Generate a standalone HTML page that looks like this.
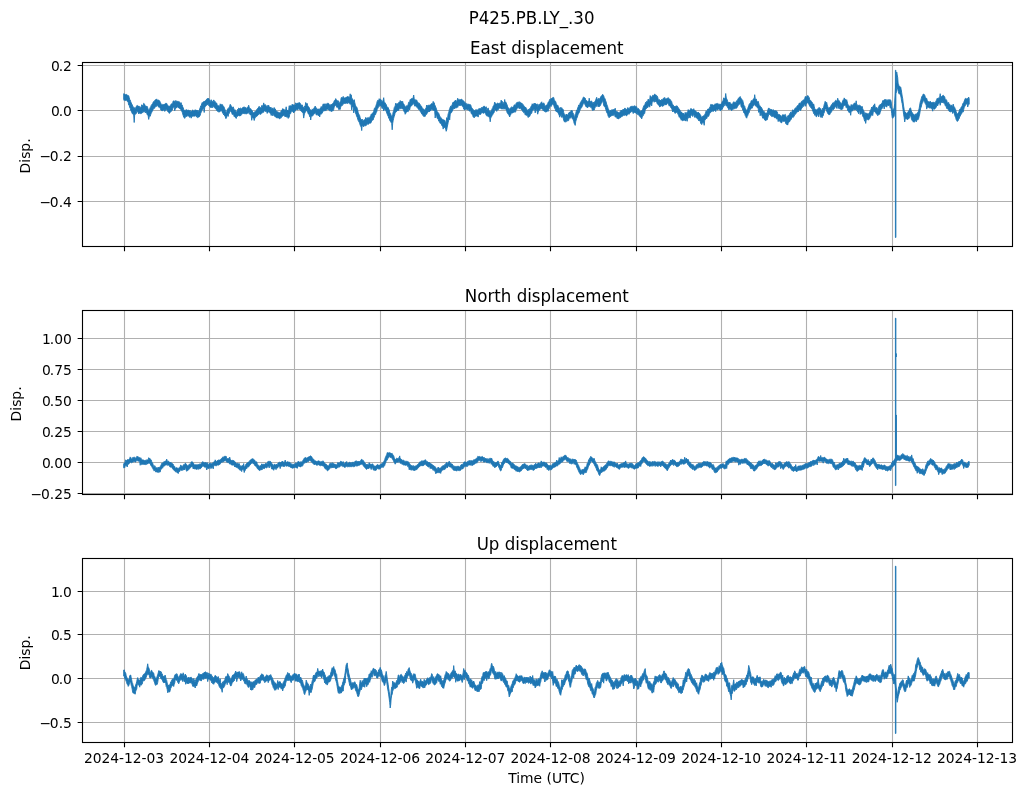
<!DOCTYPE html>
<html><head><meta charset="utf-8"><title>P425.PB.LY_.30</title>
<style>html,body{margin:0;padding:0;background:#fff}svg{display:block}text{font-family:"DejaVu Sans","Liberation Sans",sans-serif;fill:#000}</style></head><body>
<svg width="1026" height="795" viewBox="0 0 1026 795">
<rect width="1026" height="795" fill="#fff"/>
<text transform="translate(531.6 24) scale(1 1.08)" font-size="16.67" text-anchor="middle">P425.PB.LY_.30</text>
<g>
<path d="M124.50 62.50V246.50M209.50 62.50V246.50M294.50 62.50V246.50M380.50 62.50V246.50M465.50 62.50V246.50M550.50 62.50V246.50M636.50 62.50V246.50M721.50 62.50V246.50M806.50 62.50V246.50M892.50 62.50V246.50M977.50 62.50V246.50M82.50 65.50H1012.50M82.50 110.50H1012.50M82.50 156.50H1012.50M82.50 201.50H1012.50" stroke="#b0b0b0" stroke-width="1.11" fill="none"/>
<clipPath id="c0"><rect x="82.50" y="62.50" width="930.00" height="184.00"/></clipPath>
<path clip-path="url(#c0)" d="M123.7 93.7L124.2 93.8L124.7 94.2L125.2 94.8L125.7 94.5L126.2 94.4L126.7 94.5L127.2 95.6L127.7 95.3L128.2 95.6L128.7 95.7L129.2 97.6L129.7 99.4L130.2 100.0L130.7 101.6L131.2 102.7L131.7 104.0L132.2 104.7L132.7 106.2L133.2 106.6L133.7 107.6L134.2 109.5L134.7 107.6L135.2 108.4L135.7 108.0L136.2 106.8L136.7 105.7L137.2 105.4L137.7 105.7L138.2 107.0L138.7 105.9L139.2 107.7L139.7 106.4L140.2 107.8L140.7 107.6L141.2 106.7L141.7 104.8L142.2 105.1L142.7 105.8L143.2 105.4L143.7 103.3L144.2 103.7L144.7 104.6L145.2 105.6L145.7 106.3L146.2 106.0L146.7 107.2L147.2 106.4L147.7 107.8L148.2 109.4L148.7 110.4L149.2 109.5L149.7 108.8L150.2 107.5L150.7 107.0L151.2 105.4L151.7 104.7L152.2 104.0L152.7 103.8L153.2 102.1L153.7 101.5L154.2 101.6L154.7 100.5L155.2 99.8L155.7 99.8L156.2 99.9L156.7 98.9L157.2 100.8L157.7 99.9L158.2 100.0L158.7 100.1L159.2 100.9L159.7 100.8L160.2 102.3L160.7 102.8L161.2 104.5L161.7 104.7L162.2 104.3L162.7 104.8L163.2 104.6L163.7 104.7L164.2 104.0L164.7 104.3L165.2 104.1L165.7 103.3L166.2 103.5L166.7 103.3L167.2 104.5L167.7 105.1L168.2 106.2L168.7 106.0L169.2 106.9L169.7 105.9L170.2 105.9L170.7 105.1L171.2 104.0L171.7 103.8L172.2 103.8L172.7 103.0L173.2 101.0L173.7 100.9L174.2 100.8L174.7 101.6L175.2 102.6L175.7 100.5L176.2 101.4L176.7 101.1L177.2 101.3L177.7 101.3L178.2 101.9L178.7 101.4L179.2 101.6L179.7 102.2L180.2 103.0L180.7 103.3L181.2 102.7L181.7 104.7L182.2 105.0L182.7 106.8L183.2 107.8L183.7 109.3L184.2 110.7L184.7 110.1L185.2 110.7L185.7 110.7L186.2 109.5L186.7 110.2L187.2 110.5L187.7 110.0L188.2 110.2L188.7 110.0L189.2 110.5L189.7 111.1L190.2 110.4L190.7 111.4L191.2 112.1L191.7 111.1L192.2 111.1L192.7 109.8L193.2 110.6L193.7 111.1L194.2 110.8L194.7 110.7L195.2 109.7L195.7 110.2L196.2 110.1L196.7 110.6L197.2 110.1L197.7 110.9L198.2 111.5L198.7 110.6L199.2 110.9L199.7 108.7L200.2 107.6L200.7 105.9L201.2 105.8L201.7 103.7L202.2 102.6L202.7 103.2L203.2 101.8L203.7 102.1L204.2 101.1L204.7 101.7L205.2 100.7L205.7 100.5L206.2 99.9L206.7 99.1L207.2 99.2L207.7 98.3L208.2 99.1L208.7 98.3L209.2 99.8L209.7 100.0L210.2 101.4L210.7 101.4L211.2 99.7L211.7 101.8L212.2 100.9L212.7 101.4L213.2 101.7L213.7 99.9L214.2 101.2L214.7 101.2L215.2 101.5L215.7 102.5L216.2 102.9L216.7 103.1L217.2 104.8L217.7 105.6L218.2 106.1L218.7 105.5L219.2 106.5L219.7 106.2L220.2 103.8L220.7 104.9L221.2 104.7L221.7 104.4L222.2 104.6L222.7 104.8L223.2 107.0L223.7 106.5L224.2 107.3L224.7 108.9L225.2 109.9L225.7 111.8L226.2 112.9L226.7 111.4L227.2 110.0L227.7 108.8L228.2 108.4L228.7 107.8L229.2 107.6L229.7 106.2L230.2 104.3L230.7 104.8L231.2 106.2L231.7 106.5L232.2 107.6L232.7 107.7L233.2 106.8L233.7 108.2L234.2 109.5L234.7 110.2L235.2 109.8L235.7 112.1L236.2 112.2L236.7 111.4L237.2 110.8L237.7 109.2L238.2 109.8L238.7 108.0L239.2 108.4L239.7 108.6L240.2 108.2L240.7 108.2L241.2 108.5L241.7 109.0L242.2 108.1L242.7 107.7L243.2 107.0L243.7 107.3L244.2 106.8L244.7 107.6L245.2 107.6L245.7 107.5L246.2 108.0L246.7 108.4L247.2 107.4L247.7 107.6L248.2 106.4L248.7 105.2L249.2 107.2L249.7 108.3L250.2 108.9L250.7 108.6L251.2 109.6L251.7 110.0L252.2 110.9L252.7 112.0L253.2 112.4L253.7 112.7L254.2 113.1L254.7 111.7L255.2 111.9L255.7 111.1L256.2 111.0L256.7 109.5L257.2 109.3L257.7 108.3L258.2 108.1L258.7 107.1L259.2 106.3L259.7 107.6L260.2 107.7L260.7 107.6L261.2 107.7L261.7 105.5L262.2 106.5L262.7 105.5L263.2 105.3L263.7 102.9L264.2 105.0L264.7 105.1L265.2 104.5L265.7 105.2L266.2 105.9L266.7 106.2L267.2 106.4L267.7 105.4L268.2 106.2L268.7 105.2L269.2 107.1L269.7 107.1L270.2 107.8L270.7 107.1L271.2 107.6L271.7 108.4L272.2 108.8L272.7 107.9L273.2 108.9L273.7 109.8L274.2 107.5L274.7 110.4L275.2 108.8L275.7 109.9L276.2 111.4L276.7 111.0L277.2 111.6L277.7 112.1L278.2 111.9L278.7 112.5L279.2 112.7L279.7 112.8L280.2 112.5L280.7 112.0L281.2 110.9L281.7 110.3L282.2 110.0L282.7 108.6L283.2 110.1L283.7 108.9L284.2 109.4L284.7 110.6L285.2 109.9L285.7 109.7L286.2 106.8L286.7 111.3L287.2 109.9L287.7 110.9L288.2 111.1L288.7 109.5L289.2 105.8L289.7 107.8L290.2 105.4L290.7 107.0L291.2 106.1L291.7 105.9L292.2 104.2L292.7 105.0L293.2 105.1L293.7 104.9L294.2 104.6L294.7 105.8L295.2 104.9L295.7 102.8L296.2 103.3L296.7 103.7L297.2 104.1L297.7 102.9L298.2 103.8L298.7 102.7L299.2 102.9L299.7 102.6L300.2 103.3L300.7 104.2L301.2 104.8L301.7 105.3L302.2 104.9L302.7 106.3L303.2 106.9L303.7 107.8L304.2 107.7L304.7 106.0L305.2 105.9L305.7 102.5L306.2 103.4L306.7 104.0L307.2 103.4L307.7 105.6L308.2 106.7L308.7 106.8L309.2 107.6L309.7 109.1L310.2 109.6L310.7 109.9L311.2 110.4L311.7 111.0L312.2 108.9L312.7 109.4L313.2 109.3L313.7 108.5L314.2 107.5L314.7 107.2L315.2 106.1L315.7 107.2L316.2 107.8L316.7 109.2L317.2 109.3L317.7 109.1L318.2 109.3L318.7 108.8L319.2 109.5L319.7 109.6L320.2 108.1L320.7 108.3L321.2 106.5L321.7 107.3L322.2 107.2L322.7 105.3L323.2 103.9L323.7 104.8L324.2 103.7L324.7 105.1L325.2 105.4L325.7 103.8L326.2 104.2L326.7 103.9L327.2 103.7L327.7 102.9L328.2 103.4L328.7 103.5L329.2 104.4L329.7 105.3L330.2 104.7L330.7 105.4L331.2 104.3L331.7 105.0L332.2 103.9L332.7 103.8L333.2 102.8L333.7 102.7L334.2 100.7L334.7 100.4L335.2 100.1L335.7 98.6L336.2 99.7L336.7 99.9L337.2 100.4L337.7 101.2L338.2 100.7L338.7 102.2L339.2 103.2L339.7 103.0L340.2 101.5L340.7 100.7L341.2 97.7L341.7 97.4L342.2 98.1L342.7 97.4L343.2 96.4L343.7 97.8L344.2 97.8L344.7 98.1L345.2 97.7L345.7 98.1L346.2 97.0L346.7 97.3L347.2 96.6L347.7 96.6L348.2 97.2L348.7 96.6L349.2 97.6L349.7 97.6L350.2 93.8L350.7 98.1L351.2 94.8L351.7 98.4L352.2 98.4L352.7 100.1L353.2 100.2L353.7 101.8L354.2 99.6L354.7 102.2L355.2 104.3L355.7 105.8L356.2 106.9L356.7 107.0L357.2 108.2L357.7 109.9L358.2 112.6L358.7 113.9L359.2 114.8L359.7 115.7L360.2 117.8L360.7 119.1L361.2 120.1L361.7 119.6L362.2 119.0L362.7 120.9L363.2 120.6L363.7 120.2L364.2 120.0L364.7 119.6L365.2 119.9L365.7 117.4L366.2 120.0L366.7 118.2L367.2 118.6L367.7 117.6L368.2 118.6L368.7 117.5L369.2 117.9L369.7 117.4L370.2 116.2L370.7 116.3L371.2 114.0L371.7 114.4L372.2 113.3L372.7 113.7L373.2 112.0L373.7 111.6L374.2 108.9L374.7 107.9L375.2 107.8L375.7 106.5L376.2 105.0L376.7 103.4L377.2 101.4L377.7 100.3L378.2 100.2L378.7 100.7L379.2 98.7L379.7 99.2L380.2 99.0L380.7 99.5L381.2 99.9L381.7 101.6L382.2 101.6L382.7 101.0L383.2 100.1L383.7 97.7L384.2 101.9L384.7 102.7L385.2 102.8L385.7 104.3L386.2 104.4L386.7 106.1L387.2 107.0L387.7 107.6L388.2 107.5L388.7 109.2L389.2 109.6L389.7 112.2L390.2 113.4L390.7 113.6L391.2 116.0L391.7 115.9L392.2 116.8L392.7 114.4L393.2 111.9L393.7 110.8L394.2 107.7L394.7 106.9L395.2 105.9L395.7 103.2L396.2 104.8L396.7 103.7L397.2 103.8L397.7 103.7L398.2 103.2L398.7 102.8L399.2 101.9L399.7 103.1L400.2 100.5L400.7 102.8L401.2 101.4L401.7 101.6L402.2 101.0L402.7 101.5L403.2 103.7L403.7 103.8L404.2 104.7L404.7 105.5L405.2 107.1L405.7 106.9L406.2 106.3L406.7 105.6L407.2 105.9L407.7 105.5L408.2 104.2L408.7 102.2L409.2 102.5L409.7 101.4L410.2 99.3L410.7 99.4L411.2 98.8L411.7 98.5L412.2 98.4L412.7 98.6L413.2 97.4L413.7 95.0L414.2 98.5L414.7 99.7L415.2 99.5L415.7 100.3L416.2 100.3L416.7 99.9L417.2 101.5L417.7 101.9L418.2 102.6L418.7 103.5L419.2 103.1L419.7 103.9L420.2 104.6L420.7 105.5L421.2 106.1L421.7 106.5L422.2 107.9L422.7 108.6L423.2 109.0L423.7 108.9L424.2 110.0L424.7 110.1L425.2 110.3L425.7 108.3L426.2 107.6L426.7 105.0L427.2 106.9L427.7 105.4L428.2 105.2L428.7 105.2L429.2 105.9L429.7 104.9L430.2 105.0L430.7 104.8L431.2 103.8L431.7 103.6L432.2 103.8L432.7 103.5L433.2 101.4L433.7 104.1L434.2 102.7L434.7 105.1L435.2 105.6L435.7 107.1L436.2 108.1L436.7 109.9L437.2 111.8L437.7 112.0L438.2 112.7L438.7 113.3L439.2 114.4L439.7 116.0L440.2 116.7L440.7 117.4L441.2 118.0L441.7 118.4L442.2 119.0L442.7 119.7L443.2 119.9L443.7 119.7L444.2 120.5L444.7 120.1L445.2 121.4L445.7 122.5L446.2 122.2L446.7 117.6L447.2 119.3L447.7 117.5L448.2 113.4L448.7 113.0L449.2 110.0L449.7 108.6L450.2 107.1L450.7 106.1L451.2 106.4L451.7 105.6L452.2 104.5L452.7 103.0L453.2 102.0L453.7 102.9L454.2 101.3L454.7 101.1L455.2 101.0L455.7 100.0L456.2 101.7L456.7 100.9L457.2 100.3L457.7 98.2L458.2 99.7L458.7 99.7L459.2 99.3L459.7 99.9L460.2 99.8L460.7 99.6L461.2 99.1L461.7 99.2L462.2 99.7L462.7 100.6L463.2 100.5L463.7 101.1L464.2 101.6L464.7 102.8L465.2 102.5L465.7 103.5L466.2 103.3L466.7 104.3L467.2 104.4L467.7 104.0L468.2 104.2L468.7 104.0L469.2 105.0L469.7 104.4L470.2 104.6L470.7 104.9L471.2 106.5L471.7 107.8L472.2 108.2L472.7 108.9L473.2 109.5L473.7 110.2L474.2 110.3L474.7 110.8L475.2 110.9L475.7 109.7L476.2 109.5L476.7 110.3L477.2 110.3L477.7 109.7L478.2 109.7L478.7 108.7L479.2 108.8L479.7 108.5L480.2 108.6L480.7 108.4L481.2 108.6L481.7 107.3L482.2 107.9L482.7 107.2L483.2 106.5L483.7 106.9L484.2 105.9L484.7 106.6L485.2 107.3L485.7 108.0L486.2 106.7L486.7 109.4L487.2 110.4L487.7 108.4L488.2 107.9L488.7 110.2L489.2 110.6L489.7 111.1L490.2 112.1L490.7 111.4L491.2 110.4L491.7 109.7L492.2 108.5L492.7 107.9L493.2 106.0L493.7 105.9L494.2 104.4L494.7 102.1L495.2 103.1L495.7 104.1L496.2 103.9L496.7 104.1L497.2 103.3L497.7 102.9L498.2 103.8L498.7 103.4L499.2 103.4L499.7 103.1L500.2 103.2L500.7 102.6L501.2 100.1L501.7 102.3L502.2 101.2L502.7 104.0L503.2 103.9L503.7 102.4L504.2 103.4L504.7 99.5L505.2 103.2L505.7 101.8L506.2 102.8L506.7 104.1L507.2 105.1L507.7 107.1L508.2 107.6L508.7 108.1L509.2 109.0L509.7 109.7L510.2 108.2L510.7 107.7L511.2 107.7L511.7 106.7L512.2 107.0L512.7 107.6L513.2 106.8L513.7 106.5L514.2 104.8L514.7 105.0L515.2 105.2L515.7 104.8L516.2 103.2L516.7 102.6L517.2 102.5L517.7 102.3L518.2 102.4L518.7 101.8L519.2 102.5L519.7 101.7L520.2 102.2L520.7 102.7L521.2 103.1L521.7 103.0L522.2 103.7L522.7 104.2L523.2 104.6L523.7 105.5L524.2 106.7L524.7 106.6L525.2 108.1L525.7 107.2L526.2 108.1L526.7 110.0L527.2 109.6L527.7 110.8L528.2 110.7L528.7 109.2L529.2 110.3L529.7 108.5L530.2 108.6L530.7 107.2L531.2 106.1L531.7 106.0L532.2 103.8L532.7 104.3L533.2 104.3L533.7 104.5L534.2 103.0L534.7 104.6L535.2 103.5L535.7 103.7L536.2 104.1L536.7 104.7L537.2 103.8L537.7 106.4L538.2 105.7L538.7 104.5L539.2 104.3L539.7 104.4L540.2 103.7L540.7 103.5L541.2 102.3L541.7 101.8L542.2 103.4L542.7 103.6L543.2 103.6L543.7 102.8L544.2 103.7L544.7 105.4L545.2 106.0L545.7 106.3L546.2 105.0L546.7 105.2L547.2 104.6L547.7 103.6L548.2 102.1L548.7 102.3L549.2 100.7L549.7 99.4L550.2 99.2L550.7 99.8L551.2 98.3L551.7 99.2L552.2 97.9L552.7 97.7L553.2 97.2L553.7 97.5L554.2 99.4L554.7 100.5L555.2 101.2L555.7 101.5L556.2 103.3L556.7 104.7L557.2 105.4L557.7 105.0L558.2 106.2L558.7 107.6L559.2 107.7L559.7 109.4L560.2 109.9L560.7 107.3L561.2 108.4L561.7 107.7L562.2 108.5L562.7 110.2L563.2 109.5L563.7 112.4L564.2 113.7L564.7 114.5L565.2 115.7L565.7 116.0L566.2 114.0L566.7 115.1L567.2 115.1L567.7 114.7L568.2 114.2L568.7 112.9L569.2 113.1L569.7 112.0L570.2 112.1L570.7 111.5L571.2 110.3L571.7 110.9L572.2 110.6L572.7 112.5L573.2 113.2L573.7 114.4L574.2 116.6L574.7 117.4L575.2 114.6L575.7 113.6L576.2 111.4L576.7 110.1L577.2 110.3L577.7 107.8L578.2 106.9L578.7 105.0L579.2 105.3L579.7 104.6L580.2 102.8L580.7 102.2L581.2 101.2L581.7 100.4L582.2 99.6L582.7 99.1L583.2 97.3L583.7 97.2L584.2 97.5L584.7 97.7L585.2 98.1L585.7 100.1L586.2 100.6L586.7 100.4L587.2 101.4L587.7 102.1L588.2 101.0L588.7 101.5L589.2 98.2L589.7 100.6L590.2 101.2L590.7 101.7L591.2 100.9L591.7 101.2L592.2 102.0L592.7 104.1L593.2 104.1L593.7 102.1L594.2 103.3L594.7 101.7L595.2 101.0L595.7 100.1L596.2 98.6L596.7 97.3L597.2 99.4L597.7 99.4L598.2 99.4L598.7 98.3L599.2 100.0L599.7 98.6L600.2 98.0L600.7 97.0L601.2 96.0L601.7 95.9L602.2 95.0L602.7 94.3L603.2 95.1L603.7 95.7L604.2 97.5L604.7 98.2L605.2 99.1L605.7 100.9L606.2 102.1L606.7 104.2L607.2 105.3L607.7 106.7L608.2 109.1L608.7 109.3L609.2 111.6L609.7 110.9L610.2 110.6L610.7 110.0L611.2 110.7L611.7 109.7L612.2 110.1L612.7 109.7L613.2 109.6L613.7 109.6L614.2 109.5L614.7 109.5L615.2 108.2L615.7 110.9L616.2 111.1L616.7 111.6L617.2 111.9L617.7 111.7L618.2 112.5L618.7 112.6L619.2 112.7L619.7 112.5L620.2 111.4L620.7 110.7L621.2 110.0L621.7 110.9L622.2 110.6L622.7 109.7L623.2 109.0L623.7 109.5L624.2 109.2L624.7 108.2L625.2 108.2L625.7 108.9L626.2 110.1L626.7 109.3L627.2 109.2L627.7 107.6L628.2 108.4L628.7 108.3L629.2 108.7L629.7 108.1L630.2 106.8L630.7 106.7L631.2 106.3L631.7 106.5L632.2 106.0L632.7 106.4L633.2 106.4L633.7 106.2L634.2 107.0L634.7 105.6L635.2 106.4L635.7 106.6L636.2 106.4L636.7 106.8L637.2 108.6L637.7 109.0L638.2 108.3L638.7 109.0L639.2 109.5L639.7 110.4L640.2 110.8L640.7 111.7L641.2 110.7L641.7 110.9L642.2 110.1L642.7 109.3L643.2 107.4L643.7 106.1L644.2 105.2L644.7 105.5L645.2 103.6L645.7 102.2L646.2 102.7L646.7 101.3L647.2 101.4L647.7 100.7L648.2 99.0L648.7 99.5L649.2 100.5L649.7 99.9L650.2 95.6L650.7 97.2L651.2 97.1L651.7 97.2L652.2 96.2L652.7 95.3L653.2 95.5L653.7 95.4L654.2 94.9L654.7 93.9L655.2 95.0L655.7 95.0L656.2 95.0L656.7 96.4L657.2 96.1L657.7 97.1L658.2 99.3L658.7 100.2L659.2 99.4L659.7 100.1L660.2 101.0L660.7 100.1L661.2 100.6L661.7 99.3L662.2 99.8L662.7 100.0L663.2 98.6L663.7 98.0L664.2 98.4L664.7 97.4L665.2 99.0L665.7 98.9L666.2 98.8L666.7 98.9L667.2 98.1L667.7 98.4L668.2 97.6L668.7 98.6L669.2 98.9L669.7 99.1L670.2 99.4L670.7 100.2L671.2 101.1L671.7 101.6L672.2 103.8L672.7 104.5L673.2 104.9L673.7 105.9L674.2 107.1L674.7 106.2L675.2 106.8L675.7 106.1L676.2 106.2L676.7 105.8L677.2 105.9L677.7 106.9L678.2 107.5L678.7 108.3L679.2 109.3L679.7 109.6L680.2 110.6L680.7 111.6L681.2 113.2L681.7 111.9L682.2 113.8L682.7 113.0L683.2 113.9L683.7 113.2L684.2 114.9L684.7 114.9L685.2 112.3L685.7 114.1L686.2 114.0L686.7 112.5L687.2 112.6L687.7 111.5L688.2 109.6L688.7 110.5L689.2 110.8L689.7 110.2L690.2 109.7L690.7 108.6L691.2 108.7L691.7 108.9L692.2 109.5L692.7 110.2L693.2 109.3L693.7 108.7L694.2 109.9L694.7 111.0L695.2 111.0L695.7 110.8L696.2 112.2L696.7 112.1L697.2 112.4L697.7 113.0L698.2 112.0L698.7 112.8L699.2 113.3L699.7 113.5L700.2 114.8L700.7 115.2L701.2 116.4L701.7 118.3L702.2 117.0L702.7 116.2L703.2 116.0L703.7 115.8L704.2 115.6L704.7 114.6L705.2 113.8L705.7 112.2L706.2 110.7L706.7 111.6L707.2 111.3L707.7 109.1L708.2 108.9L708.7 109.1L709.2 108.5L709.7 107.2L710.2 106.9L710.7 104.4L711.2 104.4L711.7 104.8L712.2 104.8L712.7 104.7L713.2 104.8L713.7 105.3L714.2 104.9L714.7 104.7L715.2 103.7L715.7 104.8L716.2 103.6L716.7 103.8L717.2 103.4L717.7 103.7L718.2 103.7L718.7 104.3L719.2 104.5L719.7 104.1L720.2 104.1L720.7 104.3L721.2 103.8L721.7 103.4L722.2 101.5L722.7 101.4L723.2 100.1L723.7 97.8L724.2 98.8L724.7 98.4L725.2 98.0L725.7 93.5L726.2 97.2L726.7 98.9L727.2 99.8L727.7 101.4L728.2 102.4L728.7 102.5L729.2 102.0L729.7 102.6L730.2 102.5L730.7 103.7L731.2 104.1L731.7 104.1L732.2 104.2L732.7 104.1L733.2 102.4L733.7 101.7L734.2 103.2L734.7 102.2L735.2 102.5L735.7 102.1L736.2 102.5L736.7 100.7L737.2 100.8L737.7 99.4L738.2 98.7L738.7 97.8L739.2 98.3L739.7 97.0L740.2 96.5L740.7 97.7L741.2 98.5L741.7 99.1L742.2 99.9L742.7 100.4L743.2 102.2L743.7 104.7L744.2 105.7L744.7 106.2L745.2 108.4L745.7 108.7L746.2 110.2L746.7 110.6L747.2 110.1L747.7 108.5L748.2 107.1L748.7 106.0L749.2 104.2L749.7 103.6L750.2 103.1L750.7 102.7L751.2 100.7L751.7 100.6L752.2 100.7L752.7 100.4L753.2 99.1L753.7 98.8L754.2 99.0L754.7 94.7L755.2 98.3L755.7 99.9L756.2 98.9L756.7 100.6L757.2 101.6L757.7 102.1L758.2 101.3L758.7 103.0L759.2 104.9L759.7 105.4L760.2 106.7L760.7 106.6L761.2 107.1L761.7 107.9L762.2 109.1L762.7 110.0L763.2 110.9L763.7 111.6L764.2 111.4L764.7 112.4L765.2 112.8L765.7 114.5L766.2 112.9L766.7 113.2L767.2 112.8L767.7 110.7L768.2 108.8L768.7 108.1L769.2 108.2L769.7 109.4L770.2 109.0L770.7 109.6L771.2 109.7L771.7 109.2L772.2 110.9L772.7 110.2L773.2 109.6L773.7 110.2L774.2 110.9L774.7 110.9L775.2 110.4L775.7 112.3L776.2 110.7L776.7 112.1L777.2 111.7L777.7 113.5L778.2 114.1L778.7 114.6L779.2 114.7L779.7 114.5L780.2 115.6L780.7 115.5L781.2 116.6L781.7 117.1L782.2 115.1L782.7 114.7L783.2 115.1L783.7 114.8L784.2 115.2L784.7 114.7L785.2 114.3L785.7 115.5L786.2 117.5L786.7 117.3L787.2 117.4L787.7 116.1L788.2 115.4L788.7 116.1L789.2 114.8L789.7 113.6L790.2 114.2L790.7 111.9L791.2 113.6L791.7 112.3L792.2 111.1L792.7 109.8L793.2 110.1L793.7 110.6L794.2 110.0L794.7 108.8L795.2 108.3L795.7 107.7L796.2 107.4L796.7 106.9L797.2 105.8L797.7 105.6L798.2 105.2L798.7 104.6L799.2 103.1L799.7 103.0L800.2 103.9L800.7 103.1L801.2 101.9L801.7 101.2L802.2 101.2L802.7 100.8L803.2 99.8L803.7 100.2L804.2 99.4L804.7 99.1L805.2 96.6L805.7 96.5L806.2 98.1L806.7 97.0L807.2 95.9L807.7 95.6L808.2 95.8L808.7 97.7L809.2 97.4L809.7 99.7L810.2 100.0L810.7 100.5L811.2 101.5L811.7 101.7L812.2 102.3L812.7 103.6L813.2 105.0L813.7 103.9L814.2 106.3L814.7 108.4L815.2 109.0L815.7 109.6L816.2 109.8L816.7 110.1L817.2 109.2L817.7 108.9L818.2 108.8L818.7 107.7L819.2 107.6L819.7 107.8L820.2 109.9L820.7 108.5L821.2 109.9L821.7 111.1L822.2 110.6L822.7 108.1L823.2 108.8L823.7 107.1L824.2 104.6L824.7 103.2L825.2 101.3L825.7 103.0L826.2 103.1L826.7 102.3L827.2 105.0L827.7 106.4L828.2 107.4L828.7 108.3L829.2 108.1L829.7 107.3L830.2 106.7L830.7 106.6L831.2 105.1L831.7 104.5L832.2 104.3L832.7 102.9L833.2 103.2L833.7 102.4L834.2 102.5L834.7 102.1L835.2 100.9L835.7 100.3L836.2 100.7L836.7 101.1L837.2 100.4L837.7 98.2L838.2 100.3L838.7 100.4L839.2 100.6L839.7 101.6L840.2 102.3L840.7 103.1L841.2 103.7L841.7 103.7L842.2 102.2L842.7 101.0L843.2 99.8L843.7 100.3L844.2 97.9L844.7 99.1L845.2 99.6L845.7 99.2L846.2 100.3L846.7 99.8L847.2 101.5L847.7 103.9L848.2 104.8L848.7 105.6L849.2 106.3L849.7 105.9L850.2 106.8L850.7 106.3L851.2 104.5L851.7 105.3L852.2 105.3L852.7 105.0L853.2 104.4L853.7 104.1L854.2 103.2L854.7 103.1L855.2 103.2L855.7 103.9L856.2 100.8L856.7 105.2L857.2 104.7L857.7 105.4L858.2 105.2L858.7 105.6L859.2 105.2L859.7 105.2L860.2 105.7L860.7 106.1L861.2 106.4L861.7 107.3L862.2 106.4L862.7 108.7L863.2 109.7L863.7 110.7L864.2 112.1L864.7 113.9L865.2 114.5L865.7 112.7L866.2 113.6L866.7 113.3L867.2 113.8L867.7 113.7L868.2 114.6L868.7 113.4L869.2 112.7L869.7 112.6L870.2 110.4L870.7 109.9L871.2 108.9L871.7 107.0L872.2 108.3L872.7 107.1L873.2 106.1L873.7 105.2L874.2 105.6L874.7 103.8L875.2 107.0L875.7 107.5L876.2 107.9L876.7 107.3L877.2 107.9L877.7 110.0L878.2 109.0L878.7 106.7L879.2 105.3L879.7 105.2L880.2 104.3L880.7 104.6L881.2 103.8L881.7 103.3L882.2 102.6L882.7 100.6L883.2 100.7L883.7 100.6L884.2 99.7L884.7 99.9L885.2 99.3L885.7 100.3L886.2 99.6L886.7 100.7L887.2 100.6L887.7 99.7L888.2 100.2L888.7 99.6L889.2 99.6L889.7 100.0L890.2 99.7L890.7 100.0L891.2 101.7L891.7 106.2L892.2 109.5L892.7 110.1L893.2 109.8L893.7 109.1L894.2 107.6L894.7 103.5L895.2 93.1L895.7 84.2L896.2 82.6L896.7 72.0L897.2 75.0L897.7 77.5L898.2 84.2L898.7 84.4L899.2 87.2L899.7 86.3L900.2 87.2L900.7 87.0L901.2 89.5L901.7 92.8L902.2 96.1L902.7 98.6L903.2 102.9L903.7 106.5L904.2 109.6L904.7 113.0L905.2 111.8L905.7 112.8L906.2 113.3L906.7 113.2L907.2 113.0L907.7 112.5L908.2 111.6L908.7 110.8L909.2 110.3L909.7 108.6L910.2 107.8L910.7 108.2L911.2 110.7L911.7 112.0L912.2 112.4L912.7 113.0L913.2 114.9L913.7 114.1L914.2 114.8L914.7 115.2L915.2 115.2L915.7 113.9L916.2 114.2L916.7 114.0L917.2 113.1L917.7 112.4L918.2 112.3L918.7 110.2L919.2 108.2L919.7 105.1L920.2 102.2L920.7 100.5L921.2 98.9L921.7 96.9L922.2 95.9L922.7 95.8L923.2 94.0L923.7 94.0L924.2 94.6L924.7 95.0L925.2 97.0L925.7 97.4L926.2 98.9L926.7 98.3L927.2 100.3L927.7 101.0L928.2 101.5L928.7 101.8L929.2 101.9L929.7 102.1L930.2 101.2L930.7 101.8L931.2 102.7L931.7 102.5L932.2 102.3L932.7 102.6L933.2 102.7L933.7 102.0L934.2 102.2L934.7 103.7L935.2 102.4L935.7 101.5L936.2 100.7L936.7 99.4L937.2 98.2L937.7 98.6L938.2 98.3L938.7 97.9L939.2 97.7L939.7 97.1L940.2 93.7L940.7 97.4L941.2 96.7L941.7 96.5L942.2 96.1L942.7 95.6L943.2 95.2L943.7 96.1L944.2 96.2L944.7 96.7L945.2 99.3L945.7 99.8L946.2 99.5L946.7 100.3L947.2 102.3L947.7 103.0L948.2 102.7L948.7 102.4L949.2 104.6L949.7 104.1L950.2 105.2L950.7 106.3L951.2 105.2L951.7 105.2L952.2 106.3L952.7 106.3L953.2 104.1L953.7 106.0L954.2 106.9L954.7 107.5L955.2 109.1L955.7 109.5L956.2 111.9L956.7 113.2L957.2 114.1L957.7 113.8L958.2 113.1L958.7 112.3L959.2 111.1L959.7 109.2L960.2 109.1L960.7 108.6L961.2 107.0L961.7 107.0L962.2 105.8L962.7 104.1L963.2 103.0L963.7 102.7L964.2 101.1L964.7 100.0L965.2 98.5L965.7 98.4L966.2 98.6L966.7 99.0L967.2 98.5L967.7 98.4L968.2 98.4L968.7 97.1L969.2 98.8L969.2 104.3L968.7 104.6L968.2 104.9L967.7 107.0L967.2 103.2L966.7 104.1L966.2 104.1L965.7 104.7L965.2 105.8L964.7 106.5L964.2 107.6L963.7 109.6L963.2 112.1L962.7 111.5L962.2 112.6L961.7 113.5L961.2 114.2L960.7 115.1L960.2 116.2L959.7 116.8L959.2 118.7L958.7 118.8L958.2 120.5L957.7 121.1L957.2 121.5L956.7 120.6L956.2 119.7L955.7 117.7L955.2 116.7L954.7 115.0L954.2 112.9L953.7 112.5L953.2 111.7L952.7 113.5L952.2 111.8L951.7 111.4L951.2 111.5L950.7 112.0L950.2 111.8L949.7 111.4L949.2 111.4L948.7 110.5L948.2 109.5L947.7 108.9L947.2 107.8L946.7 108.5L946.2 106.6L945.7 106.2L945.2 105.5L944.7 103.7L944.2 102.9L943.7 103.2L943.2 102.2L942.7 101.3L942.2 103.0L941.7 102.2L941.2 102.1L940.7 102.9L940.2 105.3L939.7 102.2L939.2 102.8L938.7 103.7L938.2 104.3L937.7 105.9L937.2 105.2L936.7 105.8L936.2 107.2L935.7 107.9L935.2 108.5L934.7 109.2L934.2 109.1L933.7 108.9L933.2 108.3L932.7 111.2L932.2 108.4L931.7 108.6L931.2 108.5L930.7 108.2L930.2 107.2L929.7 108.3L929.2 107.4L928.7 107.6L928.2 106.9L927.7 107.4L927.2 106.7L926.7 109.1L926.2 105.3L925.7 104.3L925.2 103.5L924.7 102.0L924.2 101.5L923.7 100.3L923.2 100.8L922.7 102.6L922.2 103.4L921.7 104.8L921.2 107.1L920.7 108.0L920.2 110.8L919.7 114.1L919.2 116.1L918.7 118.3L918.2 119.6L917.7 119.5L917.2 120.2L916.7 120.4L916.2 121.9L915.7 120.5L915.2 120.5L914.7 121.3L914.2 122.3L913.7 120.9L913.2 122.1L912.7 120.0L912.2 120.6L911.7 119.8L911.2 117.8L910.7 116.0L910.2 114.4L909.7 116.1L909.2 118.3L908.7 118.4L908.2 118.9L907.7 119.7L907.2 119.0L906.7 119.1L906.2 118.7L905.7 118.7L905.2 119.3L904.7 122.0L904.2 117.6L903.7 114.8L903.2 111.0L902.7 107.0L902.2 103.6L901.7 101.7L901.2 98.0L900.7 95.8L900.2 94.7L899.7 93.5L899.2 94.1L898.7 93.3L898.2 91.2L897.7 89.5L897.2 86.1L896.7 88.5L896.2 92.7L895.7 92.2L895.2 101.9L894.7 111.4L894.2 116.1L893.7 117.0L893.2 117.6L892.7 118.3L892.2 117.4L891.7 113.5L891.2 109.2L890.7 107.3L890.2 108.1L889.7 105.5L889.2 104.8L888.7 105.9L888.2 105.1L887.7 105.2L887.2 105.5L886.7 107.2L886.2 105.8L885.7 106.5L885.2 104.6L884.7 105.9L884.2 109.0L883.7 105.9L883.2 106.3L882.7 107.4L882.2 108.4L881.7 108.9L881.2 109.5L880.7 111.1L880.2 112.4L879.7 114.3L879.2 113.9L878.7 114.7L878.2 115.2L877.7 115.7L877.2 114.6L876.7 114.1L876.2 113.8L875.7 112.8L875.2 112.1L874.7 111.6L874.2 112.1L873.7 111.6L873.2 112.6L872.7 115.6L872.2 114.4L871.7 115.1L871.2 115.3L870.7 116.5L870.2 117.4L869.7 118.7L869.2 119.1L868.7 119.8L868.2 120.0L867.7 119.8L867.2 119.2L866.7 118.8L866.2 120.0L865.7 123.4L865.2 120.1L864.7 121.2L864.2 119.6L863.7 117.4L863.2 117.1L862.7 115.9L862.2 114.3L861.7 113.8L861.2 112.7L860.7 112.9L860.2 114.5L859.7 110.4L859.2 110.5L858.7 113.8L858.2 112.6L857.7 112.1L857.2 110.6L856.7 110.7L856.2 109.3L855.7 109.9L855.2 109.0L854.7 109.9L854.2 109.7L853.7 109.6L853.2 109.7L852.7 110.7L852.2 111.2L851.7 111.0L851.2 111.1L850.7 115.3L850.2 112.6L849.7 111.8L849.2 112.7L848.7 111.5L848.2 111.3L847.7 110.5L847.2 108.1L846.7 106.8L846.2 107.7L845.7 105.7L845.2 105.2L844.7 105.4L844.2 105.3L843.7 106.1L843.2 106.8L842.7 109.1L842.2 108.7L841.7 109.8L841.2 109.3L840.7 109.4L840.2 108.7L839.7 108.8L839.2 107.7L838.7 106.1L838.2 108.6L837.7 105.3L837.2 106.3L836.7 108.4L836.2 106.3L835.7 107.1L835.2 106.6L834.7 108.0L834.2 108.7L833.7 109.4L833.2 109.7L832.7 109.5L832.2 110.1L831.7 111.5L831.2 112.3L830.7 113.1L830.2 113.5L829.7 114.8L829.2 114.4L828.7 114.6L828.2 113.9L827.7 113.5L827.2 112.1L826.7 111.3L826.2 109.4L825.7 109.1L825.2 109.0L824.7 109.9L824.2 112.8L823.7 113.6L823.2 115.8L822.7 116.3L822.2 117.7L821.7 117.1L821.2 116.8L820.7 117.3L820.2 115.8L819.7 114.3L819.2 112.9L818.7 116.9L818.2 114.5L817.7 114.1L817.2 115.5L816.7 116.6L816.2 116.9L815.7 115.0L815.2 114.8L814.7 115.3L814.2 112.9L813.7 113.6L813.2 111.8L812.7 111.1L812.2 108.8L811.7 108.7L811.2 108.1L810.7 107.6L810.2 106.2L809.7 106.3L809.2 104.9L808.7 103.7L808.2 103.6L807.7 103.2L807.2 102.4L806.7 103.0L806.2 104.2L805.7 106.3L805.2 103.4L804.7 104.6L804.2 105.6L803.7 106.5L803.2 105.6L802.7 106.8L802.2 107.8L801.7 107.9L801.2 109.1L800.7 110.5L800.2 110.4L799.7 110.2L799.2 109.5L798.7 110.7L798.2 111.9L797.7 111.2L797.2 112.2L796.7 112.3L796.2 113.1L795.7 114.1L795.2 114.4L794.7 114.6L794.2 116.0L793.7 116.8L793.2 117.5L792.7 117.1L792.2 117.6L791.7 118.0L791.2 119.3L790.7 120.0L790.2 120.5L789.7 121.7L789.2 121.8L788.7 122.4L788.2 122.9L787.7 125.1L787.2 123.4L786.7 124.6L786.2 123.6L785.7 123.6L785.2 121.0L784.7 121.4L784.2 120.9L783.7 121.6L783.2 121.1L782.7 120.8L782.2 121.7L781.7 122.8L781.2 122.9L780.7 121.8L780.2 122.1L779.7 120.6L779.2 120.9L778.7 120.3L778.2 121.6L777.7 119.2L777.2 118.7L776.7 118.9L776.2 118.5L775.7 118.1L775.2 117.2L774.7 117.6L774.2 117.5L773.7 116.7L773.2 115.7L772.7 115.9L772.2 116.7L771.7 116.6L771.2 114.7L770.7 115.6L770.2 114.0L769.7 114.6L769.2 113.5L768.7 114.8L768.2 116.5L767.7 118.0L767.2 119.9L766.7 120.1L766.2 119.8L765.7 120.6L765.2 120.5L764.7 120.0L764.2 118.9L763.7 117.9L763.2 118.1L762.7 118.2L762.2 116.5L761.7 115.5L761.2 113.7L760.7 113.6L760.2 115.8L759.7 112.1L759.2 111.0L758.7 112.4L758.2 108.6L757.7 107.8L757.2 107.7L756.7 106.8L756.2 105.8L755.7 106.0L755.2 105.8L754.7 104.6L754.2 104.8L753.7 105.2L753.2 106.2L752.7 106.5L752.2 108.2L751.7 107.9L751.2 108.3L750.7 109.4L750.2 109.2L749.7 109.8L749.2 112.7L748.7 112.4L748.2 114.2L747.7 115.8L747.2 116.5L746.7 118.2L746.2 117.6L745.7 116.3L745.2 115.5L744.7 113.2L744.2 113.3L743.7 112.7L743.2 110.2L742.7 110.1L742.2 107.6L741.7 107.4L741.2 107.0L740.7 104.2L740.2 103.6L739.7 104.0L739.2 104.5L738.7 104.7L738.2 105.5L737.7 106.3L737.2 107.5L736.7 107.9L736.2 108.3L735.7 108.5L735.2 107.8L734.7 108.5L734.2 109.1L733.7 109.3L733.2 108.3L732.7 109.4L732.2 109.9L731.7 110.7L731.2 110.2L730.7 109.2L730.2 109.2L729.7 109.5L729.2 108.5L728.7 109.7L728.2 108.2L727.7 107.7L727.2 106.6L726.7 105.8L726.2 105.9L725.7 105.0L725.2 104.6L724.7 104.1L724.2 106.1L723.7 105.6L723.2 107.4L722.7 107.8L722.2 109.5L721.7 109.6L721.2 110.0L720.7 110.6L720.2 110.7L719.7 109.6L719.2 109.6L718.7 109.1L718.2 109.3L717.7 109.0L717.2 110.2L716.7 109.3L716.2 108.9L715.7 111.6L715.2 109.9L714.7 110.3L714.2 110.2L713.7 111.1L713.2 111.6L712.7 110.3L712.2 111.4L711.7 111.8L711.2 110.7L710.7 111.9L710.2 113.0L709.7 113.5L709.2 114.8L708.7 116.3L708.2 116.4L707.7 116.3L707.2 117.2L706.7 118.7L706.2 118.1L705.7 118.9L705.2 119.9L704.7 120.6L704.2 125.3L703.7 122.9L703.2 121.8L702.7 122.8L702.2 122.9L701.7 124.6L701.2 122.8L700.7 123.4L700.2 121.0L699.7 120.9L699.2 119.8L698.7 120.8L698.2 119.2L697.7 119.0L697.2 118.7L696.7 117.8L696.2 117.9L695.7 117.0L695.2 116.4L694.7 117.4L694.2 115.5L693.7 114.6L693.2 115.6L692.7 116.6L692.2 114.9L691.7 114.3L691.2 115.6L690.7 114.8L690.2 118.1L689.7 117.6L689.2 117.0L688.7 116.6L688.2 118.3L687.7 117.2L687.2 121.3L686.7 119.6L686.2 119.5L685.7 121.1L685.2 119.5L684.7 120.3L684.2 120.2L683.7 120.4L683.2 120.2L682.7 120.6L682.2 120.7L681.7 119.4L681.2 120.2L680.7 118.4L680.2 118.4L679.7 116.4L679.2 117.2L678.7 115.7L678.2 114.6L677.7 113.8L677.2 112.1L676.7 112.6L676.2 112.3L675.7 112.0L675.2 113.5L674.7 112.7L674.2 112.0L673.7 111.1L673.2 111.1L672.7 112.0L672.2 109.9L671.7 108.7L671.2 107.9L670.7 107.5L670.2 106.4L669.7 105.4L669.2 106.1L668.7 104.7L668.2 103.7L667.7 103.3L667.2 103.1L666.7 104.6L666.2 104.7L665.7 104.0L665.2 105.1L664.7 104.3L664.2 104.4L663.7 105.8L663.2 104.5L662.7 106.5L662.2 105.9L661.7 105.8L661.2 105.8L660.7 106.3L660.2 106.7L659.7 107.0L659.2 105.7L658.7 105.3L658.2 104.9L657.7 103.8L657.2 103.9L656.7 102.1L656.2 100.9L655.7 101.8L655.2 100.6L654.7 101.1L654.2 102.3L653.7 100.8L653.2 101.2L652.7 101.2L652.2 102.0L651.7 105.9L651.2 104.3L650.7 104.4L650.2 104.9L649.7 107.2L649.2 106.6L648.7 105.2L648.2 106.5L647.7 107.8L647.2 107.2L646.7 108.1L646.2 108.9L645.7 109.1L645.2 109.9L644.7 113.5L644.2 113.1L643.7 114.5L643.2 115.7L642.7 115.6L642.2 117.0L641.7 118.9L641.2 117.4L640.7 117.3L640.2 117.1L639.7 116.3L639.2 115.0L638.7 115.2L638.2 114.6L637.7 114.6L637.2 113.6L636.7 114.1L636.2 112.5L635.7 112.9L635.2 113.0L634.7 112.2L634.2 112.6L633.7 112.8L633.2 113.5L632.7 111.6L632.2 111.7L631.7 111.5L631.2 112.1L630.7 112.1L630.2 112.8L629.7 113.3L629.2 114.3L628.7 114.0L628.2 113.7L627.7 114.6L627.2 114.2L626.7 116.0L626.2 115.6L625.7 115.1L625.2 114.9L624.7 114.7L624.2 115.7L623.7 115.1L623.2 115.1L622.7 116.3L622.2 116.0L621.7 116.6L621.2 116.9L620.7 117.4L620.2 117.9L619.7 117.8L619.2 118.1L618.7 119.0L618.2 118.9L617.7 117.9L617.2 118.7L616.7 117.2L616.2 117.1L615.7 117.0L615.2 117.1L614.7 115.6L614.2 114.5L613.7 115.0L613.2 115.7L612.7 115.5L612.2 115.2L611.7 115.8L611.2 116.0L610.7 116.3L610.2 116.7L609.7 115.9L609.2 117.8L608.7 116.9L608.2 116.3L607.7 114.4L607.2 113.1L606.7 112.6L606.2 110.8L605.7 109.2L605.2 107.4L604.7 106.2L604.2 106.5L603.7 105.6L603.2 102.0L602.7 100.6L602.2 101.7L601.7 103.1L601.2 103.6L600.7 104.8L600.2 105.8L599.7 105.8L599.2 106.8L598.7 104.8L598.2 106.9L597.7 104.8L597.2 104.6L596.7 106.5L596.2 105.5L595.7 106.5L595.2 107.4L594.7 108.5L594.2 110.1L593.7 110.0L593.2 110.1L592.7 110.6L592.2 109.7L591.7 107.6L591.2 107.4L590.7 107.5L590.2 106.7L589.7 105.8L589.2 106.8L588.7 106.5L588.2 106.0L587.7 107.9L587.2 106.8L586.7 107.0L586.2 107.0L585.7 106.1L585.2 105.0L584.7 104.0L584.2 103.3L583.7 103.0L583.2 103.8L582.7 105.4L582.2 106.4L581.7 107.6L581.2 108.0L580.7 108.6L580.2 109.7L579.7 111.0L579.2 112.7L578.7 113.6L578.2 113.9L577.7 115.8L577.2 117.4L576.7 118.4L576.2 120.0L575.7 121.8L575.2 125.4L574.7 124.1L574.2 123.7L573.7 121.2L573.2 119.8L572.7 118.7L572.2 118.8L571.7 117.1L571.2 117.0L570.7 117.1L570.2 118.4L569.7 118.0L569.2 118.4L568.7 120.5L568.2 120.6L567.7 121.2L567.2 120.5L566.7 120.7L566.2 121.8L565.7 121.4L565.2 122.3L564.7 121.9L564.2 121.4L563.7 120.2L563.2 118.0L562.7 117.0L562.2 116.5L561.7 117.4L561.2 114.6L560.7 115.1L560.2 116.0L559.7 117.2L559.2 115.2L558.7 114.3L558.2 112.9L557.7 111.9L557.2 112.3L556.7 111.9L556.2 110.6L555.7 111.2L555.2 108.6L554.7 108.4L554.2 106.9L553.7 105.1L553.2 103.4L552.7 104.3L552.2 104.1L551.7 105.4L551.2 106.4L550.7 105.9L550.2 105.7L549.7 107.4L549.2 108.7L548.7 108.8L548.2 111.3L547.7 110.8L547.2 111.0L546.7 112.0L546.2 111.7L545.7 112.1L545.2 111.7L544.7 111.2L544.2 111.4L543.7 109.6L543.2 110.8L542.7 109.3L542.2 109.0L541.7 108.6L541.2 109.1L540.7 108.7L540.2 108.9L539.7 110.1L539.2 110.3L538.7 110.7L538.2 112.2L537.7 114.2L537.2 111.7L536.7 110.3L536.2 109.6L535.7 110.4L535.2 112.9L534.7 109.7L534.2 109.6L533.7 109.9L533.2 109.5L532.7 110.2L532.2 111.3L531.7 113.3L531.2 113.7L530.7 113.7L530.2 115.0L529.7 116.4L529.2 116.4L528.7 116.7L528.2 117.5L527.7 116.0L527.2 115.6L526.7 115.6L526.2 114.9L525.7 114.7L525.2 115.1L524.7 112.8L524.2 112.5L523.7 112.8L523.2 110.5L522.7 111.5L522.2 110.1L521.7 109.9L521.2 109.4L520.7 108.3L520.2 108.3L519.7 108.4L519.2 108.8L518.7 108.0L518.2 107.3L517.7 107.9L517.2 108.0L516.7 109.5L516.2 108.8L515.7 111.7L515.2 112.3L514.7 111.7L514.2 112.3L513.7 112.2L513.2 112.4L512.7 113.1L512.2 112.9L511.7 112.9L511.2 113.2L510.7 114.9L510.2 115.3L509.7 117.0L509.2 115.8L508.7 114.8L508.2 114.3L507.7 113.6L507.2 113.0L506.7 110.9L506.2 110.1L505.7 109.2L505.2 108.7L504.7 109.0L504.2 108.7L503.7 108.5L503.2 109.3L502.7 109.1L502.2 107.4L501.7 108.9L501.2 109.1L500.7 108.0L500.2 108.0L499.7 108.0L499.2 108.3L498.7 109.0L498.2 109.8L497.7 109.7L497.2 109.9L496.7 111.4L496.2 110.5L495.7 109.9L495.2 110.1L494.7 109.3L494.2 112.2L493.7 113.2L493.2 113.3L492.7 114.8L492.2 115.3L491.7 116.6L491.2 116.9L490.7 118.1L490.2 121.8L489.7 117.8L489.2 117.3L488.7 116.8L488.2 116.6L487.7 115.4L487.2 116.3L486.7 115.8L486.2 115.2L485.7 114.1L485.2 113.3L484.7 112.0L484.2 112.8L483.7 113.0L483.2 113.4L482.7 112.3L482.2 113.0L481.7 112.8L481.2 113.4L480.7 114.4L480.2 114.5L479.7 114.6L479.2 114.0L478.7 114.2L478.2 117.1L477.7 116.0L477.2 116.1L476.7 116.0L476.2 116.1L475.7 116.2L475.2 116.4L474.7 116.8L474.2 117.8L473.7 116.9L473.2 117.1L472.7 115.4L472.2 114.0L471.7 113.9L471.2 113.6L470.7 111.1L470.2 110.1L469.7 111.2L469.2 111.1L468.7 110.2L468.2 109.6L467.7 109.7L467.2 110.0L466.7 109.3L466.2 108.9L465.7 108.7L465.2 109.4L464.7 110.2L464.2 108.7L463.7 109.1L463.2 107.2L462.7 106.3L462.2 106.3L461.7 105.4L461.2 104.9L460.7 104.8L460.2 105.9L459.7 105.4L459.2 105.4L458.7 105.2L458.2 105.9L457.7 107.4L457.2 106.1L456.7 107.8L456.2 107.9L455.7 107.7L455.2 107.7L454.7 108.9L454.2 108.0L453.7 108.7L453.2 109.0L452.7 110.0L452.2 111.3L451.7 112.3L451.2 112.9L450.7 113.4L450.2 114.7L449.7 119.9L449.2 117.5L448.7 120.2L448.2 122.4L447.7 124.9L447.2 127.0L446.7 130.0L446.2 131.3L445.7 129.3L445.2 127.4L444.7 128.0L444.2 127.3L443.7 126.0L443.2 129.1L442.7 126.0L442.2 126.1L441.7 125.3L441.2 123.7L440.7 123.3L440.2 123.5L439.7 122.5L439.2 121.3L438.7 121.1L438.2 119.1L437.7 118.7L437.2 118.4L436.7 116.5L436.2 115.1L435.7 113.8L435.2 118.0L434.7 111.4L434.2 110.7L433.7 109.9L433.2 110.4L432.7 109.7L432.2 109.7L431.7 109.4L431.2 109.0L430.7 111.0L430.2 110.5L429.7 111.4L429.2 112.0L428.7 111.2L428.2 112.1L427.7 112.1L427.2 113.0L426.7 114.3L426.2 114.5L425.7 114.4L425.2 116.4L424.7 116.3L424.2 116.6L423.7 116.5L423.2 115.0L422.7 115.3L422.2 114.2L421.7 113.9L421.2 112.9L420.7 111.9L420.2 111.4L419.7 110.2L419.2 109.5L418.7 109.5L418.2 109.1L417.7 107.5L417.2 107.6L416.7 107.3L416.2 106.2L415.7 106.0L415.2 105.7L414.7 106.2L414.2 104.0L413.7 103.6L413.2 104.3L412.7 104.8L412.2 104.6L411.7 105.8L411.2 105.7L410.7 106.7L410.2 106.8L409.7 109.9L409.2 108.9L408.7 109.6L408.2 111.7L407.7 111.3L407.2 111.8L406.7 111.9L406.2 112.2L405.7 113.5L405.2 114.3L404.7 112.4L404.2 111.8L403.7 110.8L403.2 109.4L402.7 108.4L402.2 109.1L401.7 107.3L401.2 108.7L400.7 108.8L400.2 108.4L399.7 108.5L399.2 108.6L398.7 110.5L398.2 110.3L397.7 110.4L397.2 110.9L396.7 111.0L396.2 111.9L395.7 112.5L395.2 112.4L394.7 115.0L394.2 116.4L393.7 118.2L393.2 120.5L392.7 123.3L392.2 129.8L391.7 123.5L391.2 122.7L390.7 121.7L390.2 121.3L389.7 120.2L389.2 118.2L388.7 118.2L388.2 116.3L387.7 115.6L387.2 114.0L386.7 112.9L386.2 111.5L385.7 110.4L385.2 109.8L384.7 109.6L384.2 108.1L383.7 110.9L383.2 106.9L382.7 106.7L382.2 108.7L381.7 107.4L381.2 105.8L380.7 105.9L380.2 104.9L379.7 105.6L379.2 106.6L378.7 106.6L378.2 107.7L377.7 108.6L377.2 109.4L376.7 112.1L376.2 112.4L375.7 114.3L375.2 115.0L374.7 115.3L374.2 117.3L373.7 117.9L373.2 119.9L372.7 120.0L372.2 120.4L371.7 120.9L371.2 122.3L370.7 123.3L370.2 122.9L369.7 122.9L369.2 123.5L368.7 124.0L368.2 124.4L367.7 123.6L367.2 124.6L366.7 124.8L366.2 125.0L365.7 126.0L365.2 125.6L364.7 125.4L364.2 126.1L363.7 126.8L363.2 126.0L362.7 125.9L362.2 125.4L361.7 130.6L361.2 126.4L360.7 126.4L360.2 125.1L359.7 123.7L359.2 122.1L358.7 121.6L358.2 120.6L357.7 119.0L357.2 117.3L356.7 116.5L356.2 114.7L355.7 113.8L355.2 111.8L354.7 110.2L354.2 109.3L353.7 112.9L353.2 106.9L352.7 106.9L352.2 106.1L351.7 109.9L351.2 104.8L350.7 103.4L350.2 104.4L349.7 103.2L349.2 103.3L348.7 103.0L348.2 102.3L347.7 103.7L347.2 102.6L346.7 103.2L346.2 103.2L345.7 103.5L345.2 103.3L344.7 103.8L344.2 103.2L343.7 103.2L343.2 104.4L342.7 104.1L342.2 105.7L341.7 105.2L341.2 106.2L340.7 107.1L340.2 109.5L339.7 109.1L339.2 109.5L338.7 109.6L338.2 107.8L337.7 107.3L337.2 107.2L336.7 107.3L336.2 105.7L335.7 105.1L335.2 105.8L334.7 106.1L334.2 106.9L333.7 109.6L333.2 110.7L332.7 110.5L332.2 111.3L331.7 111.4L331.2 111.3L330.7 111.2L330.2 110.3L329.7 110.7L329.2 110.4L328.7 110.0L328.2 108.4L327.7 109.2L327.2 109.5L326.7 109.2L326.2 110.6L325.7 110.5L325.2 110.7L324.7 110.6L324.2 110.9L323.7 110.8L323.2 111.3L322.7 112.1L322.2 113.2L321.7 113.4L321.2 114.3L320.7 114.0L320.2 114.5L319.7 117.0L319.2 115.2L318.7 116.0L318.2 115.3L317.7 115.1L317.2 114.6L316.7 115.2L316.2 114.7L315.7 113.4L315.2 112.8L314.7 113.4L314.2 114.1L313.7 114.6L313.2 115.0L312.7 115.8L312.2 116.3L311.7 116.1L311.2 116.5L310.7 120.0L310.2 115.3L309.7 116.7L309.2 114.7L308.7 114.0L308.2 113.9L307.7 112.0L307.2 110.6L306.7 110.2L306.2 111.2L305.7 111.3L305.2 112.4L304.7 113.3L304.2 114.9L303.7 118.1L303.2 113.4L302.7 112.3L302.2 112.4L301.7 111.7L301.2 111.1L300.7 110.8L300.2 109.4L299.7 108.7L299.2 109.7L298.7 108.4L298.2 108.6L297.7 109.8L297.2 110.0L296.7 108.8L296.2 109.8L295.7 110.1L295.2 111.0L294.7 111.8L294.2 111.7L293.7 113.0L293.2 112.0L292.7 111.6L292.2 111.4L291.7 111.6L291.2 111.6L290.7 113.4L290.2 114.0L289.7 114.6L289.2 117.3L288.7 117.4L288.2 118.4L287.7 117.4L287.2 116.8L286.7 117.1L286.2 116.7L285.7 116.2L285.2 117.0L284.7 116.3L284.2 114.8L283.7 115.2L283.2 115.8L282.7 115.9L282.2 116.5L281.7 116.7L281.2 117.8L280.7 117.4L280.2 118.4L279.7 119.0L279.2 118.6L278.7 117.9L278.2 117.9L277.7 117.4L277.2 118.2L276.7 117.5L276.2 117.7L275.7 117.0L275.2 115.9L274.7 116.4L274.2 115.7L273.7 115.2L273.2 114.6L272.7 115.8L272.2 113.7L271.7 113.8L271.2 115.5L270.7 113.6L270.2 113.6L269.7 112.7L269.2 112.2L268.7 111.0L268.2 112.0L267.7 112.9L267.2 113.4L266.7 111.7L266.2 111.2L265.7 111.8L265.2 110.0L264.7 111.1L264.2 110.5L263.7 112.3L263.2 112.3L262.7 112.6L262.2 112.0L261.7 113.4L261.2 112.9L260.7 114.5L260.2 114.1L259.7 114.2L259.2 113.2L258.7 113.9L258.2 115.0L257.7 115.0L257.2 116.0L256.7 116.6L256.2 116.6L255.7 116.7L255.2 117.8L254.7 118.7L254.2 120.5L253.7 118.6L253.2 117.9L252.7 117.8L252.2 117.5L251.7 120.3L251.2 115.3L250.7 114.9L250.2 114.9L249.7 114.0L249.2 112.2L248.7 112.3L248.2 113.5L247.7 113.2L247.2 113.0L246.7 113.7L246.2 114.2L245.7 113.4L245.2 113.4L244.7 114.1L244.2 113.3L243.7 113.8L243.2 113.2L242.7 113.5L242.2 114.0L241.7 114.5L241.2 113.9L240.7 115.9L240.2 114.3L239.7 116.2L239.2 115.0L238.7 115.5L238.2 115.4L237.7 116.4L237.2 116.2L236.7 116.6L236.2 118.5L235.7 117.5L235.2 117.4L234.7 116.0L234.2 116.6L233.7 115.1L233.2 114.2L232.7 114.2L232.2 114.5L231.7 112.5L231.2 112.2L230.7 111.0L230.2 110.6L229.7 112.1L229.2 113.5L228.7 113.4L228.2 116.4L227.7 115.3L227.2 115.3L226.7 117.2L226.2 118.4L225.7 118.4L225.2 116.0L224.7 116.0L224.2 114.5L223.7 115.0L223.2 113.2L222.7 113.2L222.2 111.9L221.7 110.8L221.2 110.5L220.7 111.1L220.2 111.0L219.7 111.9L219.2 112.0L218.7 112.0L218.2 111.6L217.7 111.5L217.2 110.8L216.7 110.5L216.2 109.4L215.7 108.4L215.2 108.6L214.7 107.4L214.2 107.3L213.7 106.6L213.2 106.6L212.7 107.7L212.2 106.6L211.7 107.7L211.2 106.3L210.7 107.5L210.2 107.3L209.7 106.1L209.2 106.2L208.7 105.6L208.2 104.6L207.7 104.1L207.2 105.0L206.7 104.8L206.2 105.7L205.7 106.2L205.2 106.5L204.7 107.7L204.2 112.5L203.7 108.2L203.2 108.5L202.7 109.6L202.2 109.4L201.7 111.3L201.2 112.3L200.7 113.4L200.2 115.4L199.7 115.9L199.2 116.9L198.7 116.9L198.2 117.4L197.7 117.7L197.2 116.6L196.7 117.0L196.2 115.7L195.7 116.2L195.2 115.5L194.7 116.3L194.2 115.9L193.7 115.9L193.2 116.4L192.7 116.1L192.2 116.5L191.7 116.5L191.2 118.2L190.7 116.3L190.2 116.9L189.7 117.4L189.2 116.7L188.7 115.7L188.2 116.2L187.7 115.5L187.2 115.8L186.7 116.7L186.2 116.0L185.7 115.4L185.2 117.6L184.7 118.4L184.2 116.8L183.7 117.2L183.2 115.5L182.7 113.9L182.2 112.1L181.7 111.2L181.2 110.5L180.7 109.3L180.2 109.0L179.7 108.3L179.2 108.4L178.7 108.0L178.2 107.0L177.7 107.3L177.2 106.8L176.7 107.0L176.2 108.1L175.7 107.8L175.2 109.3L174.7 110.8L174.2 107.1L173.7 107.2L173.2 107.3L172.7 108.7L172.2 110.3L171.7 110.7L171.2 111.5L170.7 111.7L170.2 111.9L169.7 113.1L169.2 113.4L168.7 111.9L168.2 111.9L167.7 111.6L167.2 110.2L166.7 109.6L166.2 110.1L165.7 110.5L165.2 109.4L164.7 111.4L164.2 109.6L163.7 110.1L163.2 110.3L162.7 110.0L162.2 111.1L161.7 110.4L161.2 110.2L160.7 109.8L160.2 108.2L159.7 107.6L159.2 106.9L158.7 107.2L158.2 105.9L157.7 105.5L157.2 105.8L156.7 106.5L156.2 105.4L155.7 106.7L155.2 106.5L154.7 108.3L154.2 108.0L153.7 108.8L153.2 109.1L152.7 110.7L152.2 111.0L151.7 112.6L151.2 113.0L150.7 114.7L150.2 116.3L149.7 115.5L149.2 116.9L148.7 119.4L148.2 116.3L147.7 114.4L147.2 114.8L146.7 113.3L146.2 112.5L145.7 113.0L145.2 111.4L144.7 110.5L144.2 112.2L143.7 112.2L143.2 111.4L142.7 111.7L142.2 113.0L141.7 113.1L141.2 113.7L140.7 113.7L140.2 113.3L139.7 113.2L139.2 113.1L138.7 113.9L138.2 112.7L137.7 112.1L137.2 111.1L136.7 111.5L136.2 113.7L135.7 113.8L135.2 114.5L134.7 114.5L134.2 122.5L133.7 114.9L133.2 113.8L132.7 113.9L132.2 113.6L131.7 112.3L131.2 111.0L130.7 110.1L130.2 108.1L129.7 107.5L129.2 105.2L128.7 105.0L128.2 102.4L127.7 101.5L127.2 101.4L126.7 100.3L126.2 100.2L125.7 100.5L125.2 100.5L124.7 99.8L124.2 100.5L123.7 99.4ZM895.40 70.3H895.90V237.5H895.40Z" stroke="#1f77b4" stroke-width="0.9" fill="#1f77b4" stroke-linejoin="round"/>
<path d="M124.50 246.50v4.86M209.50 246.50v4.86M294.50 246.50v4.86M380.50 246.50v4.86M465.50 246.50v4.86M550.50 246.50v4.86M636.50 246.50v4.86M721.50 246.50v4.86M806.50 246.50v4.86M892.50 246.50v4.86M977.50 246.50v4.86M82.50 65.50h-4.86M82.50 110.50h-4.86M82.50 156.50h-4.86M82.50 201.50h-4.86" stroke="#000" stroke-width="1.11" fill="none"/>
<rect x="82.50" y="62.50" width="930.00" height="184.00" fill="none" stroke="#000" stroke-width="1.11"/>
<text x="71.9" y="70.50" font-size="13.89" text-anchor="end">0<tspan dx="-1.1">.2</tspan></text>
<text x="71.9" y="115.90" font-size="13.89" text-anchor="end">0<tspan dx="-1.1">.0</tspan></text>
<text x="71.9" y="161.30" font-size="13.89" text-anchor="end">−<tspan dx="-1.2">0.2</tspan></text>
<text x="71.9" y="206.70" font-size="13.89" text-anchor="end">−<tspan dx="-1.2">0.4</tspan></text>
<text transform="translate(546.8 54.20) scale(1 1.08)" font-size="16.67" text-anchor="middle">East displacement</text>
<text transform="translate(29.70 155.90) rotate(-90)" font-size="13.89" text-anchor="middle">Disp.</text>
</g>
<g>
<path d="M124.50 310.50V494.50M209.50 310.50V494.50M294.50 310.50V494.50M380.50 310.50V494.50M465.50 310.50V494.50M550.50 310.50V494.50M636.50 310.50V494.50M721.50 310.50V494.50M806.50 310.50V494.50M892.50 310.50V494.50M977.50 310.50V494.50M82.50 338.50H1012.50M82.50 369.50H1012.50M82.50 400.50H1012.50M82.50 431.50H1012.50M82.50 462.50H1012.50M82.50 493.50H1012.50" stroke="#b0b0b0" stroke-width="1.11" fill="none"/>
<clipPath id="c1"><rect x="82.50" y="310.50" width="930.00" height="184.00"/></clipPath>
<path clip-path="url(#c1)" d="M123.7 463.9L124.2 463.1L124.7 463.0L125.2 462.0L125.7 459.8L126.2 460.9L126.7 460.3L127.2 459.8L127.7 459.6L128.2 459.8L128.7 459.7L129.2 458.9L129.7 458.4L130.2 456.9L130.7 457.4L131.2 458.9L131.7 459.1L132.2 458.4L132.7 457.5L133.2 458.0L133.7 457.3L134.2 457.6L134.7 457.2L135.2 457.6L135.7 458.5L136.2 457.7L136.7 456.5L137.2 456.8L137.7 456.3L138.2 457.4L138.7 457.1L139.2 457.3L139.7 457.7L140.2 458.4L140.7 457.7L141.2 458.6L141.7 459.5L142.2 459.8L142.7 460.0L143.2 460.0L143.7 459.9L144.2 460.4L144.7 460.5L145.2 460.3L145.7 460.3L146.2 460.9L146.7 459.7L147.2 460.0L147.7 459.8L148.2 459.4L148.7 457.7L149.2 458.1L149.7 459.1L150.2 458.7L150.7 459.7L151.2 459.9L151.7 461.5L152.2 462.7L152.7 463.1L153.2 465.1L153.7 466.4L154.2 466.7L154.7 465.6L155.2 466.4L155.7 467.4L156.2 467.8L156.7 467.7L157.2 468.5L157.7 467.8L158.2 467.0L158.7 468.6L159.2 467.5L159.7 467.0L160.2 466.6L160.7 465.7L161.2 464.9L161.7 463.3L162.2 463.3L162.7 462.9L163.2 462.7L163.7 461.8L164.2 461.7L164.7 461.5L165.2 461.1L165.7 461.3L166.2 460.5L166.7 459.1L167.2 460.6L167.7 461.4L168.2 461.2L168.7 461.2L169.2 462.0L169.7 462.5L170.2 462.0L170.7 462.9L171.2 462.5L171.7 463.0L172.2 463.8L172.7 463.8L173.2 464.2L173.7 465.5L174.2 466.6L174.7 466.4L175.2 467.7L175.7 468.2L176.2 468.1L176.7 467.5L177.2 468.1L177.7 468.3L178.2 468.2L178.7 468.4L179.2 467.7L179.7 467.2L180.2 466.5L180.7 465.1L181.2 465.4L181.7 466.0L182.2 466.5L182.7 465.9L183.2 465.3L183.7 464.5L184.2 464.7L184.7 464.4L185.2 463.2L185.7 463.3L186.2 464.8L186.7 464.6L187.2 466.1L187.7 465.8L188.2 465.6L188.7 465.0L189.2 464.2L189.7 463.9L190.2 464.4L190.7 463.4L191.2 461.8L191.7 462.0L192.2 461.6L192.7 463.0L193.2 462.8L193.7 463.6L194.2 464.4L194.7 464.9L195.2 465.0L195.7 464.6L196.2 464.6L196.7 464.9L197.2 464.7L197.7 464.9L198.2 464.3L198.7 464.8L199.2 464.8L199.7 463.8L200.2 464.1L200.7 464.2L201.2 463.5L201.7 462.7L202.2 462.6L202.7 461.6L203.2 462.3L203.7 462.4L204.2 462.4L204.7 463.1L205.2 462.7L205.7 462.2L206.2 462.8L206.7 463.8L207.2 462.6L207.7 463.6L208.2 464.7L208.7 464.7L209.2 463.4L209.7 463.2L210.2 463.2L210.7 463.2L211.2 463.8L211.7 463.7L212.2 463.2L212.7 462.7L213.2 462.7L213.7 462.5L214.2 461.5L214.7 462.0L215.2 459.8L215.7 461.0L216.2 461.8L216.7 461.1L217.2 460.6L217.7 460.6L218.2 460.2L218.7 460.0L219.2 460.1L219.7 460.0L220.2 459.7L220.7 459.3L221.2 458.8L221.7 458.2L222.2 457.6L222.7 457.2L223.2 457.6L223.7 456.7L224.2 456.4L224.7 456.4L225.2 456.0L225.7 457.3L226.2 456.4L226.7 458.7L227.2 458.6L227.7 458.6L228.2 458.4L228.7 458.4L229.2 459.2L229.7 457.1L230.2 459.2L230.7 459.7L231.2 460.6L231.7 460.5L232.2 460.1L232.7 460.9L233.2 460.2L233.7 461.1L234.2 460.9L234.7 462.3L235.2 461.9L235.7 463.1L236.2 463.3L236.7 463.4L237.2 464.2L237.7 463.2L238.2 463.5L238.7 464.3L239.2 463.5L239.7 465.4L240.2 465.5L240.7 466.2L241.2 466.2L241.7 465.9L242.2 465.6L242.7 465.6L243.2 465.6L243.7 463.6L244.2 467.2L244.7 466.6L245.2 465.9L245.7 464.5L246.2 464.0L246.7 463.3L247.2 463.1L247.7 462.7L248.2 462.1L248.7 461.9L249.2 461.4L249.7 461.0L250.2 460.1L250.7 460.0L251.2 459.3L251.7 459.1L252.2 458.9L252.7 458.7L253.2 458.8L253.7 459.6L254.2 459.9L254.7 460.0L255.2 461.6L255.7 461.8L256.2 461.9L256.7 461.7L257.2 463.6L257.7 464.4L258.2 465.0L258.7 465.6L259.2 466.4L259.7 466.5L260.2 465.4L260.7 466.1L261.2 465.6L261.7 463.8L262.2 464.8L262.7 464.7L263.2 463.9L263.7 464.5L264.2 465.0L264.7 464.2L265.2 463.5L265.7 463.4L266.2 463.2L266.7 463.8L267.2 463.5L267.7 461.7L268.2 461.3L268.7 461.5L269.2 461.5L269.7 461.3L270.2 461.3L270.7 461.6L271.2 462.3L271.7 463.8L272.2 463.8L272.7 464.9L273.2 465.2L273.7 465.4L274.2 464.1L274.7 464.5L275.2 464.9L275.7 465.0L276.2 464.1L276.7 464.8L277.2 464.4L277.7 463.7L278.2 462.9L278.7 462.7L279.2 462.2L279.7 462.3L280.2 462.6L280.7 462.5L281.2 462.0L281.7 461.8L282.2 462.1L282.7 461.1L283.2 462.0L283.7 462.6L284.2 462.8L284.7 461.4L285.2 460.1L285.7 462.1L286.2 462.0L286.7 462.4L287.2 461.8L287.7 461.7L288.2 461.9L288.7 462.2L289.2 462.3L289.7 462.1L290.2 463.4L290.7 463.2L291.2 464.4L291.7 463.7L292.2 464.4L292.7 464.4L293.2 464.8L293.7 464.1L294.2 464.2L294.7 464.3L295.2 463.6L295.7 462.8L296.2 462.8L296.7 463.3L297.2 462.9L297.7 462.2L298.2 461.2L298.7 462.1L299.2 462.3L299.7 461.9L300.2 462.5L300.7 461.7L301.2 461.6L301.7 462.2L302.2 461.8L302.7 461.0L303.2 459.8L303.7 459.2L304.2 458.3L304.7 457.8L305.2 457.7L305.7 457.5L306.2 457.7L306.7 458.2L307.2 457.8L307.7 457.7L308.2 456.9L308.7 457.0L309.2 456.5L309.7 456.5L310.2 456.1L310.7 455.8L311.2 456.5L311.7 456.7L312.2 457.8L312.7 458.5L313.2 459.1L313.7 459.3L314.2 460.2L314.7 460.4L315.2 460.7L315.7 461.0L316.2 461.1L316.7 461.7L317.2 461.2L317.7 461.2L318.2 460.7L318.7 461.1L319.2 461.3L319.7 461.3L320.2 461.4L320.7 462.1L321.2 461.7L321.7 461.6L322.2 461.7L322.7 460.9L323.2 460.9L323.7 461.7L324.2 462.7L324.7 463.1L325.2 464.1L325.7 464.0L326.2 464.1L326.7 464.7L327.2 466.3L327.7 465.4L328.2 466.1L328.7 465.9L329.2 465.0L329.7 463.6L330.2 463.3L330.7 463.3L331.2 463.5L331.7 463.4L332.2 462.6L332.7 463.4L333.2 463.2L333.7 464.0L334.2 463.9L334.7 464.0L335.2 464.5L335.7 464.4L336.2 464.4L336.7 464.9L337.2 464.3L337.7 462.6L338.2 463.0L338.7 462.9L339.2 462.5L339.7 463.6L340.2 462.0L340.7 461.2L341.2 461.4L341.7 461.8L342.2 461.9L342.7 462.4L343.2 461.6L343.7 463.2L344.2 463.3L344.7 463.4L345.2 462.8L345.7 462.2L346.2 462.4L346.7 461.5L347.2 462.8L347.7 463.6L348.2 462.9L348.7 462.9L349.2 462.5L349.7 462.1L350.2 463.0L350.7 462.7L351.2 463.6L351.7 462.4L352.2 462.0L352.7 462.5L353.2 462.1L353.7 463.2L354.2 462.9L354.7 461.8L355.2 461.1L355.7 461.3L356.2 460.7L356.7 462.3L357.2 461.5L357.7 461.6L358.2 461.8L358.7 461.0L359.2 461.6L359.7 461.5L360.2 461.2L360.7 460.5L361.2 459.6L361.7 459.2L362.2 459.7L362.7 460.4L363.2 460.3L363.7 461.6L364.2 461.7L364.7 462.7L365.2 463.2L365.7 464.2L366.2 464.6L366.7 464.1L367.2 464.9L367.7 464.3L368.2 464.7L368.7 464.2L369.2 462.7L369.7 464.1L370.2 464.1L370.7 464.3L371.2 464.6L371.7 464.1L372.2 463.9L372.7 463.9L373.2 464.7L373.7 465.5L374.2 466.3L374.7 466.0L375.2 466.1L375.7 466.3L376.2 465.8L376.7 465.1L377.2 464.6L377.7 464.7L378.2 464.9L378.7 465.3L379.2 465.0L379.7 465.2L380.2 464.7L380.7 464.5L381.2 464.0L381.7 463.6L382.2 463.2L382.7 463.0L383.2 462.4L383.7 462.1L384.2 460.8L384.7 459.7L385.2 457.9L385.7 456.8L386.2 455.6L386.7 455.0L387.2 452.6L387.7 452.8L388.2 453.1L388.7 452.8L389.2 452.5L389.7 452.8L390.2 453.1L390.7 452.9L391.2 453.6L391.7 453.6L392.2 453.4L392.7 454.5L393.2 455.2L393.7 455.7L394.2 457.6L394.7 458.8L395.2 459.5L395.7 459.5L396.2 458.6L396.7 458.2L397.2 458.5L397.7 458.6L398.2 458.4L398.7 457.8L399.2 457.8L399.7 455.9L400.2 459.1L400.7 458.7L401.2 459.1L401.7 459.6L402.2 460.5L402.7 459.9L403.2 460.4L403.7 460.3L404.2 460.6L404.7 461.4L405.2 461.2L405.7 461.4L406.2 461.5L406.7 461.2L407.2 461.2L407.7 462.2L408.2 461.7L408.7 462.3L409.2 463.2L409.7 463.6L410.2 464.4L410.7 465.1L411.2 465.7L411.7 465.6L412.2 465.7L412.7 466.3L413.2 465.5L413.7 466.2L414.2 466.5L414.7 466.0L415.2 466.2L415.7 465.7L416.2 465.8L416.7 465.7L417.2 464.7L417.7 464.4L418.2 464.0L418.7 463.4L419.2 463.1L419.7 461.9L420.2 461.9L420.7 461.7L421.2 461.3L421.7 460.7L422.2 461.8L422.7 460.8L423.2 461.0L423.7 460.9L424.2 460.5L424.7 460.0L425.2 459.9L425.7 459.8L426.2 461.4L426.7 461.3L427.2 461.9L427.7 461.6L428.2 462.0L428.7 462.8L429.2 462.2L429.7 462.7L430.2 463.6L430.7 463.4L431.2 463.9L431.7 464.0L432.2 464.8L432.7 465.0L433.2 465.8L433.7 465.6L434.2 465.9L434.7 466.7L435.2 466.7L435.7 467.5L436.2 468.9L436.7 468.7L437.2 469.4L437.7 468.1L438.2 467.0L438.7 467.9L439.2 468.4L439.7 468.1L440.2 468.0L440.7 468.2L441.2 467.2L441.7 466.8L442.2 466.3L442.7 465.7L443.2 465.7L443.7 465.6L444.2 465.8L444.7 464.6L445.2 464.8L445.7 463.6L446.2 463.3L446.7 462.3L447.2 463.4L447.7 463.2L448.2 462.6L448.7 462.1L449.2 461.2L449.7 462.1L450.2 463.0L450.7 463.2L451.2 463.6L451.7 464.0L452.2 464.0L452.7 465.0L453.2 465.5L453.7 466.2L454.2 466.1L454.7 466.4L455.2 466.4L455.7 466.5L456.2 466.7L456.7 466.4L457.2 465.9L457.7 466.7L458.2 466.1L458.7 466.4L459.2 466.6L459.7 467.1L460.2 466.5L460.7 465.2L461.2 464.6L461.7 464.6L462.2 464.5L462.7 464.2L463.2 464.2L463.7 462.7L464.2 461.8L464.7 462.1L465.2 462.3L465.7 462.1L466.2 462.2L466.7 462.4L467.2 462.3L467.7 461.3L468.2 461.4L468.7 460.7L469.2 461.0L469.7 460.5L470.2 460.5L470.7 461.5L471.2 460.4L471.7 461.1L472.2 461.1L472.7 460.7L473.2 460.3L473.7 459.7L474.2 459.7L474.7 459.9L475.2 459.3L475.7 458.8L476.2 458.5L476.7 458.6L477.2 457.7L477.7 456.4L478.2 456.7L478.7 456.6L479.2 456.5L479.7 456.5L480.2 456.9L480.7 456.9L481.2 456.7L481.7 456.9L482.2 456.5L482.7 456.7L483.2 457.3L483.7 457.8L484.2 457.3L484.7 458.6L485.2 458.7L485.7 458.0L486.2 458.9L486.7 459.1L487.2 458.5L487.7 459.5L488.2 459.4L488.7 458.7L489.2 459.8L489.7 458.4L490.2 457.9L490.7 458.4L491.2 459.0L491.7 458.2L492.2 459.7L492.7 460.6L493.2 461.1L493.7 461.7L494.2 461.8L494.7 463.5L495.2 462.7L495.7 462.8L496.2 463.0L496.7 462.2L497.2 461.7L497.7 461.2L498.2 461.1L498.7 462.8L499.2 463.7L499.7 464.9L500.2 464.9L500.7 466.0L501.2 465.3L501.7 462.5L502.2 461.8L502.7 461.7L503.2 459.9L503.7 459.2L504.2 458.4L504.7 458.5L505.2 457.9L505.7 457.9L506.2 458.4L506.7 458.6L507.2 458.4L507.7 458.4L508.2 459.2L508.7 459.5L509.2 460.4L509.7 461.1L510.2 461.1L510.7 461.6L511.2 462.5L511.7 463.5L512.2 463.1L512.7 463.0L513.2 463.7L513.7 464.1L514.2 464.4L514.7 464.9L515.2 465.9L515.7 465.9L516.2 466.2L516.7 465.9L517.2 467.0L517.7 466.7L518.2 467.6L518.7 467.2L519.2 467.5L519.7 467.3L520.2 467.1L520.7 467.1L521.2 465.9L521.7 466.0L522.2 464.6L522.7 464.6L523.2 463.9L523.7 464.3L524.2 464.0L524.7 463.5L525.2 464.4L525.7 464.4L526.2 464.7L526.7 465.5L527.2 465.1L527.7 466.7L528.2 466.2L528.7 466.0L529.2 465.7L529.7 465.6L530.2 465.3L530.7 465.2L531.2 464.9L531.7 465.2L532.2 465.5L532.7 464.9L533.2 466.0L533.7 465.8L534.2 464.7L534.7 464.5L535.2 464.2L535.7 463.3L536.2 464.1L536.7 464.3L537.2 463.9L537.7 463.5L538.2 463.1L538.7 463.0L539.2 462.8L539.7 463.4L540.2 463.2L540.7 462.8L541.2 460.9L541.7 462.2L542.2 462.4L542.7 462.2L543.2 462.0L543.7 462.1L544.2 462.7L544.7 462.0L545.2 462.4L545.7 463.5L546.2 462.8L546.7 463.1L547.2 464.3L547.7 464.6L548.2 465.9L548.7 465.3L549.2 466.1L549.7 465.4L550.2 465.1L550.7 465.8L551.2 465.9L551.7 465.5L552.2 464.5L552.7 463.6L553.2 463.4L553.7 463.4L554.2 462.9L554.7 463.1L555.2 462.3L555.7 462.6L556.2 461.7L556.7 460.1L557.2 461.2L557.7 461.5L558.2 460.5L558.7 460.4L559.2 457.5L559.7 459.8L560.2 458.6L560.7 458.3L561.2 456.8L561.7 457.4L562.2 457.4L562.7 456.9L563.2 456.6L563.7 456.0L564.2 455.7L564.7 455.6L565.2 454.9L565.7 455.6L566.2 455.7L566.7 456.8L567.2 457.6L567.7 457.7L568.2 457.5L568.7 458.2L569.2 458.8L569.7 458.7L570.2 459.9L570.7 458.7L571.2 459.9L571.7 459.9L572.2 459.2L572.7 459.0L573.2 459.0L573.7 459.5L574.2 459.6L574.7 459.1L575.2 459.9L575.7 459.7L576.2 460.0L576.7 461.5L577.2 462.7L577.7 463.7L578.2 464.9L578.7 465.6L579.2 467.2L579.7 467.8L580.2 469.9L580.7 469.9L581.2 470.4L581.7 469.9L582.2 469.3L582.7 470.0L583.2 469.8L583.7 469.1L584.2 468.9L584.7 468.1L585.2 466.8L585.7 467.3L586.2 466.8L586.7 466.2L587.2 463.3L587.7 463.8L588.2 461.6L588.7 459.7L589.2 459.5L589.7 458.1L590.2 457.6L590.7 456.4L591.2 457.0L591.7 457.1L592.2 457.8L592.7 458.3L593.2 459.0L593.7 458.8L594.2 458.3L594.7 460.2L595.2 461.5L595.7 461.9L596.2 463.6L596.7 464.3L597.2 464.5L597.7 465.6L598.2 467.6L598.7 469.1L599.2 469.5L599.7 470.2L600.2 469.8L600.7 469.6L601.2 466.8L601.7 467.7L602.2 468.1L602.7 467.5L603.2 466.8L603.7 466.9L604.2 465.8L604.7 465.9L605.2 465.1L605.7 464.7L606.2 464.7L606.7 463.2L607.2 462.7L607.7 461.7L608.2 461.2L608.7 460.8L609.2 461.4L609.7 461.4L610.2 461.6L610.7 461.1L611.2 461.4L611.7 461.4L612.2 462.5L612.7 461.8L613.2 461.8L613.7 462.3L614.2 462.0L614.7 462.1L615.2 462.7L615.7 463.2L616.2 463.8L616.7 463.9L617.2 463.0L617.7 463.9L618.2 464.7L618.7 465.3L619.2 465.0L619.7 464.4L620.2 464.1L620.7 464.0L621.2 463.7L621.7 463.4L622.2 462.9L622.7 463.4L623.2 462.8L623.7 463.0L624.2 462.8L624.7 461.9L625.2 462.5L625.7 460.9L626.2 463.4L626.7 463.2L627.2 463.8L627.7 464.2L628.2 463.9L628.7 464.2L629.2 464.0L629.7 463.3L630.2 463.2L630.7 463.5L631.2 462.9L631.7 464.4L632.2 463.6L632.7 463.9L633.2 464.7L633.7 465.3L634.2 465.7L634.7 465.2L635.2 464.7L635.7 464.6L636.2 463.3L636.7 464.3L637.2 464.0L637.7 462.9L638.2 462.4L638.7 463.0L639.2 462.5L639.7 461.4L640.2 460.8L640.7 460.6L641.2 459.9L641.7 459.1L642.2 457.7L642.7 457.9L643.2 456.9L643.7 456.7L644.2 457.1L644.7 457.5L645.2 458.6L645.7 458.2L646.2 459.6L646.7 459.7L647.2 460.8L647.7 461.0L648.2 461.2L648.7 462.3L649.2 461.9L649.7 461.5L650.2 461.6L650.7 462.3L651.2 462.7L651.7 462.5L652.2 461.4L652.7 462.1L653.2 461.4L653.7 462.4L654.2 461.9L654.7 461.3L655.2 461.5L655.7 461.9L656.2 462.5L656.7 462.2L657.2 461.7L657.7 462.3L658.2 462.4L658.7 461.7L659.2 462.2L659.7 462.1L660.2 461.8L660.7 462.4L661.2 461.8L661.7 461.5L662.2 461.0L662.7 461.2L663.2 461.5L663.7 462.3L664.2 462.5L664.7 463.6L665.2 464.0L665.7 463.5L666.2 464.3L666.7 465.2L667.2 464.4L667.7 465.7L668.2 464.3L668.7 463.4L669.2 462.7L669.7 462.0L670.2 461.2L670.7 460.0L671.2 461.2L671.7 460.2L672.2 459.7L672.7 459.2L673.2 459.9L673.7 461.1L674.2 460.3L674.7 460.3L675.2 461.0L675.7 462.1L676.2 462.3L676.7 463.1L677.2 463.1L677.7 462.3L678.2 461.9L678.7 462.4L679.2 462.2L679.7 461.2L680.2 460.6L680.7 459.2L681.2 459.2L681.7 459.4L682.2 459.6L682.7 459.7L683.2 459.8L683.7 460.1L684.2 460.2L684.7 457.2L685.2 459.9L685.7 459.3L686.2 458.1L686.7 458.7L687.2 459.2L687.7 460.0L688.2 459.4L688.7 461.0L689.2 461.7L689.7 462.5L690.2 462.2L690.7 463.6L691.2 463.8L691.7 464.2L692.2 464.9L692.7 464.6L693.2 464.6L693.7 465.7L694.2 466.3L694.7 466.2L695.2 466.4L695.7 466.0L696.2 465.3L696.7 464.5L697.2 464.3L697.7 464.2L698.2 464.2L698.7 463.2L699.2 462.9L699.7 463.5L700.2 463.4L700.7 463.1L701.2 463.6L701.7 463.3L702.2 462.7L702.7 462.2L703.2 462.0L703.7 461.4L704.2 461.6L704.7 461.7L705.2 461.7L705.7 461.9L706.2 461.5L706.7 462.4L707.2 461.4L707.7 461.8L708.2 462.0L708.7 462.3L709.2 462.6L709.7 461.9L710.2 462.6L710.7 462.8L711.2 463.3L711.7 464.0L712.2 465.2L712.7 464.8L713.2 464.4L713.7 465.3L714.2 466.9L714.7 468.2L715.2 468.0L715.7 468.1L716.2 468.2L716.7 467.5L717.2 467.9L717.7 466.5L718.2 466.3L718.7 466.1L719.2 465.2L719.7 465.1L720.2 464.7L720.7 464.1L721.2 464.8L721.7 464.5L722.2 463.8L722.7 464.1L723.2 463.6L723.7 464.6L724.2 464.8L724.7 465.0L725.2 464.8L725.7 463.4L726.2 460.9L726.7 462.1L727.2 460.5L727.7 460.2L728.2 459.9L728.7 459.0L729.2 458.8L729.7 458.4L730.2 458.8L730.7 458.1L731.2 457.9L731.7 457.7L732.2 457.8L732.7 457.4L733.2 457.4L733.7 457.2L734.2 457.8L734.7 457.0L735.2 457.6L735.7 458.1L736.2 457.9L736.7 457.9L737.2 457.9L737.7 458.0L738.2 458.5L738.7 459.2L739.2 459.6L739.7 459.4L740.2 459.6L740.7 459.9L741.2 459.3L741.7 459.0L742.2 459.5L742.7 459.3L743.2 459.4L743.7 458.9L744.2 458.5L744.7 458.6L745.2 459.1L745.7 458.4L746.2 458.4L746.7 459.5L747.2 459.6L747.7 460.1L748.2 460.9L748.7 461.3L749.2 461.5L749.7 461.8L750.2 462.2L750.7 463.3L751.2 463.0L751.7 464.3L752.2 464.6L752.7 464.3L753.2 464.7L753.7 465.6L754.2 466.1L754.7 466.7L755.2 465.2L755.7 465.3L756.2 464.9L756.7 464.7L757.2 463.6L757.7 462.3L758.2 462.6L758.7 461.1L759.2 461.5L759.7 461.1L760.2 460.7L760.7 461.6L761.2 461.6L761.7 461.6L762.2 460.2L762.7 460.3L763.2 459.9L763.7 459.0L764.2 459.6L764.7 459.2L765.2 459.6L765.7 460.1L766.2 459.8L766.7 460.6L767.2 460.8L767.7 460.9L768.2 461.3L768.7 460.6L769.2 460.8L769.7 460.8L770.2 462.0L770.7 462.9L771.2 463.3L771.7 463.7L772.2 463.2L772.7 463.9L773.2 464.3L773.7 464.9L774.2 464.9L774.7 465.6L775.2 464.7L775.7 462.7L776.2 463.8L776.7 463.1L777.2 463.2L777.7 462.7L778.2 462.0L778.7 461.8L779.2 461.3L779.7 461.8L780.2 462.0L780.7 461.7L781.2 463.1L781.7 463.1L782.2 464.2L782.7 464.6L783.2 464.6L783.7 465.2L784.2 463.3L784.7 463.0L785.2 462.7L785.7 462.2L786.2 461.6L786.7 461.9L787.2 461.9L787.7 462.9L788.2 461.5L788.7 462.9L789.2 461.7L789.7 462.8L790.2 464.2L790.7 463.8L791.2 465.1L791.7 466.2L792.2 466.4L792.7 466.9L793.2 467.1L793.7 467.0L794.2 467.6L794.7 466.2L795.2 467.3L795.7 464.6L796.2 467.1L796.7 467.5L797.2 467.3L797.7 466.9L798.2 466.0L798.7 466.1L799.2 466.1L799.7 466.1L800.2 465.6L800.7 466.3L801.2 465.7L801.7 466.2L802.2 465.5L802.7 464.9L803.2 465.5L803.7 464.7L804.2 464.3L804.7 464.9L805.2 463.6L805.7 463.7L806.2 463.5L806.7 463.7L807.2 463.4L807.7 463.7L808.2 462.9L808.7 463.2L809.2 462.2L809.7 462.9L810.2 461.7L810.7 461.5L811.2 461.3L811.7 462.0L812.2 461.1L812.7 460.5L813.2 460.1L813.7 460.9L814.2 460.1L814.7 460.9L815.2 460.4L815.7 460.1L816.2 459.8L816.7 459.5L817.2 458.5L817.7 458.2L818.2 456.5L818.7 456.5L819.2 457.1L819.7 457.5L820.2 457.4L820.7 455.5L821.2 457.6L821.7 457.7L822.2 457.7L822.7 457.5L823.2 457.9L823.7 457.6L824.2 457.0L824.7 457.3L825.2 457.8L825.7 459.0L826.2 459.1L826.7 459.0L827.2 459.3L827.7 460.0L828.2 460.2L828.7 459.5L829.2 459.3L829.7 459.4L830.2 459.5L830.7 458.9L831.2 459.3L831.7 459.3L832.2 459.4L832.7 460.3L833.2 462.0L833.7 462.6L834.2 462.1L834.7 463.7L835.2 465.2L835.7 465.6L836.2 465.3L836.7 465.3L837.2 464.4L837.7 464.9L838.2 464.6L838.7 464.5L839.2 463.2L839.7 463.6L840.2 462.9L840.7 463.4L841.2 462.5L841.7 462.5L842.2 462.1L842.7 461.0L843.2 461.3L843.7 458.2L844.2 460.2L844.7 460.0L845.2 458.7L845.7 459.3L846.2 458.8L846.7 458.4L847.2 459.3L847.7 458.1L848.2 460.4L848.7 460.3L849.2 461.0L849.7 461.0L850.2 460.9L850.7 461.6L851.2 461.2L851.7 461.2L852.2 461.3L852.7 461.5L853.2 461.2L853.7 461.6L854.2 462.1L854.7 462.6L855.2 463.0L855.7 464.3L856.2 464.7L856.7 466.1L857.2 465.5L857.7 466.2L858.2 465.9L858.7 465.8L859.2 465.7L859.7 465.3L860.2 465.5L860.7 465.5L861.2 465.2L861.7 464.5L862.2 462.1L862.7 461.3L863.2 460.6L863.7 460.2L864.2 458.1L864.7 457.7L865.2 457.8L865.7 458.7L866.2 459.1L866.7 459.4L867.2 460.4L867.7 460.2L868.2 459.5L868.7 460.9L869.2 461.0L869.7 461.6L870.2 461.5L870.7 461.0L871.2 459.0L871.7 459.8L872.2 459.6L872.7 458.1L873.2 457.8L873.7 458.5L874.2 459.3L874.7 459.9L875.2 460.9L875.7 462.5L876.2 463.1L876.7 464.3L877.2 464.0L877.7 464.6L878.2 464.3L878.7 464.5L879.2 464.3L879.7 465.1L880.2 465.3L880.7 465.1L881.2 465.1L881.7 464.8L882.2 465.2L882.7 465.7L883.2 465.4L883.7 465.8L884.2 464.9L884.7 465.1L885.2 465.6L885.7 466.2L886.2 466.2L886.7 466.7L887.2 467.1L887.7 466.5L888.2 466.4L888.7 466.8L889.2 466.2L889.7 465.9L890.2 465.5L890.7 465.0L891.2 464.5L891.7 463.0L892.2 462.6L892.7 461.1L893.2 461.8L893.7 460.8L894.2 459.8L894.7 459.6L895.2 458.4L895.7 457.9L896.2 457.0L896.7 456.5L897.2 455.3L897.7 455.0L898.2 456.0L898.7 455.9L899.2 455.6L899.7 456.8L900.2 456.3L900.7 455.8L901.2 454.7L901.7 454.8L902.2 454.4L902.7 453.6L903.2 454.3L903.7 454.4L904.2 454.7L904.7 455.5L905.2 455.7L905.7 455.9L906.2 456.2L906.7 455.7L907.2 455.3L907.7 456.6L908.2 457.3L908.7 456.3L909.2 456.9L909.7 457.4L910.2 456.5L910.7 457.3L911.2 456.9L911.7 454.9L912.2 457.5L912.7 458.7L913.2 458.6L913.7 461.0L914.2 461.7L914.7 462.2L915.2 463.4L915.7 465.2L916.2 466.0L916.7 466.1L917.2 466.3L917.7 466.7L918.2 467.0L918.7 467.0L919.2 468.5L919.7 468.3L920.2 469.0L920.7 469.0L921.2 469.8L921.7 469.5L922.2 470.5L922.7 468.7L923.2 469.5L923.7 470.5L924.2 470.3L924.7 469.7L925.2 468.4L925.7 465.9L926.2 464.4L926.7 463.5L927.2 462.3L927.7 461.2L928.2 461.4L928.7 460.7L929.2 460.3L929.7 460.4L930.2 459.1L930.7 458.4L931.2 459.2L931.7 460.1L932.2 459.6L932.7 461.2L933.2 460.0L933.7 461.0L934.2 462.0L934.7 461.7L935.2 463.7L935.7 464.8L936.2 464.8L936.7 465.1L937.2 465.6L937.7 466.4L938.2 467.7L938.7 468.5L939.2 467.4L939.7 468.7L940.2 468.0L940.7 468.5L941.2 467.8L941.7 469.0L942.2 468.8L942.7 469.4L943.2 469.9L943.7 469.5L944.2 469.4L944.7 468.7L945.2 468.5L945.7 467.7L946.2 466.4L946.7 465.7L947.2 465.2L947.7 464.3L948.2 463.4L948.7 464.0L949.2 463.8L949.7 464.0L950.2 463.8L950.7 464.5L951.2 465.4L951.7 464.3L952.2 464.5L952.7 464.9L953.2 464.5L953.7 463.8L954.2 464.5L954.7 463.4L955.2 464.3L955.7 463.6L956.2 463.4L956.7 462.2L957.2 463.3L957.7 462.7L958.2 461.8L958.7 461.9L959.2 461.3L959.7 461.7L960.2 460.9L960.7 460.8L961.2 460.0L961.7 459.1L962.2 459.9L962.7 459.9L963.2 461.8L963.7 462.8L964.2 462.2L964.7 462.3L965.2 462.5L965.7 462.9L966.2 463.5L966.7 463.5L967.2 463.7L967.7 462.7L968.2 461.8L968.7 461.5L969.2 461.5L969.2 465.4L968.7 465.6L968.2 467.3L967.7 467.4L967.2 467.3L966.7 467.4L966.2 467.7L965.7 467.0L965.2 466.8L964.7 466.4L964.2 466.5L963.7 468.5L963.2 465.9L962.7 465.3L962.2 463.8L961.7 463.8L961.2 463.8L960.7 464.4L960.2 464.8L959.7 466.1L959.2 466.5L958.7 466.0L958.2 467.1L957.7 466.6L957.2 467.5L956.7 467.5L956.2 467.4L955.7 468.4L955.2 468.2L954.7 468.6L954.2 469.5L953.7 468.3L953.2 468.6L952.7 469.4L952.2 468.7L951.7 469.2L951.2 469.5L950.7 468.9L950.2 470.0L949.7 468.0L949.2 467.2L948.7 468.5L948.2 467.8L947.7 468.7L947.2 469.8L946.7 470.7L946.2 471.4L945.7 472.1L945.2 473.2L944.7 473.6L944.2 473.3L943.7 473.7L943.2 473.3L942.7 473.8L942.2 474.6L941.7 472.7L941.2 472.5L940.7 472.3L940.2 472.5L939.7 472.9L939.2 472.4L938.7 474.7L938.2 472.1L937.7 471.5L937.2 470.3L936.7 470.1L936.2 469.6L935.7 469.6L935.2 468.3L934.7 467.6L934.2 466.5L933.7 465.4L933.2 464.8L932.7 465.0L932.2 465.2L931.7 464.6L931.2 463.3L930.7 463.3L930.2 463.7L929.7 464.9L929.2 464.7L928.7 465.4L928.2 466.0L927.7 466.7L927.2 468.1L926.7 469.1L926.2 470.6L925.7 471.8L925.2 473.5L924.7 474.0L924.2 475.4L923.7 475.3L923.2 474.5L922.7 474.2L922.2 474.3L921.7 473.7L921.2 473.6L920.7 473.6L920.2 473.4L919.7 473.7L919.2 472.7L918.7 472.3L918.2 471.5L917.7 471.8L917.2 473.3L916.7 470.4L916.2 471.1L915.7 470.4L915.2 469.1L914.7 468.3L914.2 467.1L913.7 466.6L913.2 464.8L912.7 464.2L912.2 463.2L911.7 462.0L911.2 460.7L910.7 460.8L910.2 461.1L909.7 461.5L909.2 461.1L908.7 461.0L908.2 460.9L907.7 460.7L907.2 460.0L906.7 460.3L906.2 460.6L905.7 459.8L905.2 460.2L904.7 459.3L904.2 459.8L903.7 458.7L903.2 458.6L902.7 458.3L902.2 458.4L901.7 458.9L901.2 458.9L900.7 460.0L900.2 460.2L899.7 460.6L899.2 460.3L898.7 460.1L898.2 460.3L897.7 460.1L897.2 460.3L896.7 461.0L896.2 461.6L895.7 462.8L895.2 464.8L894.7 464.9L894.2 465.3L893.7 465.4L893.2 466.5L892.7 466.9L892.2 467.2L891.7 467.5L891.2 469.0L890.7 470.7L890.2 469.3L889.7 470.0L889.2 470.1L888.7 470.2L888.2 470.1L887.7 470.8L887.2 471.2L886.7 470.6L886.2 469.6L885.7 470.7L885.2 469.0L884.7 469.6L884.2 468.8L883.7 469.4L883.2 469.0L882.7 469.4L882.2 469.5L881.7 469.1L881.2 468.9L880.7 468.7L880.2 468.9L879.7 468.9L879.2 468.1L878.7 468.0L878.2 468.3L877.7 469.8L877.2 468.6L876.7 468.6L876.2 468.0L875.7 467.1L875.2 466.4L874.7 465.5L874.2 464.5L873.7 463.0L873.2 462.9L872.7 463.2L872.2 463.5L871.7 464.3L871.2 464.2L870.7 465.4L870.2 465.7L869.7 466.7L869.2 464.9L868.7 464.7L868.2 465.0L867.7 464.3L867.2 465.0L866.7 464.0L866.2 463.4L865.7 462.9L865.2 462.4L864.7 462.1L864.2 463.6L863.7 465.9L863.2 467.4L862.7 467.1L862.2 470.5L861.7 469.9L861.2 469.4L860.7 469.5L860.2 469.2L859.7 469.5L859.2 469.8L858.7 470.1L858.2 470.5L857.7 471.0L857.2 471.5L856.7 470.9L856.2 469.6L855.7 469.8L855.2 468.2L854.7 467.4L854.2 466.6L853.7 466.1L853.2 466.2L852.7 466.4L852.2 465.2L851.7 466.2L851.2 465.4L850.7 465.0L850.2 464.8L849.7 464.9L849.2 464.3L848.7 463.9L848.2 464.9L847.7 464.1L847.2 463.6L846.7 462.5L846.2 462.2L845.7 463.0L845.2 463.4L844.7 463.8L844.2 464.9L843.7 465.1L843.2 465.9L842.7 465.8L842.2 466.8L841.7 467.0L841.2 466.9L840.7 467.7L840.2 467.4L839.7 468.1L839.2 468.3L838.7 468.6L838.2 470.0L837.7 468.8L837.2 468.3L836.7 469.2L836.2 469.7L835.7 469.8L835.2 469.6L834.7 468.6L834.2 467.5L833.7 467.4L833.2 467.1L832.7 465.1L832.2 463.8L831.7 463.1L831.2 463.9L830.7 463.6L830.2 463.3L829.7 463.1L829.2 463.3L828.7 463.6L828.2 463.5L827.7 463.2L827.2 463.4L826.7 463.1L826.2 463.3L825.7 462.3L825.2 461.8L824.7 461.3L824.2 461.2L823.7 461.6L823.2 463.2L822.7 461.7L822.2 461.4L821.7 461.3L821.2 461.3L820.7 460.9L820.2 461.4L819.7 461.3L819.2 461.1L818.7 461.3L818.2 460.8L817.7 461.6L817.2 465.0L816.7 463.1L816.2 463.3L815.7 463.9L815.2 464.5L814.7 464.6L814.2 464.6L813.7 465.6L813.2 464.3L812.7 464.4L812.2 465.6L811.7 466.1L811.2 466.5L810.7 466.7L810.2 466.1L809.7 466.8L809.2 466.8L808.7 467.2L808.2 467.6L807.7 467.9L807.2 467.9L806.7 467.6L806.2 468.4L805.7 467.8L805.2 467.9L804.7 468.9L804.2 469.1L803.7 469.1L803.2 469.4L802.7 468.8L802.2 469.9L801.7 470.0L801.2 469.9L800.7 470.2L800.2 470.1L799.7 470.0L799.2 470.4L798.7 470.4L798.2 470.1L797.7 470.8L797.2 471.3L796.7 471.9L796.2 471.2L795.7 470.6L795.2 470.9L794.7 470.4L794.2 471.1L793.7 471.4L793.2 471.0L792.7 471.0L792.2 470.4L791.7 470.3L791.2 468.7L790.7 468.8L790.2 468.5L789.7 467.1L789.2 467.2L788.7 468.2L788.2 466.6L787.7 467.1L787.2 465.9L786.7 466.0L786.2 466.0L785.7 466.5L785.2 466.7L784.7 467.5L784.2 467.6L783.7 469.0L783.2 469.5L782.7 468.4L782.2 468.1L781.7 467.2L781.2 467.0L780.7 468.7L780.2 466.5L779.7 466.1L779.2 465.5L778.7 467.1L778.2 465.9L777.7 467.3L777.2 466.7L776.7 467.9L776.2 468.1L775.7 469.4L775.2 469.2L774.7 469.5L774.2 469.8L773.7 468.4L773.2 469.1L772.7 468.6L772.2 467.3L771.7 467.5L771.2 467.5L770.7 466.7L770.2 465.9L769.7 465.5L769.2 464.9L768.7 464.8L768.2 466.2L767.7 465.0L767.2 465.0L766.7 464.8L766.2 463.9L765.7 463.8L765.2 463.8L764.7 463.3L764.2 463.9L763.7 463.4L763.2 463.9L762.7 464.4L762.2 464.6L761.7 465.2L761.2 465.6L760.7 465.7L760.2 464.8L759.7 465.8L759.2 465.8L758.7 465.9L758.2 466.6L757.7 467.4L757.2 467.8L756.7 469.1L756.2 469.3L755.7 469.3L755.2 470.4L754.7 471.0L754.2 471.1L753.7 471.0L753.2 469.5L752.7 469.1L752.2 468.7L751.7 468.7L751.2 468.0L750.7 468.7L750.2 467.3L749.7 466.0L749.2 465.9L748.7 465.2L748.2 465.1L747.7 464.3L747.2 464.9L746.7 463.3L746.2 463.2L745.7 462.5L745.2 463.3L744.7 463.2L744.2 462.6L743.7 462.5L743.2 463.4L742.7 463.4L742.2 462.8L741.7 462.6L741.2 463.4L740.7 463.4L740.2 464.5L739.7 463.6L739.2 464.2L738.7 465.2L738.2 462.1L737.7 462.1L737.2 461.9L736.7 461.7L736.2 461.6L735.7 462.1L735.2 461.8L734.7 461.1L734.2 461.6L733.7 460.9L733.2 461.2L732.7 461.5L732.2 461.6L731.7 462.5L731.2 461.8L730.7 461.9L730.2 462.7L729.7 462.8L729.2 463.3L728.7 463.4L728.2 464.7L727.7 464.6L727.2 465.2L726.7 468.5L726.2 467.2L725.7 467.9L725.2 468.9L724.7 468.8L724.2 468.8L723.7 468.4L723.2 467.5L722.7 467.3L722.2 467.7L721.7 468.1L721.2 468.4L720.7 468.1L720.2 468.6L719.7 468.7L719.2 469.1L718.7 470.0L718.2 470.2L717.7 471.0L717.2 472.1L716.7 472.4L716.2 472.1L715.7 472.5L715.2 473.0L714.7 472.6L714.2 471.7L713.7 470.3L713.2 469.5L712.7 469.3L712.2 469.4L711.7 468.1L711.2 467.3L710.7 467.1L710.2 467.1L709.7 468.2L709.2 467.1L708.7 467.0L708.2 466.0L707.7 466.1L707.2 465.7L706.7 465.9L706.2 466.0L705.7 465.5L705.2 465.3L704.7 465.7L704.2 465.2L703.7 465.5L703.2 466.1L702.7 466.4L702.2 466.8L701.7 467.2L701.2 467.5L700.7 467.6L700.2 467.0L699.7 467.3L699.2 467.4L698.7 467.8L698.2 467.8L697.7 467.8L697.2 468.2L696.7 468.9L696.2 469.2L695.7 469.7L695.2 470.3L694.7 470.2L694.2 470.3L693.7 469.5L693.2 468.6L692.7 469.4L692.2 469.2L691.7 468.6L691.2 467.6L690.7 467.9L690.2 466.8L689.7 467.1L689.2 465.9L688.7 465.7L688.2 464.1L687.7 464.6L687.2 462.8L686.7 462.6L686.2 462.8L685.7 462.9L685.2 463.5L684.7 463.7L684.2 464.2L683.7 464.0L683.2 464.2L682.7 463.4L682.2 462.9L681.7 464.4L681.2 463.5L680.7 463.9L680.2 464.4L679.7 465.0L679.2 465.7L678.7 466.2L678.2 466.3L677.7 466.4L677.2 466.8L676.7 466.8L676.2 466.2L675.7 465.7L675.2 464.9L674.7 464.5L674.2 465.1L673.7 465.6L673.2 464.1L672.7 464.5L672.2 464.3L671.7 464.0L671.2 464.9L670.7 465.6L670.2 465.9L669.7 466.2L669.2 467.6L668.7 467.6L668.2 468.9L667.7 469.9L667.2 470.8L666.7 469.2L666.2 469.4L665.7 468.3L665.2 468.4L664.7 468.0L664.2 467.2L663.7 466.7L663.2 466.3L662.7 465.9L662.2 465.1L661.7 465.3L661.2 465.7L660.7 466.9L660.2 465.4L659.7 465.5L659.2 465.6L658.7 465.4L658.2 466.5L657.7 466.2L657.2 466.2L656.7 465.7L656.2 465.7L655.7 465.4L655.2 466.5L654.7 465.3L654.2 465.2L653.7 465.8L653.2 465.5L652.7 466.3L652.2 465.5L651.7 465.8L651.2 466.1L650.7 466.1L650.2 465.9L649.7 466.5L649.2 466.0L648.7 465.7L648.2 465.4L647.7 465.6L647.2 465.0L646.7 464.4L646.2 464.1L645.7 463.1L645.2 462.9L644.7 461.3L644.2 461.7L643.7 461.6L643.2 462.1L642.7 462.5L642.2 462.9L641.7 464.1L641.2 464.3L640.7 466.5L640.2 465.5L639.7 466.0L639.2 466.5L638.7 466.7L638.2 468.0L637.7 468.0L637.2 468.0L636.7 468.4L636.2 467.9L635.7 468.3L635.2 468.7L634.7 469.0L634.2 469.2L633.7 469.0L633.2 468.5L632.7 468.2L632.2 467.7L631.7 468.1L631.2 467.2L630.7 467.2L630.2 467.2L629.7 467.6L629.2 467.6L628.7 468.3L628.2 468.3L627.7 468.1L627.2 467.3L626.7 467.2L626.2 466.9L625.7 467.0L625.2 467.1L624.7 467.7L624.2 467.0L623.7 466.8L623.2 467.2L622.7 467.4L622.2 466.9L621.7 467.2L621.2 467.3L620.7 467.8L620.2 467.7L619.7 469.2L619.2 469.2L618.7 469.1L618.2 468.1L617.7 468.0L617.2 467.8L616.7 467.3L616.2 467.4L615.7 466.9L615.2 466.1L614.7 466.5L614.2 467.3L613.7 466.8L613.2 465.8L612.7 465.9L612.2 466.3L611.7 465.7L611.2 465.5L610.7 465.5L610.2 465.9L609.7 465.7L609.2 465.3L608.7 465.3L608.2 466.3L607.7 466.4L607.2 468.0L606.7 468.0L606.2 469.5L605.7 469.9L605.2 469.8L604.7 470.7L604.2 471.3L603.7 470.9L603.2 471.2L602.7 471.8L602.2 472.0L601.7 472.5L601.2 472.5L600.7 473.1L600.2 474.0L599.7 475.6L599.2 475.0L598.7 473.9L598.2 472.5L597.7 471.4L597.2 470.9L596.7 470.1L596.2 468.5L595.7 467.5L595.2 466.4L594.7 465.7L594.2 464.4L593.7 463.4L593.2 463.1L592.7 461.9L592.2 461.9L591.7 461.1L591.2 461.2L590.7 461.7L590.2 463.2L589.7 464.0L589.2 465.3L588.7 465.8L588.2 467.0L587.7 469.3L587.2 469.4L586.7 471.3L586.2 472.7L585.7 472.2L585.2 472.8L584.7 472.5L584.2 473.2L583.7 473.8L583.2 474.8L582.7 473.5L582.2 473.7L581.7 473.6L581.2 474.2L580.7 474.4L580.2 474.3L579.7 472.8L579.2 472.7L578.7 471.6L578.2 470.2L577.7 469.0L577.2 468.1L576.7 467.0L576.2 465.1L575.7 464.6L575.2 464.6L574.7 463.5L574.2 464.3L573.7 463.0L573.2 462.6L572.7 463.3L572.2 463.5L571.7 464.2L571.2 463.5L570.7 463.1L570.2 463.7L569.7 463.5L569.2 462.6L568.7 461.9L568.2 461.3L567.7 461.6L567.2 461.4L566.7 461.3L566.2 460.1L565.7 459.1L565.2 459.6L564.7 459.8L564.2 460.0L563.7 460.3L563.2 460.6L562.7 461.9L562.2 461.8L561.7 462.4L561.2 461.3L560.7 463.2L560.2 462.8L559.7 464.3L559.2 464.0L558.7 464.4L558.2 464.6L557.7 465.7L557.2 466.2L556.7 465.7L556.2 465.9L555.7 466.7L555.2 466.8L554.7 466.9L554.2 467.5L553.7 467.6L553.2 467.5L552.7 468.3L552.2 468.5L551.7 469.6L551.2 469.7L550.7 469.9L550.2 469.6L549.7 469.6L549.2 470.0L548.7 470.5L548.2 469.8L547.7 469.0L547.2 469.5L546.7 467.7L546.2 466.9L545.7 467.6L545.2 467.1L544.7 466.2L544.2 466.2L543.7 466.1L543.2 465.7L542.7 466.3L542.2 466.0L541.7 466.2L541.2 467.8L540.7 467.1L540.2 466.8L539.7 468.0L539.2 467.3L538.7 467.8L538.2 467.3L537.7 467.9L537.2 468.0L536.7 468.2L536.2 468.4L535.7 469.0L535.2 468.5L534.7 468.7L534.2 470.0L533.7 470.1L533.2 470.4L532.7 469.9L532.2 469.6L531.7 469.5L531.2 469.5L530.7 469.4L530.2 469.4L529.7 469.7L529.2 470.0L528.7 470.1L528.2 470.3L527.7 470.8L527.2 469.9L526.7 469.8L526.2 468.6L525.7 468.5L525.2 468.7L524.7 467.7L524.2 468.3L523.7 468.4L523.2 468.7L522.7 468.9L522.2 469.3L521.7 470.0L521.2 470.9L520.7 470.9L520.2 471.3L519.7 472.1L519.2 472.0L518.7 471.2L518.2 471.5L517.7 471.4L517.2 471.5L516.7 470.7L516.2 471.3L515.7 470.2L515.2 470.0L514.7 469.8L514.2 469.0L513.7 468.8L513.2 468.5L512.7 468.3L512.2 468.3L511.7 468.1L511.2 468.0L510.7 466.0L510.2 465.4L509.7 464.8L509.2 464.3L508.7 463.4L508.2 463.4L507.7 462.7L507.2 463.0L506.7 462.3L506.2 462.4L505.7 461.8L505.2 461.9L504.7 462.9L504.2 463.8L503.7 464.0L503.2 465.3L502.7 467.0L502.2 467.9L501.7 468.3L501.2 470.5L500.7 470.9L500.2 470.5L499.7 469.1L499.2 468.0L498.7 467.1L498.2 465.3L497.7 465.3L497.2 465.8L496.7 466.4L496.2 466.7L495.7 467.1L495.2 467.0L494.7 467.7L494.2 466.8L493.7 465.7L493.2 466.4L492.7 465.6L492.2 465.0L491.7 463.4L491.2 464.2L490.7 462.4L490.2 461.7L489.7 462.8L489.2 463.4L488.7 462.7L488.2 462.5L487.7 462.9L487.2 462.4L486.7 462.7L486.2 462.2L485.7 461.6L485.2 462.0L484.7 462.1L484.2 461.9L483.7 462.2L483.2 460.7L482.7 460.8L482.2 460.8L481.7 461.2L481.2 460.9L480.7 461.5L480.2 460.6L479.7 460.1L479.2 460.7L478.7 460.4L478.2 460.5L477.7 462.0L477.2 461.8L476.7 463.3L476.2 462.6L475.7 463.1L475.2 463.7L474.7 464.0L474.2 464.0L473.7 464.8L473.2 464.4L472.7 465.4L472.2 465.3L471.7 465.5L471.2 464.3L470.7 465.2L470.2 465.0L469.7 465.0L469.2 464.9L468.7 465.0L468.2 465.5L467.7 465.1L467.2 466.7L466.7 466.1L466.2 466.6L465.7 466.2L465.2 466.2L464.7 466.7L464.2 466.6L463.7 467.7L463.2 468.4L462.7 468.9L462.2 468.9L461.7 468.8L461.2 469.4L460.7 470.2L460.2 470.6L459.7 470.8L459.2 470.2L458.7 470.5L458.2 470.4L457.7 470.2L457.2 470.0L456.7 471.2L456.2 470.0L455.7 470.4L455.2 470.5L454.7 470.0L454.2 470.7L453.7 470.1L453.2 469.9L452.7 469.1L452.2 468.3L451.7 468.0L451.2 467.6L450.7 467.2L450.2 466.9L449.7 467.0L449.2 465.3L448.7 465.9L448.2 466.4L447.7 467.2L447.2 467.9L446.7 466.6L446.2 467.6L445.7 468.6L445.2 468.9L444.7 469.6L444.2 469.5L443.7 469.7L443.2 469.7L442.7 469.9L442.2 470.1L441.7 471.2L441.2 471.0L440.7 473.4L440.2 472.3L439.7 472.5L439.2 473.1L438.7 472.2L438.2 472.6L437.7 472.5L437.2 473.0L436.7 472.9L436.2 473.0L435.7 473.7L435.2 471.3L434.7 471.2L434.2 470.3L433.7 469.6L433.2 470.4L432.7 469.6L432.2 468.8L431.7 468.2L431.2 468.5L430.7 467.9L430.2 468.6L429.7 466.5L429.2 466.8L428.7 467.1L428.2 467.0L427.7 466.2L427.2 466.2L426.7 465.3L426.2 465.5L425.7 464.6L425.2 464.1L424.7 464.2L424.2 465.0L423.7 465.6L423.2 465.6L422.7 465.0L422.2 466.0L421.7 465.7L421.2 465.5L420.7 465.7L420.2 466.0L419.7 465.9L419.2 467.0L418.7 467.5L418.2 467.9L417.7 468.4L417.2 469.2L416.7 469.7L416.2 469.7L415.7 470.1L415.2 469.8L414.7 470.5L414.2 470.5L413.7 470.5L413.2 469.9L412.7 470.0L412.2 469.6L411.7 470.2L411.2 469.8L410.7 470.0L410.2 469.2L409.7 469.0L409.2 469.8L408.7 466.8L408.2 466.5L407.7 466.6L407.2 465.5L406.7 465.1L406.2 464.9L405.7 465.5L405.2 464.9L404.7 464.9L404.2 465.0L403.7 465.2L403.2 464.4L402.7 463.9L402.2 464.5L401.7 463.4L401.2 463.3L400.7 463.2L400.2 463.4L399.7 461.3L399.2 461.9L398.7 461.5L398.2 462.4L397.7 462.0L397.2 462.3L396.7 462.1L396.2 462.6L395.7 463.4L395.2 464.2L394.7 463.2L394.2 462.2L393.7 461.6L393.2 460.2L392.7 459.5L392.2 458.7L391.7 457.9L391.2 457.4L390.7 457.4L390.2 457.4L389.7 456.6L389.2 456.8L388.7 457.5L388.2 458.3L387.7 458.5L387.2 460.2L386.7 460.4L386.2 460.8L385.7 462.8L385.2 463.8L384.7 465.5L384.2 466.0L383.7 466.8L383.2 467.5L382.7 467.4L382.2 466.7L381.7 467.2L381.2 467.4L380.7 468.4L380.2 468.5L379.7 469.0L379.2 469.2L378.7 469.1L378.2 468.7L377.7 468.4L377.2 468.8L376.7 468.8L376.2 470.2L375.7 470.4L375.2 470.3L374.7 470.5L374.2 469.8L373.7 470.1L373.2 469.9L372.7 467.6L372.2 468.1L371.7 468.6L371.2 469.5L370.7 467.9L370.2 467.7L369.7 467.7L369.2 467.7L368.7 468.7L368.2 468.0L367.7 468.8L367.2 468.3L366.7 469.4L366.2 469.2L365.7 468.2L365.2 468.1L364.7 467.0L364.2 466.9L363.7 466.1L363.2 465.8L362.7 464.5L362.2 464.2L361.7 464.2L361.2 464.3L360.7 464.1L360.2 464.9L359.7 464.9L359.2 465.5L358.7 465.2L358.2 465.7L357.7 465.7L357.2 466.1L356.7 465.8L356.2 466.3L355.7 465.8L355.2 465.4L354.7 466.4L354.2 466.6L353.7 467.1L353.2 466.6L352.7 466.2L352.2 466.3L351.7 465.7L351.2 467.1L350.7 466.6L350.2 466.3L349.7 467.1L349.2 466.6L348.7 466.3L348.2 466.9L347.7 467.1L347.2 466.6L346.7 466.3L346.2 466.4L345.7 466.2L345.2 467.5L344.7 467.3L344.2 467.3L343.7 466.4L343.2 466.3L342.7 466.6L342.2 465.7L341.7 465.7L341.2 465.8L340.7 465.7L340.2 466.0L339.7 467.1L339.2 467.1L338.7 466.5L338.2 467.6L337.7 467.6L337.2 467.7L336.7 468.4L336.2 468.7L335.7 468.7L335.2 468.1L334.7 467.8L334.2 467.3L333.7 467.8L333.2 466.8L332.7 467.8L332.2 467.0L331.7 467.5L331.2 467.9L330.7 467.6L330.2 468.3L329.7 468.5L329.2 469.3L328.7 469.9L328.2 470.3L327.7 470.7L327.2 470.7L326.7 469.7L326.2 468.7L325.7 469.1L325.2 468.7L324.7 468.2L324.2 466.9L323.7 465.8L323.2 466.3L322.7 465.4L322.2 466.0L321.7 465.3L321.2 465.4L320.7 465.8L320.2 465.4L319.7 465.3L319.2 465.3L318.7 464.7L318.2 464.7L317.7 464.8L317.2 465.4L316.7 465.1L316.2 465.1L315.7 464.3L315.2 464.0L314.7 464.4L314.2 464.9L313.7 463.7L313.2 463.8L312.7 463.3L312.2 462.4L311.7 462.2L311.2 460.9L310.7 461.0L310.2 460.7L309.7 460.6L309.2 460.7L308.7 461.0L308.2 461.8L307.7 461.5L307.2 461.9L306.7 462.2L306.2 462.7L305.7 462.1L305.2 462.3L304.7 463.3L304.2 462.3L303.7 463.8L303.2 464.6L302.7 465.7L302.2 466.3L301.7 466.0L301.2 465.9L300.7 467.0L300.2 467.0L299.7 466.5L299.2 466.5L298.7 465.9L298.2 466.2L297.7 467.1L297.2 468.4L296.7 466.7L296.2 467.9L295.7 467.0L295.2 467.2L294.7 467.7L294.2 467.3L293.7 468.0L293.2 468.0L292.7 468.1L292.2 468.3L291.7 467.7L291.2 467.9L290.7 467.2L290.2 467.2L289.7 466.7L289.2 466.6L288.7 466.6L288.2 466.0L287.7 465.9L287.2 465.9L286.7 465.9L286.2 466.4L285.7 465.8L285.2 465.3L284.7 466.0L284.2 466.8L283.7 466.2L283.2 466.5L282.7 465.6L282.2 466.4L281.7 466.2L281.2 466.0L280.7 466.0L280.2 468.6L279.7 466.5L279.2 466.3L278.7 466.5L278.2 466.7L277.7 467.9L277.2 468.1L276.7 468.5L276.2 469.5L275.7 469.3L275.2 468.6L274.7 468.4L274.2 469.1L273.7 470.3L273.2 469.4L272.7 469.1L272.2 468.9L271.7 469.0L271.2 467.4L270.7 466.1L270.2 465.8L269.7 465.0L269.2 468.0L268.7 465.9L268.2 466.3L267.7 466.2L267.2 467.6L266.7 467.9L266.2 467.7L265.7 467.2L265.2 467.4L264.7 468.4L264.2 468.7L263.7 468.5L263.2 468.4L262.7 468.6L262.2 469.7L261.7 469.2L261.2 470.0L260.7 469.8L260.2 470.3L259.7 470.4L259.2 470.4L258.7 470.0L258.2 469.1L257.7 469.0L257.2 468.2L256.7 467.1L256.2 466.8L255.7 466.1L255.2 465.9L254.7 465.4L254.2 464.0L253.7 463.7L253.2 463.9L252.7 463.3L252.2 462.7L251.7 463.3L251.2 463.8L250.7 464.3L250.2 464.9L249.7 465.3L249.2 466.3L248.7 466.1L248.2 467.2L247.7 466.7L247.2 467.6L246.7 468.8L246.2 468.3L245.7 469.2L245.2 470.6L244.7 471.0L244.2 472.5L243.7 470.0L243.2 469.4L242.7 469.4L242.2 469.5L241.7 471.6L241.2 470.3L240.7 470.4L240.2 469.8L239.7 470.1L239.2 469.2L238.7 469.0L238.2 468.3L237.7 467.7L237.2 467.8L236.7 467.4L236.2 467.2L235.7 467.1L235.2 465.6L234.7 466.9L234.2 465.4L233.7 465.0L233.2 465.1L232.7 465.0L232.2 465.3L231.7 465.0L231.2 464.7L230.7 464.1L230.2 463.8L229.7 464.1L229.2 462.8L228.7 462.8L228.2 462.4L227.7 462.6L227.2 462.0L226.7 462.2L226.2 461.5L225.7 460.9L225.2 460.3L224.7 460.9L224.2 461.2L223.7 461.2L223.2 462.1L222.7 461.5L222.2 462.4L221.7 462.1L221.2 462.4L220.7 463.4L220.2 463.7L219.7 464.6L219.2 464.0L218.7 465.2L218.2 464.9L217.7 465.2L217.2 464.7L216.7 465.6L216.2 465.8L215.7 465.4L215.2 465.8L214.7 465.5L214.2 465.0L213.7 466.1L213.2 468.9L212.7 466.8L212.2 467.0L211.7 468.1L211.2 468.2L210.7 468.5L210.2 467.1L209.7 467.1L209.2 468.5L208.7 468.3L208.2 468.7L207.7 468.0L207.2 468.6L206.7 470.0L206.2 467.1L205.7 467.0L205.2 467.5L204.7 467.1L204.2 467.0L203.7 466.1L203.2 465.9L202.7 465.7L202.2 466.8L201.7 467.2L201.2 468.0L200.7 468.1L200.2 469.0L199.7 468.8L199.2 468.7L198.7 468.7L198.2 469.5L197.7 469.2L197.2 468.5L196.7 469.3L196.2 469.4L195.7 468.7L195.2 469.0L194.7 468.9L194.2 468.8L193.7 468.0L193.2 469.0L192.7 467.1L192.2 466.2L191.7 467.0L191.2 466.3L190.7 467.5L190.2 468.2L189.7 468.6L189.2 468.7L188.7 469.6L188.2 470.2L187.7 469.9L187.2 470.9L186.7 471.3L186.2 470.2L185.7 468.3L185.2 467.7L184.7 469.9L184.2 469.0L183.7 470.0L183.2 469.7L182.7 469.8L182.2 470.5L181.7 470.5L181.2 469.9L180.7 469.8L180.2 470.5L179.7 471.6L179.2 471.4L178.7 472.1L178.2 473.6L177.7 472.3L177.2 473.0L176.7 471.6L176.2 472.1L175.7 472.0L175.2 471.3L174.7 471.0L174.2 470.2L173.7 469.9L173.2 469.6L172.7 468.7L172.2 468.3L171.7 467.4L171.2 466.7L170.7 467.2L170.2 467.0L169.7 466.7L169.2 465.5L168.7 464.9L168.2 465.3L167.7 465.5L167.2 464.6L166.7 464.7L166.2 465.2L165.7 465.1L165.2 465.1L164.7 465.1L164.2 466.3L163.7 466.2L163.2 466.5L162.7 468.1L162.2 467.5L161.7 469.0L161.2 469.3L160.7 469.7L160.2 472.0L159.7 471.8L159.2 472.2L158.7 472.5L158.2 471.4L157.7 472.4L157.2 471.9L156.7 471.9L156.2 471.8L155.7 472.0L155.2 470.1L154.7 470.6L154.2 471.1L153.7 470.1L153.2 469.3L152.7 468.3L152.2 467.5L151.7 466.0L151.2 466.0L150.7 465.0L150.2 463.7L149.7 463.5L149.2 463.1L148.7 463.1L148.2 463.2L147.7 464.0L147.2 464.0L146.7 463.5L146.2 464.7L145.7 464.0L145.2 464.7L144.7 464.3L144.2 464.5L143.7 463.9L143.2 464.6L142.7 464.0L142.2 464.4L141.7 464.7L141.2 463.9L140.7 463.1L140.2 465.3L139.7 461.7L139.2 461.2L138.7 461.3L138.2 460.9L137.7 461.1L137.2 460.5L136.7 460.6L136.2 461.2L135.7 461.9L135.2 462.2L134.7 461.6L134.2 461.4L133.7 461.8L133.2 461.8L132.7 462.0L132.2 462.5L131.7 462.8L131.2 462.6L130.7 461.9L130.2 462.4L129.7 462.9L129.2 463.5L128.7 464.3L128.2 464.0L127.7 463.8L127.2 467.0L126.7 464.5L126.2 465.8L125.7 465.6L125.2 466.1L124.7 467.9L124.2 467.4L123.7 467.8ZM895.40 318.2H895.90V485.6H895.40ZM896.10 415.0H896.30V458.0H896.10ZM896.20 353.5H896.20V357.0H896.20Z" stroke="#1f77b4" stroke-width="0.9" fill="#1f77b4" stroke-linejoin="round"/>
<path d="M124.50 494.50v4.86M209.50 494.50v4.86M294.50 494.50v4.86M380.50 494.50v4.86M465.50 494.50v4.86M550.50 494.50v4.86M636.50 494.50v4.86M721.50 494.50v4.86M806.50 494.50v4.86M892.50 494.50v4.86M977.50 494.50v4.86M82.50 338.50h-4.86M82.50 369.50h-4.86M82.50 400.50h-4.86M82.50 431.50h-4.86M82.50 462.50h-4.86M82.50 493.50h-4.86" stroke="#000" stroke-width="1.11" fill="none"/>
<rect x="82.50" y="310.50" width="930.00" height="184.00" fill="none" stroke="#000" stroke-width="1.11"/>
<text x="71.9" y="343.60" font-size="13.89" text-anchor="end">1<tspan dx="-1.1">.00</tspan></text>
<text x="71.9" y="374.68" font-size="13.89" text-anchor="end">0<tspan dx="-1.1">.75</tspan></text>
<text x="71.9" y="405.75" font-size="13.89" text-anchor="end">0<tspan dx="-1.1">.50</tspan></text>
<text x="71.9" y="436.83" font-size="13.89" text-anchor="end">0<tspan dx="-1.1">.25</tspan></text>
<text x="71.9" y="467.90" font-size="13.89" text-anchor="end">0<tspan dx="-1.1">.00</tspan></text>
<text x="71.9" y="498.98" font-size="13.89" text-anchor="end">−<tspan dx="-1.2">0.25</tspan></text>
<text transform="translate(546.8 302.20) scale(1 1.08)" font-size="16.67" text-anchor="middle">North displacement</text>
<text transform="translate(20.50 403.90) rotate(-90)" font-size="13.89" text-anchor="middle">Disp.</text>
</g>
<g>
<path d="M124.50 558.50V742.50M209.50 558.50V742.50M294.50 558.50V742.50M380.50 558.50V742.50M465.50 558.50V742.50M550.50 558.50V742.50M636.50 558.50V742.50M721.50 558.50V742.50M806.50 558.50V742.50M892.50 558.50V742.50M977.50 558.50V742.50M82.50 591.50H1012.50M82.50 634.50H1012.50M82.50 678.50H1012.50M82.50 722.50H1012.50" stroke="#b0b0b0" stroke-width="1.11" fill="none"/>
<clipPath id="c2"><rect x="82.50" y="558.50" width="930.00" height="184.00"/></clipPath>
<path clip-path="url(#c2)" d="M123.7 670.1L124.2 669.8L124.7 671.6L125.2 672.3L125.7 673.1L126.2 675.6L126.7 676.9L127.2 678.2L127.7 678.7L128.2 679.7L128.7 679.9L129.2 678.6L129.7 675.9L130.2 675.1L130.7 675.0L131.2 677.5L131.7 679.9L132.2 682.6L132.7 683.5L133.2 686.1L133.7 686.2L134.2 687.3L134.7 687.6L135.2 686.9L135.7 684.8L136.2 683.5L136.7 681.8L137.2 679.2L137.7 677.6L138.2 679.3L138.7 679.7L139.2 680.0L139.7 680.9L140.2 679.0L140.7 677.4L141.2 677.7L141.7 677.6L142.2 678.0L142.7 675.9L143.2 674.9L143.7 674.2L144.2 673.9L144.7 673.7L145.2 672.9L145.7 672.0L146.2 670.9L146.7 669.4L147.2 666.8L147.7 663.8L148.2 667.1L148.7 667.6L149.2 669.0L149.7 671.3L150.2 672.5L150.7 672.4L151.2 670.4L151.7 670.3L152.2 671.9L152.7 672.1L153.2 672.8L153.7 673.1L154.2 675.7L154.7 676.3L155.2 677.6L155.7 678.6L156.2 678.9L156.7 677.4L157.2 676.2L157.7 674.6L158.2 673.1L158.7 670.7L159.2 670.7L159.7 671.8L160.2 671.0L160.7 672.4L161.2 671.8L161.7 673.4L162.2 673.8L162.7 675.5L163.2 676.1L163.7 677.0L164.2 676.2L164.7 675.9L165.2 675.1L165.7 677.2L166.2 679.4L166.7 680.4L167.2 683.0L167.7 684.9L168.2 686.5L168.7 684.9L169.2 686.0L169.7 684.6L170.2 684.0L170.7 681.9L171.2 681.5L171.7 680.2L172.2 679.3L172.7 678.9L173.2 679.3L173.7 678.6L174.2 677.3L174.7 675.3L175.2 674.4L175.7 674.4L176.2 674.6L176.7 673.6L177.2 674.2L177.7 675.7L178.2 676.7L178.7 677.2L179.2 677.6L179.7 675.8L180.2 674.6L180.7 673.6L181.2 674.2L181.7 674.0L182.2 674.1L182.7 675.7L183.2 672.8L183.7 675.4L184.2 675.7L184.7 676.0L185.2 674.0L185.7 675.1L186.2 675.4L186.7 677.2L187.2 678.2L187.7 678.0L188.2 677.9L188.7 677.0L189.2 677.7L189.7 678.2L190.2 677.2L190.7 677.5L191.2 677.2L191.7 677.8L192.2 678.8L192.7 680.4L193.2 680.4L193.7 678.5L194.2 679.6L194.7 681.4L195.2 681.7L195.7 679.6L196.2 679.3L196.7 678.0L197.2 676.8L197.7 676.6L198.2 675.5L198.7 673.7L199.2 673.7L199.7 674.4L200.2 674.7L200.7 674.0L201.2 674.5L201.7 674.6L202.2 674.6L202.7 673.6L203.2 673.1L203.7 674.2L204.2 672.1L204.7 672.8L205.2 671.8L205.7 671.9L206.2 673.6L206.7 672.6L207.2 672.5L207.7 674.3L208.2 674.7L208.7 673.1L209.2 673.5L209.7 673.9L210.2 674.5L210.7 674.3L211.2 674.3L211.7 676.4L212.2 675.9L212.7 677.8L213.2 677.3L213.7 678.4L214.2 677.3L214.7 676.3L215.2 675.3L215.7 675.9L216.2 676.2L216.7 677.3L217.2 677.4L217.7 677.6L218.2 676.5L218.7 678.2L219.2 680.0L219.7 680.6L220.2 678.8L220.7 682.8L221.2 683.2L221.7 684.7L222.2 683.4L222.7 681.8L223.2 682.3L223.7 681.2L224.2 680.4L224.7 680.4L225.2 678.4L225.7 676.6L226.2 676.7L226.7 676.5L227.2 676.0L227.7 673.6L228.2 674.6L228.7 675.6L229.2 676.3L229.7 677.3L230.2 678.7L230.7 679.8L231.2 679.1L231.7 677.6L232.2 676.0L232.7 675.1L233.2 674.9L233.7 675.0L234.2 674.1L234.7 673.5L235.2 672.4L235.7 671.0L236.2 672.5L236.7 672.6L237.2 673.8L237.7 672.0L238.2 671.9L238.7 672.0L239.2 671.9L239.7 671.6L240.2 673.8L240.7 675.5L241.2 672.9L241.7 671.8L242.2 673.7L242.7 673.7L243.2 673.4L243.7 674.7L244.2 676.6L244.7 677.6L245.2 678.8L245.7 677.9L246.2 676.0L246.7 677.8L247.2 679.1L247.7 679.8L248.2 681.8L248.7 680.4L249.2 680.5L249.7 680.8L250.2 681.7L250.7 683.6L251.2 681.7L251.7 683.9L252.2 682.5L252.7 682.6L253.2 681.4L253.7 681.9L254.2 681.3L254.7 681.4L255.2 679.8L255.7 680.1L256.2 680.1L256.7 678.9L257.2 679.2L257.7 678.6L258.2 677.1L258.7 677.8L259.2 677.9L259.7 677.2L260.2 676.0L260.7 675.3L261.2 674.8L261.7 673.8L262.2 674.2L262.7 674.6L263.2 674.7L263.7 676.3L264.2 676.7L264.7 677.4L265.2 676.7L265.7 676.6L266.2 675.6L266.7 674.8L267.2 675.1L267.7 675.7L268.2 676.3L268.7 675.9L269.2 675.3L269.7 675.4L270.2 675.2L270.7 674.6L271.2 675.7L271.7 677.4L272.2 677.4L272.7 678.8L273.2 680.2L273.7 680.8L274.2 682.0L274.7 683.6L275.2 682.7L275.7 684.0L276.2 684.3L276.7 683.7L277.2 683.4L277.7 680.5L278.2 684.1L278.7 681.9L279.2 682.1L279.7 681.5L280.2 681.7L280.7 683.0L281.2 683.3L281.7 684.1L282.2 684.2L282.7 684.3L283.2 682.5L283.7 681.7L284.2 680.8L284.7 679.5L285.2 677.8L285.7 677.0L286.2 675.2L286.7 675.1L287.2 674.2L287.7 672.5L288.2 673.1L288.7 675.3L289.2 673.3L289.7 675.1L290.2 675.8L290.7 676.0L291.2 676.4L291.7 676.1L292.2 675.4L292.7 675.0L293.2 674.5L293.7 675.0L294.2 673.5L294.7 673.0L295.2 673.9L295.7 675.2L296.2 673.8L296.7 674.8L297.2 675.8L297.7 675.7L298.2 674.3L298.7 675.6L299.2 674.1L299.7 677.4L300.2 677.8L300.7 677.0L301.2 678.4L301.7 679.9L302.2 680.0L302.7 681.5L303.2 683.6L303.7 684.7L304.2 686.2L304.7 687.2L305.2 685.8L305.7 684.4L306.2 680.1L306.7 681.5L307.2 682.8L307.7 683.3L308.2 684.1L308.7 684.9L309.2 687.4L309.7 686.4L310.2 686.2L310.7 684.0L311.2 684.7L311.7 683.5L312.2 680.9L312.7 679.5L313.2 676.0L313.7 675.1L314.2 675.9L314.7 675.0L315.2 675.3L315.7 673.1L316.2 672.3L316.7 672.1L317.2 671.7L317.7 668.4L318.2 670.4L318.7 672.1L319.2 671.4L319.7 671.2L320.2 672.0L320.7 670.8L321.2 670.8L321.7 670.9L322.2 670.3L322.7 669.0L323.2 671.6L323.7 671.7L324.2 672.3L324.7 674.2L325.2 675.1L325.7 677.0L326.2 678.1L326.7 677.5L327.2 678.4L327.7 676.6L328.2 676.4L328.7 676.4L329.2 675.3L329.7 676.2L330.2 675.6L330.7 673.0L331.2 671.6L331.7 669.3L332.2 667.7L332.7 669.2L333.2 667.7L333.7 666.5L334.2 668.7L334.7 669.1L335.2 670.2L335.7 672.6L336.2 674.0L336.7 674.5L337.2 679.9L337.7 681.9L338.2 685.2L338.7 687.0L339.2 686.6L339.7 688.1L340.2 686.9L340.7 687.4L341.2 687.2L341.7 685.4L342.2 685.1L342.7 682.2L343.2 681.3L343.7 678.9L344.2 677.9L344.7 675.6L345.2 672.4L345.7 668.5L346.2 664.6L346.7 664.4L347.2 662.9L347.7 667.5L348.2 669.4L348.7 673.0L349.2 674.8L349.7 677.2L350.2 678.5L350.7 680.3L351.2 683.1L351.7 683.6L352.2 682.4L352.7 683.6L353.2 683.3L353.7 682.6L354.2 682.5L354.7 681.7L355.2 682.6L355.7 684.4L356.2 684.5L356.7 684.6L357.2 686.8L357.7 688.9L358.2 689.6L358.7 689.9L359.2 687.6L359.7 683.5L360.2 680.3L360.7 681.8L361.2 682.9L361.7 682.9L362.2 680.5L362.7 681.3L363.2 681.8L363.7 679.7L364.2 678.2L364.7 679.2L365.2 678.2L365.7 679.0L366.2 678.3L366.7 679.8L367.2 678.1L367.7 678.4L368.2 677.6L368.7 676.4L369.2 674.1L369.7 675.8L370.2 672.9L370.7 674.1L371.2 670.7L371.7 671.4L372.2 671.3L372.7 669.9L373.2 668.3L373.7 668.5L374.2 668.8L374.7 670.5L375.2 669.2L375.7 670.7L376.2 670.2L376.7 672.5L377.2 672.2L377.7 672.8L378.2 671.7L378.7 669.7L379.2 670.9L379.7 669.0L380.2 667.4L380.7 669.1L381.2 669.9L381.7 671.0L382.2 673.5L382.7 674.8L383.2 675.9L383.7 676.2L384.2 679.4L384.7 678.6L385.2 675.0L385.7 674.3L386.2 671.4L386.7 674.5L387.2 678.2L387.7 681.3L388.2 684.5L388.7 688.3L389.2 691.7L389.7 695.1L390.2 699.0L390.7 698.2L391.2 690.8L391.7 687.0L392.2 686.6L392.7 681.0L393.2 683.8L393.7 682.3L394.2 682.4L394.7 683.1L395.2 683.6L395.7 683.2L396.2 682.0L396.7 680.5L397.2 681.0L397.7 679.0L398.2 675.1L398.7 674.9L399.2 677.8L399.7 676.7L400.2 675.1L400.7 674.7L401.2 674.3L401.7 675.0L402.2 676.0L402.7 676.6L403.2 676.7L403.7 677.5L404.2 676.9L404.7 675.4L405.2 674.8L405.7 673.1L406.2 673.9L406.7 671.4L407.2 672.2L407.7 671.6L408.2 669.0L408.7 668.8L409.2 667.6L409.7 670.1L410.2 671.4L410.7 672.9L411.2 673.2L411.7 674.6L412.2 675.7L412.7 676.9L413.2 674.7L413.7 673.7L414.2 674.3L414.7 673.8L415.2 674.4L415.7 677.0L416.2 678.8L416.7 681.0L417.2 679.7L417.7 680.9L418.2 680.9L418.7 682.0L419.2 681.6L419.7 682.4L420.2 680.6L420.7 679.2L421.2 680.9L421.7 681.7L422.2 681.1L422.7 681.8L423.2 682.0L423.7 681.7L424.2 679.3L424.7 681.4L425.2 681.1L425.7 680.8L426.2 679.9L426.7 679.1L427.2 678.4L427.7 677.7L428.2 678.6L428.7 678.7L429.2 678.6L429.7 677.4L430.2 677.3L430.7 677.7L431.2 675.6L431.7 673.6L432.2 674.2L432.7 676.9L433.2 677.9L433.7 676.6L434.2 678.4L434.7 678.6L435.2 678.0L435.7 676.9L436.2 675.8L436.7 675.2L437.2 673.8L437.7 673.7L438.2 674.4L438.7 674.3L439.2 675.0L439.7 675.3L440.2 678.0L440.7 675.8L441.2 678.8L441.7 680.2L442.2 680.5L442.7 682.4L443.2 680.2L443.7 680.2L444.2 679.0L444.7 676.4L445.2 674.6L445.7 674.0L446.2 671.5L446.7 672.0L447.2 673.0L447.7 672.9L448.2 673.9L448.7 673.5L449.2 674.8L449.7 675.7L450.2 674.8L450.7 673.6L451.2 672.8L451.7 671.9L452.2 671.8L452.7 670.5L453.2 671.6L453.7 665.6L454.2 670.2L454.7 672.2L455.2 670.8L455.7 673.0L456.2 673.1L456.7 673.6L457.2 674.4L457.7 675.4L458.2 674.0L458.7 674.3L459.2 674.7L459.7 675.4L460.2 674.0L460.7 674.5L461.2 675.0L461.7 675.4L462.2 676.2L462.7 675.2L463.2 672.4L463.7 668.5L464.2 670.6L464.7 670.7L465.2 670.3L465.7 671.8L466.2 672.5L466.7 672.7L467.2 673.7L467.7 674.6L468.2 675.0L468.7 676.0L469.2 678.2L469.7 679.5L470.2 680.9L470.7 678.7L471.2 681.7L471.7 679.8L472.2 681.4L472.7 682.1L473.2 682.3L473.7 681.0L474.2 682.3L474.7 684.1L475.2 685.3L475.7 685.0L476.2 685.7L476.7 686.3L477.2 687.0L477.7 685.1L478.2 685.5L478.7 684.7L479.2 684.8L479.7 681.6L480.2 682.7L480.7 682.2L481.2 680.2L481.7 677.4L482.2 676.2L482.7 675.7L483.2 672.6L483.7 672.6L484.2 673.3L484.7 672.1L485.2 671.8L485.7 672.0L486.2 671.2L486.7 672.1L487.2 672.5L487.7 672.2L488.2 671.5L488.7 673.1L489.2 671.6L489.7 670.2L490.2 668.4L490.7 668.9L491.2 664.9L491.7 663.3L492.2 665.1L492.7 667.4L493.2 666.2L493.7 667.1L494.2 669.1L494.7 672.1L495.2 672.5L495.7 671.4L496.2 672.8L496.7 673.6L497.2 672.4L497.7 672.0L498.2 672.5L498.7 672.2L499.2 671.8L499.7 672.6L500.2 672.0L500.7 673.8L501.2 674.7L501.7 672.4L502.2 673.9L502.7 673.8L503.2 675.9L503.7 676.6L504.2 675.6L504.7 677.1L505.2 677.5L505.7 678.5L506.2 680.3L506.7 680.8L507.2 680.9L507.7 684.4L508.2 685.4L508.7 685.2L509.2 687.5L509.7 690.0L510.2 688.5L510.7 687.3L511.2 685.7L511.7 684.6L512.2 683.5L512.7 681.3L513.2 680.5L513.7 679.8L514.2 679.1L514.7 678.5L515.2 676.9L515.7 675.8L516.2 673.7L516.7 674.7L517.2 675.6L517.7 675.8L518.2 676.2L518.7 676.6L519.2 676.1L519.7 675.9L520.2 675.5L520.7 676.2L521.2 676.1L521.7 675.6L522.2 676.8L522.7 677.2L523.2 678.2L523.7 678.8L524.2 676.9L524.7 677.5L525.2 678.9L525.7 677.3L526.2 677.8L526.7 677.0L527.2 677.6L527.7 677.6L528.2 677.7L528.7 677.5L529.2 678.4L529.7 678.0L530.2 676.0L530.7 678.7L531.2 677.6L531.7 677.4L532.2 678.0L532.7 675.5L533.2 679.3L533.7 679.4L534.2 680.4L534.7 679.6L535.2 682.3L535.7 681.2L536.2 678.9L536.7 681.1L537.2 681.2L537.7 679.4L538.2 679.6L538.7 678.5L539.2 679.0L539.7 678.6L540.2 677.0L540.7 674.9L541.2 672.5L541.7 672.4L542.2 670.8L542.7 672.7L543.2 672.6L543.7 672.7L544.2 672.7L544.7 672.5L545.2 674.2L545.7 672.1L546.2 674.6L546.7 673.1L547.2 673.4L547.7 674.5L548.2 672.2L548.7 671.8L549.2 669.9L549.7 669.9L550.2 671.7L550.7 670.8L551.2 671.2L551.7 672.1L552.2 672.5L552.7 671.5L553.2 675.4L553.7 676.4L554.2 675.9L554.7 676.9L555.2 676.1L555.7 676.9L556.2 679.5L556.7 679.5L557.2 679.2L557.7 682.2L558.2 681.6L558.7 682.7L559.2 685.2L559.7 686.6L560.2 688.2L560.7 688.5L561.2 685.6L561.7 679.7L562.2 682.3L562.7 680.0L563.2 680.4L563.7 679.3L564.2 679.6L564.7 678.0L565.2 675.1L565.7 674.6L566.2 673.5L566.7 671.5L567.2 671.1L567.7 670.9L568.2 671.2L568.7 673.8L569.2 674.4L569.7 677.3L570.2 679.8L570.7 679.7L571.2 675.8L571.7 675.3L572.2 670.5L572.7 670.0L573.2 668.7L573.7 669.1L574.2 667.1L574.7 668.2L575.2 667.5L575.7 666.4L576.2 665.1L576.7 665.6L577.2 666.1L577.7 667.0L578.2 666.1L578.7 665.2L579.2 664.6L579.7 666.3L580.2 665.8L580.7 665.5L581.2 666.1L581.7 667.1L582.2 668.2L582.7 668.0L583.2 670.3L583.7 669.4L584.2 670.0L584.7 668.8L585.2 669.0L585.7 669.8L586.2 671.8L586.7 672.5L587.2 673.4L587.7 676.2L588.2 678.2L588.7 679.2L589.2 678.1L589.7 680.0L590.2 682.0L590.7 683.5L591.2 684.7L591.7 683.6L592.2 687.0L592.7 687.8L593.2 689.0L593.7 691.2L594.2 692.3L594.7 690.3L595.2 686.9L595.7 687.2L596.2 683.5L596.7 682.4L597.2 681.5L597.7 680.4L598.2 681.9L598.7 682.2L599.2 683.0L599.7 682.1L600.2 681.9L600.7 680.1L601.2 676.9L601.7 674.9L602.2 673.8L602.7 673.7L603.2 672.9L603.7 674.4L604.2 672.9L604.7 672.9L605.2 673.5L605.7 672.8L606.2 674.9L606.7 673.0L607.2 672.4L607.7 673.1L608.2 672.3L608.7 673.9L609.2 675.1L609.7 676.0L610.2 677.2L610.7 677.7L611.2 679.4L611.7 679.9L612.2 680.1L612.7 682.5L613.2 681.7L613.7 683.0L614.2 683.1L614.7 681.2L615.2 680.4L615.7 679.4L616.2 678.5L616.7 680.5L617.2 680.0L617.7 679.5L618.2 681.8L618.7 681.7L619.2 681.4L619.7 680.7L620.2 680.9L620.7 680.0L621.2 677.1L621.7 676.4L622.2 675.4L622.7 676.1L623.2 676.3L623.7 675.7L624.2 674.5L624.7 674.9L625.2 675.4L625.7 675.2L626.2 675.0L626.7 674.6L627.2 675.4L627.7 675.8L628.2 674.6L628.7 675.9L629.2 676.3L629.7 677.5L630.2 676.3L630.7 675.3L631.2 676.1L631.7 675.2L632.2 677.0L632.7 677.3L633.2 679.0L633.7 679.8L634.2 678.6L634.7 679.3L635.2 679.6L635.7 678.2L636.2 679.7L636.7 680.6L637.2 681.1L637.7 680.9L638.2 683.3L638.7 682.9L639.2 678.6L639.7 679.5L640.2 677.9L640.7 676.6L641.2 677.0L641.7 676.3L642.2 675.0L642.7 673.6L643.2 673.8L643.7 673.0L644.2 670.9L644.7 669.8L645.2 668.6L645.7 673.2L646.2 675.4L646.7 675.5L647.2 676.6L647.7 679.4L648.2 681.2L648.7 681.9L649.2 682.7L649.7 681.3L650.2 682.5L650.7 683.0L651.2 684.3L651.7 683.9L652.2 686.4L652.7 684.7L653.2 683.2L653.7 681.9L654.2 680.9L654.7 677.9L655.2 675.9L655.7 678.4L656.2 676.7L656.7 676.6L657.2 676.8L657.7 676.9L658.2 677.3L658.7 675.4L659.2 675.2L659.7 674.6L660.2 675.2L660.7 675.9L661.2 677.1L661.7 676.1L662.2 674.6L662.7 673.9L663.2 673.7L663.7 671.1L664.2 670.9L664.7 672.5L665.2 674.0L665.7 673.3L666.2 674.0L666.7 675.3L667.2 676.8L667.7 678.7L668.2 677.5L668.7 677.7L669.2 679.5L669.7 679.6L670.2 681.1L670.7 682.9L671.2 681.8L671.7 682.3L672.2 679.7L672.7 679.5L673.2 677.5L673.7 679.0L674.2 679.3L674.7 679.0L675.2 679.9L675.7 681.1L676.2 681.8L676.7 682.2L677.2 682.8L677.7 683.4L678.2 683.8L678.7 686.2L679.2 687.4L679.7 687.3L680.2 687.3L680.7 686.2L681.2 688.2L681.7 686.6L682.2 686.1L682.7 684.7L683.2 679.9L683.7 680.8L684.2 678.4L684.7 677.7L685.2 675.9L685.7 672.3L686.2 673.0L686.7 673.3L687.2 670.3L687.7 670.2L688.2 668.5L688.7 668.9L689.2 669.1L689.7 671.0L690.2 672.8L690.7 674.4L691.2 674.4L691.7 675.9L692.2 677.1L692.7 678.9L693.2 678.7L693.7 679.4L694.2 679.0L694.7 680.2L695.2 680.4L695.7 682.1L696.2 684.1L696.7 682.8L697.2 686.1L697.7 686.5L698.2 687.9L698.7 687.3L699.2 684.5L699.7 682.9L700.2 681.6L700.7 678.0L701.2 677.4L701.7 675.2L702.2 675.3L702.7 675.5L703.2 676.8L703.7 676.8L704.2 676.6L704.7 676.0L705.2 674.1L705.7 674.2L706.2 674.3L706.7 674.7L707.2 675.6L707.7 676.0L708.2 675.6L708.7 675.9L709.2 673.9L709.7 672.6L710.2 673.0L710.7 672.9L711.2 674.0L711.7 673.4L712.2 673.1L712.7 673.6L713.2 673.7L713.7 672.2L714.2 672.2L714.7 672.9L715.2 670.2L715.7 670.3L716.2 667.6L716.7 667.9L717.2 667.2L717.7 667.4L718.2 669.4L718.7 668.1L719.2 665.7L719.7 667.9L720.2 665.9L720.7 663.2L721.2 666.7L721.7 662.3L722.2 665.1L722.7 666.1L723.2 667.9L723.7 667.9L724.2 670.5L724.7 673.6L725.2 674.5L725.7 674.7L726.2 675.8L726.7 677.8L727.2 678.2L727.7 680.0L728.2 682.8L728.7 684.0L729.2 682.6L729.7 683.1L730.2 688.1L730.7 689.6L731.2 691.7L731.7 685.3L732.2 685.7L732.7 686.1L733.2 683.0L733.7 679.7L734.2 683.8L734.7 684.7L735.2 684.1L735.7 683.6L736.2 684.6L736.7 682.2L737.2 682.4L737.7 683.0L738.2 681.5L738.7 681.8L739.2 680.9L739.7 681.0L740.2 680.8L740.7 680.3L741.2 679.6L741.7 679.6L742.2 679.9L742.7 679.8L743.2 680.4L743.7 680.5L744.2 680.8L744.7 680.0L745.2 679.1L745.7 677.7L746.2 678.0L746.7 675.0L747.2 674.8L747.7 672.7L748.2 670.1L748.7 665.4L749.2 667.2L749.7 669.2L750.2 672.0L750.7 673.4L751.2 676.8L751.7 678.2L752.2 677.1L752.7 676.7L753.2 676.9L753.7 677.2L754.2 678.9L754.7 680.3L755.2 678.5L755.7 678.9L756.2 678.5L756.7 676.6L757.2 675.3L757.7 677.0L758.2 677.3L758.7 677.7L759.2 677.0L759.7 677.2L760.2 676.9L760.7 680.4L761.2 681.0L761.7 681.6L762.2 681.6L762.7 681.1L763.2 680.1L763.7 679.3L764.2 679.7L764.7 680.7L765.2 681.5L765.7 679.8L766.2 680.5L766.7 680.3L767.2 680.8L767.7 681.0L768.2 681.7L768.7 681.6L769.2 681.5L769.7 681.1L770.2 681.2L770.7 680.9L771.2 680.8L771.7 679.8L772.2 679.3L772.7 679.6L773.2 679.2L773.7 679.5L774.2 677.9L774.7 677.3L775.2 675.7L775.7 676.7L776.2 675.5L776.7 674.0L777.2 673.6L777.7 674.9L778.2 674.4L778.7 674.1L779.2 674.1L779.7 674.0L780.2 672.4L780.7 672.1L781.2 672.7L781.7 675.0L782.2 677.1L782.7 675.0L783.2 678.8L783.7 679.1L784.2 677.3L784.7 677.8L785.2 678.1L785.7 678.6L786.2 679.0L786.7 677.0L787.2 675.8L787.7 676.2L788.2 675.2L788.7 676.8L789.2 677.0L789.7 677.8L790.2 676.5L790.7 678.3L791.2 677.1L791.7 678.3L792.2 677.5L792.7 675.7L793.2 674.4L793.7 672.9L794.2 673.1L794.7 670.8L795.2 671.8L795.7 673.2L796.2 673.9L796.7 673.5L797.2 673.3L797.7 674.6L798.2 674.4L798.7 673.2L799.2 671.2L799.7 669.3L800.2 669.7L800.7 669.2L801.2 667.9L801.7 666.8L802.2 667.8L802.7 667.8L803.2 668.6L803.7 666.9L804.2 666.6L804.7 666.4L805.2 668.7L805.7 670.2L806.2 670.6L806.7 669.3L807.2 671.6L807.7 671.2L808.2 671.4L808.7 671.9L809.2 674.0L809.7 675.8L810.2 676.8L810.7 677.9L811.2 677.0L811.7 679.9L812.2 682.7L812.7 683.5L813.2 683.2L813.7 685.2L814.2 685.0L814.7 685.9L815.2 683.1L815.7 684.4L816.2 683.0L816.7 682.7L817.2 683.3L817.7 681.3L818.2 678.7L818.7 682.3L819.2 684.8L819.7 685.7L820.2 685.2L820.7 684.7L821.2 683.0L821.7 681.2L822.2 681.0L822.7 678.2L823.2 677.9L823.7 677.6L824.2 677.3L824.7 676.3L825.2 675.9L825.7 676.0L826.2 676.7L826.7 676.6L827.2 675.1L827.7 675.3L828.2 676.0L828.7 676.3L829.2 678.6L829.7 679.3L830.2 679.7L830.7 679.8L831.2 680.4L831.7 681.0L832.2 679.3L832.7 678.6L833.2 677.7L833.7 677.1L834.2 678.9L834.7 679.9L835.2 681.5L835.7 682.0L836.2 684.3L836.7 683.3L837.2 681.0L837.7 678.7L838.2 676.5L838.7 672.3L839.2 670.5L839.7 671.8L840.2 671.9L840.7 671.5L841.2 671.1L841.7 670.5L842.2 670.5L842.7 671.5L843.2 674.2L843.7 675.5L844.2 675.3L844.7 676.5L845.2 678.5L845.7 682.5L846.2 684.3L846.7 687.3L847.2 689.1L847.7 690.4L848.2 689.9L848.7 689.4L849.2 688.7L849.7 689.1L850.2 689.7L850.7 690.2L851.2 689.8L851.7 690.1L852.2 690.1L852.7 687.7L853.2 685.8L853.7 684.3L854.2 681.8L854.7 679.8L855.2 678.2L855.7 677.7L856.2 675.8L856.7 676.8L857.2 678.4L857.7 678.5L858.2 678.9L858.7 679.5L859.2 678.2L859.7 679.9L860.2 678.9L860.7 677.7L861.2 677.4L861.7 676.1L862.2 675.0L862.7 676.1L863.2 676.1L863.7 676.0L864.2 676.6L864.7 676.8L865.2 677.1L865.7 676.7L866.2 676.2L866.7 677.1L867.2 676.0L867.7 676.1L868.2 675.7L868.7 675.8L869.2 673.9L869.7 674.0L870.2 673.8L870.7 674.0L871.2 675.6L871.7 674.9L872.2 675.1L872.7 675.6L873.2 676.1L873.7 675.2L874.2 676.2L874.7 676.5L875.2 675.4L875.7 675.8L876.2 675.0L876.7 674.3L877.2 674.5L877.7 675.6L878.2 676.9L878.7 675.6L879.2 675.3L879.7 676.4L880.2 676.8L880.7 675.5L881.2 674.5L881.7 672.9L882.2 670.6L882.7 669.7L883.2 669.5L883.7 671.0L884.2 673.3L884.7 672.8L885.2 672.3L885.7 672.1L886.2 672.4L886.7 672.9L887.2 671.3L887.7 670.1L888.2 669.3L888.7 666.9L889.2 665.2L889.7 667.1L890.2 668.0L890.7 664.1L891.2 665.7L891.7 668.3L892.2 668.3L892.7 672.0L893.2 673.5L893.7 676.4L894.2 676.0L894.7 674.4L895.2 678.0L895.7 683.5L896.2 687.9L896.7 690.8L897.2 695.0L897.7 693.5L898.2 689.8L898.7 686.9L899.2 686.2L899.7 683.6L900.2 682.7L900.7 682.5L901.2 681.3L901.7 681.0L902.2 680.6L902.7 679.6L903.2 680.0L903.7 683.0L904.2 683.8L904.7 684.7L905.2 685.1L905.7 684.3L906.2 681.3L906.7 680.1L907.2 681.3L907.7 679.5L908.2 675.9L908.7 677.1L909.2 678.1L909.7 679.0L910.2 680.9L910.7 679.6L911.2 679.5L911.7 677.4L912.2 675.4L912.7 674.9L913.2 674.9L913.7 673.3L914.2 673.4L914.7 672.0L915.2 670.2L915.7 665.0L916.2 663.9L916.7 662.4L917.2 660.0L917.7 658.3L918.2 657.5L918.7 658.6L919.2 660.1L919.7 661.5L920.2 662.2L920.7 664.5L921.2 665.4L921.7 666.8L922.2 667.1L922.7 667.3L923.2 669.9L923.7 669.9L924.2 669.3L924.7 668.6L925.2 669.0L925.7 669.6L926.2 671.0L926.7 673.8L927.2 675.0L927.7 672.6L928.2 674.6L928.7 674.1L929.2 675.2L929.7 674.8L930.2 674.4L930.7 675.9L931.2 676.7L931.7 678.4L932.2 678.6L932.7 680.4L933.2 679.2L933.7 678.8L934.2 679.1L934.7 679.6L935.2 677.9L935.7 676.4L936.2 675.9L936.7 677.4L937.2 679.1L937.7 680.2L938.2 679.7L938.7 680.1L939.2 678.8L939.7 677.0L940.2 675.1L940.7 674.1L941.2 673.0L941.7 670.8L942.2 671.5L942.7 669.3L943.2 671.1L943.7 673.2L944.2 673.8L944.7 673.4L945.2 675.2L945.7 674.4L946.2 672.9L946.7 674.6L947.2 673.3L947.7 671.7L948.2 671.8L948.7 671.6L949.2 671.3L949.7 671.4L950.2 673.4L950.7 674.2L951.2 675.6L951.7 677.0L952.2 678.9L952.7 679.6L953.2 681.2L953.7 683.5L954.2 683.7L954.7 682.7L955.2 680.9L955.7 680.2L956.2 680.0L956.7 678.0L957.2 675.8L957.7 673.4L958.2 674.9L958.7 675.3L959.2 674.3L959.7 675.4L960.2 677.3L960.7 678.1L961.2 677.1L961.7 677.6L962.2 677.9L962.7 679.9L963.2 681.7L963.7 681.1L964.2 680.1L964.7 679.0L965.2 676.6L965.7 676.6L966.2 674.4L966.7 675.5L967.2 674.8L967.7 672.8L968.2 672.9L968.7 672.1L969.2 672.9L969.2 678.2L968.7 677.3L968.2 678.5L967.7 679.8L967.2 681.3L966.7 681.8L966.2 681.6L965.7 683.6L965.2 683.7L964.7 684.6L964.2 685.0L963.7 687.2L963.2 686.5L962.7 685.3L962.2 686.0L961.7 683.9L961.2 682.7L960.7 683.8L960.2 683.2L959.7 680.9L959.2 680.5L958.7 680.7L958.2 680.2L957.7 682.5L957.2 682.1L956.7 684.3L956.2 686.6L955.7 686.4L955.2 687.2L954.7 689.7L954.2 688.9L953.7 689.7L953.2 687.5L952.7 686.4L952.2 685.7L951.7 683.5L951.2 682.1L950.7 680.1L950.2 679.3L949.7 677.4L949.2 676.6L948.7 676.8L948.2 676.7L947.7 677.4L947.2 679.4L946.7 679.1L946.2 679.0L945.7 679.9L945.2 679.8L944.7 679.3L944.2 679.4L943.7 678.3L943.2 676.0L942.7 675.4L942.2 677.6L941.7 676.6L941.2 679.9L940.7 681.3L940.2 682.4L939.7 684.5L939.2 684.5L938.7 686.5L938.2 686.9L937.7 685.8L937.2 684.7L936.7 683.6L936.2 682.1L935.7 683.2L935.2 684.0L934.7 686.2L934.2 684.7L933.7 685.0L933.2 686.0L932.7 685.9L932.2 684.6L931.7 685.4L931.2 682.9L930.7 683.0L930.2 683.8L929.7 680.9L929.2 680.9L928.7 679.5L928.2 679.7L927.7 680.6L927.2 681.2L926.7 680.3L926.2 678.5L925.7 675.8L925.2 675.2L924.7 673.8L924.2 674.4L923.7 674.8L923.2 675.4L922.7 674.2L922.2 672.9L921.7 672.6L921.2 671.6L920.7 672.0L920.2 669.0L919.7 669.6L919.2 666.0L918.7 664.2L918.2 664.4L917.7 665.3L917.2 667.4L916.7 668.9L916.2 671.5L915.7 675.0L915.2 677.3L914.7 679.0L914.2 681.1L913.7 680.9L913.2 681.0L912.7 680.9L912.2 681.6L911.7 683.3L911.2 684.9L910.7 685.8L910.2 686.3L909.7 687.4L909.2 684.4L908.7 683.9L908.2 683.2L907.7 686.0L907.2 687.6L906.7 687.5L906.2 688.5L905.7 691.4L905.2 691.4L904.7 691.6L904.2 690.4L903.7 688.6L903.2 686.8L902.7 685.6L902.2 685.6L901.7 686.7L901.2 687.5L900.7 688.6L900.2 689.9L899.7 690.6L899.2 693.2L898.7 694.9L898.2 696.8L897.7 700.0L897.2 702.3L896.7 698.5L896.2 695.7L895.7 690.7L895.2 685.7L894.7 683.1L894.2 683.1L893.7 684.0L893.2 680.9L892.7 679.7L892.2 676.6L891.7 674.8L891.2 672.8L890.7 673.0L890.2 673.7L889.7 673.4L889.2 673.1L888.7 673.0L888.2 674.4L887.7 676.9L887.2 676.6L886.7 678.8L886.2 678.3L885.7 678.3L885.2 677.6L884.7 678.3L884.2 679.3L883.7 676.9L883.2 676.1L882.7 675.9L882.2 677.8L881.7 680.2L881.2 682.3L880.7 682.5L880.2 682.6L879.7 682.5L879.2 680.8L878.7 681.4L878.2 681.3L877.7 680.4L877.2 679.4L876.7 679.2L876.2 680.2L875.7 681.2L875.2 681.4L874.7 681.2L874.2 680.6L873.7 680.4L873.2 681.6L872.7 680.9L872.2 679.8L871.7 680.1L871.2 680.4L870.7 678.4L870.2 679.5L869.7 679.2L869.2 679.9L868.7 682.0L868.2 681.8L867.7 681.0L867.2 682.1L866.7 682.6L866.2 681.2L865.7 681.2L865.2 682.2L864.7 681.2L864.2 681.3L863.7 681.2L863.2 680.8L862.7 680.7L862.2 679.8L861.7 681.7L861.2 682.5L860.7 684.0L860.2 684.4L859.7 685.1L859.2 684.7L858.7 684.6L858.2 684.2L857.7 683.7L857.2 683.5L856.7 681.8L856.2 683.6L855.7 684.7L855.2 685.1L854.7 687.5L854.2 689.7L853.7 690.8L853.2 692.7L852.7 694.7L852.2 696.3L851.7 696.0L851.2 695.0L850.7 695.7L850.2 695.0L849.7 694.5L849.2 694.4L848.7 694.5L848.2 695.2L847.7 695.8L847.2 696.5L846.7 693.8L846.2 692.0L845.7 689.7L845.2 685.2L844.7 683.5L844.2 682.8L843.7 682.1L843.2 680.9L842.7 678.2L842.2 678.0L841.7 677.3L841.2 676.1L840.7 677.3L840.2 678.6L839.7 677.5L839.2 677.5L838.7 679.6L838.2 682.9L837.7 685.4L837.2 688.5L836.7 689.4L836.2 691.7L835.7 688.1L835.2 687.2L834.7 687.5L834.2 685.4L833.7 684.4L833.2 682.9L832.7 684.6L832.2 686.1L831.7 687.1L831.2 685.4L830.7 685.5L830.2 685.3L829.7 685.5L829.2 684.3L828.7 682.5L828.2 681.6L827.7 680.5L827.2 682.5L826.7 682.3L826.2 680.9L825.7 681.1L825.2 681.7L824.7 681.3L824.2 682.4L823.7 683.9L823.2 685.8L822.7 684.2L822.2 687.1L821.7 687.7L821.2 689.1L820.7 690.2L820.2 691.7L819.7 690.5L819.2 690.1L818.7 687.9L818.2 688.0L817.7 688.0L817.2 688.4L816.7 689.1L816.2 689.2L815.7 690.1L815.2 691.8L814.7 692.5L814.2 691.2L813.7 691.4L813.2 690.4L812.7 689.3L812.2 688.7L811.7 687.7L811.2 685.9L810.7 685.3L810.2 684.3L809.7 681.9L809.2 681.4L808.7 678.8L808.2 678.1L807.7 678.6L807.2 677.5L806.7 675.9L806.2 677.1L805.7 676.6L805.2 674.5L804.7 672.3L804.2 671.8L803.7 672.5L803.2 673.3L802.7 672.5L802.2 672.8L801.7 672.1L801.2 673.9L800.7 674.6L800.2 676.1L799.7 676.2L799.2 676.6L798.7 678.8L798.2 680.3L797.7 680.2L797.2 678.9L796.7 678.1L796.2 678.2L795.7 678.2L795.2 678.3L794.7 676.9L794.2 678.6L793.7 680.3L793.2 680.6L792.7 681.6L792.2 683.6L791.7 683.3L791.2 682.6L790.7 684.1L790.2 682.0L789.7 683.3L789.2 681.9L788.7 681.8L788.2 681.2L787.7 682.5L787.2 683.2L786.7 682.4L786.2 684.1L785.7 684.8L785.2 684.2L784.7 683.8L784.2 684.1L783.7 686.0L783.2 685.6L782.7 682.9L782.2 683.6L781.7 682.2L781.2 680.5L780.7 677.3L780.2 678.3L779.7 678.7L779.2 679.0L778.7 680.2L778.2 680.6L777.7 680.2L777.2 678.2L776.7 679.5L776.2 680.9L775.7 681.8L775.2 681.2L774.7 682.6L774.2 683.7L773.7 685.0L773.2 685.2L772.7 685.7L772.2 684.6L771.7 685.6L771.2 687.3L770.7 686.3L770.2 686.6L769.7 686.3L769.2 686.7L768.7 686.8L768.2 687.9L767.7 687.5L767.2 685.9L766.7 685.6L766.2 686.6L765.7 685.5L765.2 686.2L764.7 685.1L764.2 684.5L763.7 684.5L763.2 684.9L762.7 686.7L762.2 686.7L761.7 686.9L761.2 687.1L760.7 686.1L760.2 683.6L759.7 683.0L759.2 682.7L758.7 683.2L758.2 682.2L757.7 682.5L757.2 681.8L756.7 681.9L756.2 686.0L755.7 684.3L755.2 684.9L754.7 685.5L754.2 684.8L753.7 683.7L753.2 683.2L752.7 682.6L752.2 683.3L751.7 684.7L751.2 682.9L750.7 682.5L750.2 678.7L749.7 676.1L749.2 673.9L748.7 674.8L748.2 678.3L747.7 679.8L747.2 681.8L746.7 682.3L746.2 684.5L745.7 685.1L745.2 685.1L744.7 687.0L744.2 686.6L743.7 686.0L743.2 687.9L742.7 684.4L742.2 684.8L741.7 684.1L741.2 685.2L740.7 685.5L740.2 686.3L739.7 686.2L739.2 686.2L738.7 687.7L738.2 686.6L737.7 687.8L737.2 688.3L736.7 688.8L736.2 689.9L735.7 689.1L735.2 689.7L734.7 691.3L734.2 691.1L733.7 689.5L733.2 689.6L732.7 691.9L732.2 693.7L731.7 694.3L731.2 699.9L730.7 696.1L730.2 694.4L729.7 692.6L729.2 690.5L728.7 691.7L728.2 689.5L727.7 687.2L727.2 685.3L726.7 686.3L726.2 681.9L725.7 682.1L725.2 681.4L724.7 680.4L724.2 677.2L723.7 674.7L723.2 674.1L722.7 672.9L722.2 674.8L721.7 670.9L721.2 672.0L720.7 670.0L720.2 671.3L719.7 673.0L719.2 673.3L718.7 673.5L718.2 674.4L717.7 672.7L717.2 672.5L716.7 674.2L716.2 673.4L715.7 675.4L715.2 675.1L714.7 678.9L714.2 676.8L713.7 680.3L713.2 677.8L712.7 678.7L712.2 677.6L711.7 678.7L711.2 678.7L710.7 679.2L710.2 679.0L709.7 679.0L709.2 679.5L708.7 681.4L708.2 681.1L707.7 680.6L707.2 680.8L706.7 680.3L706.2 679.9L705.7 679.6L705.2 680.5L704.7 681.6L704.2 681.8L703.7 681.6L703.2 682.4L702.7 681.7L702.2 680.6L701.7 681.9L701.2 685.0L700.7 686.1L700.2 688.9L699.7 690.4L699.2 691.8L698.7 694.3L698.2 693.8L697.7 692.4L697.2 691.6L696.7 691.6L696.2 689.7L695.7 688.0L695.2 687.4L694.7 686.5L694.2 685.0L693.7 685.4L693.2 684.3L692.7 684.3L692.2 682.9L691.7 682.8L691.2 681.7L690.7 680.2L690.2 678.9L689.7 679.1L689.2 675.9L688.7 675.7L688.2 675.1L687.7 676.7L687.2 677.4L686.7 681.9L686.2 680.6L685.7 681.8L685.2 682.8L684.7 684.4L684.2 686.0L683.7 687.8L683.2 689.9L682.7 690.7L682.2 693.0L681.7 692.4L681.2 693.7L680.7 693.0L680.2 692.8L679.7 692.2L679.2 692.3L678.7 692.7L678.2 689.8L677.7 690.3L677.2 688.8L676.7 688.4L676.2 688.2L675.7 686.8L675.2 686.2L674.7 684.1L674.2 684.7L673.7 684.6L673.2 687.0L672.7 684.3L672.2 685.8L671.7 687.2L671.2 688.5L670.7 687.9L670.2 686.7L669.7 684.8L669.2 685.3L668.7 684.2L668.2 682.3L667.7 684.6L667.2 683.1L666.7 682.5L666.2 680.8L665.7 679.7L665.2 680.0L664.7 678.6L664.2 677.8L663.7 677.2L663.2 680.1L662.7 680.7L662.2 680.7L661.7 682.0L661.2 683.0L660.7 682.8L660.2 681.1L659.7 680.9L659.2 680.6L658.7 680.2L658.2 682.3L657.7 681.2L657.2 681.4L656.7 681.7L656.2 683.2L655.7 684.3L655.2 684.0L654.7 685.2L654.2 687.4L653.7 692.3L653.2 690.2L652.7 692.0L652.2 693.2L651.7 691.9L651.2 690.6L650.7 689.3L650.2 690.4L649.7 688.2L649.2 689.4L648.7 688.9L648.2 688.6L647.7 686.0L647.2 683.8L646.7 682.5L646.2 683.2L645.7 680.4L645.2 678.0L644.7 676.0L644.2 676.9L643.7 680.2L643.2 679.9L642.7 679.5L642.2 681.9L641.7 683.8L641.2 683.9L640.7 686.9L640.2 684.1L639.7 685.6L639.2 686.6L638.7 688.9L638.2 688.9L637.7 689.4L637.2 687.0L636.7 685.3L636.2 685.3L635.7 685.8L635.2 685.2L634.7 685.5L634.2 688.0L633.7 689.0L633.2 684.5L632.7 682.8L632.2 682.1L631.7 681.3L631.2 682.8L630.7 683.1L630.2 681.3L629.7 682.9L629.2 681.3L628.7 683.9L628.2 680.1L627.7 681.7L627.2 679.8L626.7 680.2L626.2 680.8L625.7 680.5L625.2 681.0L624.7 680.2L624.2 681.5L623.7 682.0L623.2 685.9L622.7 683.1L622.2 682.6L621.7 683.5L621.2 683.5L620.7 685.3L620.2 686.4L619.7 685.9L619.2 686.7L618.7 687.3L618.2 688.2L617.7 685.0L617.2 688.7L616.7 688.2L616.2 685.9L615.7 685.6L615.2 686.4L614.7 688.1L614.2 689.1L613.7 688.5L613.2 689.5L612.7 689.3L612.2 686.8L611.7 685.7L611.2 686.5L610.7 684.3L610.2 682.7L609.7 682.6L609.2 681.9L608.7 679.7L608.2 678.8L607.7 678.9L607.2 678.8L606.7 680.9L606.2 681.0L605.7 678.0L605.2 678.2L604.7 677.9L604.2 678.0L603.7 683.2L603.2 681.3L602.7 681.8L602.2 680.5L601.7 681.5L601.2 683.5L600.7 687.4L600.2 687.4L599.7 688.5L599.2 687.8L598.7 686.6L598.2 688.4L597.7 686.4L597.2 687.2L596.7 688.6L596.2 690.8L595.7 694.5L595.2 694.9L594.7 696.8L594.2 698.0L593.7 697.2L593.2 695.4L592.7 693.7L592.2 694.1L591.7 691.0L591.2 690.4L590.7 690.7L590.2 688.7L589.7 687.0L589.2 686.8L588.7 686.7L588.2 685.0L587.7 683.8L587.2 680.3L586.7 680.1L586.2 679.5L585.7 677.6L585.2 676.4L584.7 674.2L584.2 674.5L583.7 674.6L583.2 676.0L582.7 674.9L582.2 674.2L581.7 674.4L581.2 672.7L580.7 672.0L580.2 671.5L579.7 671.0L579.2 670.8L578.7 670.7L578.2 670.2L577.7 671.7L577.2 671.0L576.7 670.9L576.2 670.5L575.7 671.9L575.2 674.1L574.7 674.4L574.2 673.0L573.7 678.1L573.2 676.2L572.7 677.5L572.2 678.9L571.7 682.4L571.2 682.8L570.7 686.5L570.2 687.4L569.7 685.3L569.2 682.2L568.7 681.0L568.2 679.7L567.7 677.3L567.2 677.3L566.7 678.9L566.2 680.1L565.7 680.9L565.2 681.9L564.7 684.0L564.2 685.1L563.7 685.4L563.2 686.7L562.7 687.3L562.2 689.6L561.7 689.3L561.2 692.6L560.7 695.3L560.2 694.7L559.7 693.1L559.2 691.7L558.7 689.3L558.2 688.8L557.7 688.4L557.2 686.4L556.7 686.3L556.2 686.6L555.7 684.3L555.2 683.6L554.7 682.5L554.2 683.0L553.7 683.5L553.2 685.4L552.7 681.4L552.2 678.1L551.7 679.0L551.2 676.5L550.7 676.7L550.2 676.8L549.7 675.8L549.2 675.2L548.7 677.3L548.2 677.8L547.7 679.8L547.2 679.6L546.7 680.3L546.2 679.9L545.7 677.5L545.2 681.4L544.7 682.0L544.2 678.6L543.7 678.1L543.2 678.4L542.7 678.0L542.2 677.0L541.7 678.0L541.2 679.1L540.7 682.3L540.2 682.9L539.7 686.3L539.2 685.2L538.7 685.1L538.2 685.6L537.7 685.4L537.2 685.7L536.7 685.6L536.2 686.4L535.7 686.1L535.2 688.0L534.7 685.3L534.2 685.8L533.7 684.7L533.2 685.5L532.7 683.9L532.2 682.8L531.7 683.3L531.2 682.7L530.7 684.1L530.2 681.7L529.7 682.4L529.2 682.9L528.7 683.4L528.2 682.4L527.7 682.3L527.2 681.9L526.7 682.6L526.2 682.4L525.7 682.3L525.2 683.7L524.7 683.3L524.2 682.8L523.7 683.4L523.2 683.6L522.7 682.7L522.2 681.1L521.7 680.7L521.2 680.6L520.7 680.8L520.2 681.5L519.7 682.3L519.2 682.0L518.7 681.4L518.2 681.6L517.7 680.7L517.2 680.3L516.7 681.0L516.2 679.4L515.7 682.0L515.2 683.8L514.7 684.8L514.2 685.2L513.7 685.8L513.2 687.9L512.7 688.4L512.2 691.8L511.7 690.7L511.2 692.2L510.7 693.2L510.2 694.1L509.7 695.9L509.2 696.9L508.7 692.8L508.2 691.3L507.7 690.6L507.2 686.9L506.7 687.0L506.2 687.1L505.7 685.7L505.2 685.0L504.7 684.0L504.2 682.8L503.7 682.6L503.2 681.8L502.7 679.9L502.2 679.8L501.7 679.9L501.2 681.1L500.7 679.8L500.2 678.7L499.7 677.4L499.2 677.5L498.7 678.1L498.2 679.0L497.7 677.9L497.2 678.7L496.7 679.2L496.2 678.0L495.7 676.1L495.2 679.4L494.7 678.1L494.2 675.5L493.7 674.5L493.2 673.8L492.7 673.1L492.2 672.2L491.7 669.6L491.2 671.5L490.7 674.8L490.2 675.2L489.7 676.1L489.2 678.5L488.7 678.9L488.2 676.7L487.7 677.7L487.2 678.0L486.7 680.7L486.2 676.8L485.7 678.3L485.2 677.8L484.7 679.2L484.2 680.6L483.7 679.9L483.2 680.6L482.7 682.9L482.2 683.7L481.7 684.3L481.2 689.0L480.7 689.5L480.2 689.2L479.7 688.3L479.2 691.6L478.7 690.4L478.2 691.8L477.7 690.9L477.2 691.7L476.7 691.0L476.2 690.5L475.7 690.3L475.2 690.8L474.7 689.4L474.2 687.2L473.7 686.9L473.2 687.4L472.7 688.4L472.2 687.4L471.7 687.4L471.2 687.0L470.7 685.8L470.2 687.2L469.7 685.3L469.2 683.5L468.7 683.7L468.2 681.3L467.7 680.9L467.2 680.8L466.7 678.8L466.2 678.1L465.7 677.8L465.2 676.2L464.7 677.6L464.2 679.8L463.7 677.5L463.2 678.4L462.7 680.8L462.2 682.5L461.7 680.6L461.2 680.5L460.7 679.1L460.2 679.6L459.7 680.5L459.2 680.6L458.7 681.2L458.2 679.7L457.7 680.9L457.2 681.3L456.7 680.3L456.2 678.5L455.7 682.3L455.2 676.6L454.7 677.8L454.2 677.5L453.7 676.6L453.2 677.1L452.7 676.2L452.2 678.4L451.7 678.1L451.2 678.6L450.7 680.1L450.2 680.7L449.7 681.3L449.2 679.8L448.7 680.0L448.2 679.8L447.7 679.3L447.2 678.6L446.7 678.8L446.2 679.2L445.7 680.8L445.2 682.7L444.7 684.0L444.2 685.9L443.7 688.4L443.2 686.4L442.7 688.1L442.2 685.9L441.7 686.6L441.2 685.1L440.7 683.1L440.2 684.2L439.7 681.1L439.2 681.5L438.7 681.5L438.2 680.4L437.7 679.2L437.2 680.0L436.7 683.1L436.2 682.6L435.7 684.2L435.2 684.5L434.7 684.9L434.2 684.8L433.7 684.2L433.2 683.6L432.7 682.7L432.2 680.9L431.7 679.3L431.2 680.5L430.7 683.0L430.2 683.5L429.7 682.8L429.2 684.4L428.7 684.6L428.2 684.5L427.7 682.4L427.2 683.4L426.7 684.0L426.2 685.2L425.7 685.0L425.2 686.2L424.7 687.9L424.2 685.4L423.7 686.8L423.2 688.1L422.7 686.9L422.2 687.1L421.7 686.3L421.2 686.3L420.7 685.2L420.2 686.3L419.7 688.7L419.2 688.4L418.7 688.2L418.2 687.3L417.7 687.4L417.2 686.1L416.7 688.3L416.2 685.4L415.7 682.9L415.2 680.5L414.7 680.0L414.2 679.8L413.7 679.2L413.2 681.7L412.7 683.2L412.2 680.7L411.7 680.7L411.2 680.4L410.7 680.2L410.2 678.5L409.7 676.3L409.2 675.1L408.7 675.0L408.2 675.7L407.7 676.6L407.2 677.9L406.7 678.4L406.2 682.1L405.7 680.0L405.2 680.7L404.7 681.8L404.2 682.9L403.7 683.6L403.2 682.8L402.7 681.5L402.2 682.6L401.7 680.6L401.2 681.0L400.7 679.9L400.2 682.6L399.7 682.9L399.2 684.1L398.7 684.6L398.2 682.1L397.7 685.3L397.2 687.1L396.7 687.8L396.2 687.5L395.7 688.2L395.2 688.6L394.7 688.8L394.2 687.1L393.7 687.9L393.2 689.9L392.7 691.1L392.2 694.3L391.7 695.3L391.2 698.0L390.7 704.8L390.2 708.0L389.7 702.4L389.2 698.6L388.7 694.9L388.2 691.5L387.7 689.2L387.2 685.7L386.7 681.8L386.2 679.3L385.7 682.2L385.2 683.3L384.7 685.2L384.2 685.6L383.7 682.7L383.2 682.6L382.7 681.9L382.2 681.5L381.7 678.9L381.2 677.6L380.7 676.7L380.2 674.9L379.7 674.6L379.2 676.5L378.7 675.8L378.2 676.6L377.7 678.0L377.2 678.2L376.7 677.9L376.2 675.4L375.7 675.6L375.2 675.4L374.7 675.5L374.2 676.1L373.7 673.6L373.2 673.5L372.7 674.7L372.2 677.3L371.7 676.7L371.2 676.4L370.7 679.2L370.2 680.2L369.7 682.3L369.2 681.1L368.7 683.2L368.2 684.4L367.7 685.2L367.2 684.2L366.7 686.7L366.2 684.4L365.7 683.9L365.2 684.4L364.7 687.3L364.2 683.6L363.7 686.4L363.2 686.9L362.7 686.3L362.2 686.7L361.7 688.6L361.2 689.9L360.7 688.0L360.2 690.5L359.7 692.2L359.2 694.5L358.7 696.3L358.2 696.8L357.7 696.3L357.2 694.2L356.7 692.6L356.2 691.4L355.7 690.7L355.2 688.7L354.7 686.6L354.2 687.7L353.7 687.3L353.2 688.5L352.7 688.2L352.2 689.1L351.7 689.9L351.2 689.4L350.7 687.1L350.2 685.3L349.7 685.6L349.2 682.8L348.7 680.6L348.2 677.8L347.7 676.2L347.2 670.3L346.7 670.9L346.2 672.9L345.7 675.1L345.2 683.0L344.7 683.5L344.2 685.0L343.7 685.9L343.2 691.1L342.7 689.7L342.2 691.5L341.7 692.0L341.2 693.1L340.7 692.4L340.2 693.3L339.7 693.5L339.2 692.6L338.7 693.2L338.2 692.8L337.7 689.8L337.2 686.7L336.7 683.6L336.2 681.6L335.7 680.3L335.2 677.7L334.7 675.9L334.2 675.0L333.7 672.4L333.2 673.6L332.7 675.9L332.2 675.7L331.7 676.9L331.2 677.8L330.7 680.2L330.2 681.2L329.7 681.9L329.2 682.0L328.7 682.0L328.2 682.4L327.7 684.1L327.2 685.1L326.7 684.1L326.2 683.7L325.7 684.0L325.2 681.4L324.7 682.9L324.2 680.1L323.7 678.9L323.2 677.1L322.7 675.7L322.2 675.1L321.7 678.0L321.2 676.8L320.7 675.8L320.2 676.4L319.7 675.8L319.2 675.9L318.7 676.7L318.2 675.3L317.7 673.7L317.2 677.4L316.7 678.0L316.2 678.6L315.7 679.1L315.2 680.8L314.7 681.7L314.2 681.7L313.7 681.4L313.2 683.6L312.7 686.1L312.2 688.9L311.7 690.4L311.2 692.6L310.7 692.6L310.2 692.1L309.7 692.4L309.2 695.4L308.7 691.3L308.2 690.1L307.7 689.5L307.2 690.0L306.7 688.6L306.2 690.4L305.7 691.6L305.2 692.8L304.7 694.6L304.2 694.0L303.7 691.6L303.2 690.3L302.7 688.3L302.2 687.5L301.7 686.3L301.2 685.7L300.7 682.7L300.2 683.1L299.7 682.6L299.2 680.3L298.7 681.8L298.2 680.2L297.7 681.5L297.2 681.6L296.7 681.3L296.2 680.7L295.7 681.1L295.2 681.1L294.7 678.3L294.2 678.2L293.7 679.9L293.2 680.2L292.7 680.2L292.2 680.4L291.7 680.5L291.2 682.7L290.7 681.0L290.2 681.1L289.7 680.1L289.2 678.5L288.7 680.7L288.2 677.8L287.7 680.5L287.2 680.2L286.7 680.5L286.2 681.4L285.7 683.1L285.2 686.2L284.7 686.6L284.2 687.7L283.7 687.9L283.2 688.7L282.7 691.0L282.2 689.2L281.7 688.5L281.2 689.1L280.7 687.5L280.2 687.5L279.7 687.3L279.2 687.0L278.7 686.7L278.2 689.6L277.7 686.5L277.2 688.4L276.7 688.1L276.2 689.2L275.7 690.2L275.2 689.5L274.7 690.3L274.2 689.1L273.7 688.1L273.2 687.5L272.7 685.2L272.2 684.9L271.7 682.8L271.2 680.8L270.7 679.3L270.2 679.6L269.7 680.2L269.2 680.3L268.7 681.4L268.2 682.7L267.7 680.4L267.2 680.8L266.7 680.0L266.2 681.4L265.7 681.7L265.2 681.9L264.7 682.6L264.2 681.3L263.7 680.6L263.2 680.5L262.7 680.2L262.2 678.8L261.7 680.2L261.2 679.9L260.7 680.9L260.2 683.2L259.7 683.1L259.2 683.6L258.7 683.0L258.2 682.8L257.7 682.8L257.2 683.3L256.7 684.5L256.2 684.3L255.7 685.0L255.2 685.6L254.7 687.7L254.2 687.1L253.7 687.5L253.2 688.5L252.7 689.9L252.2 688.3L251.7 690.3L251.2 687.2L250.7 690.0L250.2 687.5L249.7 685.7L249.2 685.8L248.7 687.2L248.2 687.4L247.7 686.1L247.2 685.3L246.7 684.3L246.2 681.2L245.7 683.7L245.2 684.1L244.7 683.2L244.2 681.6L243.7 681.0L243.2 679.1L242.7 678.9L242.2 679.5L241.7 679.0L241.2 679.6L240.7 681.0L240.2 678.8L239.7 678.4L239.2 677.1L238.7 677.8L238.2 677.1L237.7 677.3L237.2 679.6L236.7 681.6L236.2 677.2L235.7 676.8L235.2 678.7L234.7 679.0L234.2 681.0L233.7 680.5L233.2 682.0L232.7 682.0L232.2 682.7L231.7 684.4L231.2 685.8L230.7 686.0L230.2 684.9L229.7 683.6L229.2 682.6L228.7 681.9L228.2 682.5L227.7 679.5L227.2 684.7L226.7 682.3L226.2 682.5L225.7 683.2L225.2 684.0L224.7 686.1L224.2 686.7L223.7 687.8L223.2 688.0L222.7 687.1L222.2 692.3L221.7 689.8L221.2 689.4L220.7 688.7L220.2 686.9L219.7 687.4L219.2 686.4L218.7 684.8L218.2 683.5L217.7 683.6L217.2 682.4L216.7 682.4L216.2 682.1L215.7 681.3L215.2 682.3L214.7 681.9L214.2 683.1L213.7 684.3L213.2 683.8L212.7 683.7L212.2 682.0L211.7 682.8L211.2 681.0L210.7 680.0L210.2 680.2L209.7 679.0L209.2 678.9L208.7 678.9L208.2 679.3L207.7 681.6L207.2 678.4L206.7 677.7L206.2 678.4L205.7 678.4L205.2 678.1L204.7 678.4L204.2 677.8L203.7 679.5L203.2 678.7L202.7 678.7L202.2 679.4L201.7 679.6L201.2 681.1L200.7 678.9L200.2 680.7L199.7 679.8L199.2 680.0L198.7 680.3L198.2 681.7L197.7 682.7L197.2 684.0L196.7 686.0L196.2 684.9L195.7 686.3L195.2 688.0L194.7 686.7L194.2 686.0L193.7 686.1L193.2 686.7L192.7 686.2L192.2 684.6L191.7 683.6L191.2 682.2L190.7 683.2L190.2 682.0L189.7 683.1L189.2 682.9L188.7 682.8L188.2 683.9L187.7 682.8L187.2 683.7L186.7 683.1L186.2 680.9L185.7 684.3L185.2 680.3L184.7 681.7L184.2 681.8L183.7 680.3L183.2 679.6L182.7 681.6L182.2 680.2L181.7 680.1L181.2 679.4L180.7 678.6L180.2 680.6L179.7 680.8L179.2 682.5L178.7 683.8L178.2 682.2L177.7 682.3L177.2 679.4L176.7 680.3L176.2 680.2L175.7 679.5L175.2 680.2L174.7 683.1L174.2 684.4L173.7 686.5L173.2 685.6L172.7 685.6L172.2 685.3L171.7 686.4L171.2 687.5L170.7 688.3L170.2 690.4L169.7 692.0L169.2 691.9L168.7 691.6L168.2 692.3L167.7 692.8L167.2 689.4L166.7 687.3L166.2 686.6L165.7 683.5L165.2 681.9L164.7 682.8L164.2 681.9L163.7 682.8L163.2 682.4L162.7 681.1L162.2 679.7L161.7 679.2L161.2 679.0L160.7 678.0L160.2 676.2L159.7 676.7L159.2 676.1L158.7 676.5L158.2 679.3L157.7 682.6L157.2 684.4L156.7 684.3L156.2 684.9L155.7 685.4L155.2 684.8L154.7 682.9L154.2 681.8L153.7 680.2L153.2 679.3L152.7 678.1L152.2 677.8L151.7 676.8L151.2 676.9L150.7 678.0L150.2 677.9L149.7 677.7L149.2 675.3L148.7 674.7L148.2 674.2L147.7 672.8L147.2 675.2L146.7 675.5L146.2 677.3L145.7 678.4L145.2 679.2L144.7 680.3L144.2 680.8L143.7 680.7L143.2 680.8L142.7 681.8L142.2 684.1L141.7 683.8L141.2 685.3L140.7 684.1L140.2 685.2L139.7 687.2L139.2 685.4L138.7 685.2L138.2 684.0L137.7 683.7L137.2 685.0L136.7 689.3L136.2 689.9L135.7 691.3L135.2 694.2L134.7 694.0L134.2 693.3L133.7 692.9L133.2 693.3L132.7 692.3L132.2 689.2L131.7 686.7L131.2 685.2L130.7 682.2L130.2 682.0L129.7 682.2L129.2 684.4L128.7 685.7L128.2 686.4L127.7 684.2L127.2 684.4L126.7 682.8L126.2 681.3L125.7 680.1L125.2 679.3L124.7 678.3L124.2 676.1L123.7 676.0ZM895.40 566.2H895.90V733.5H895.40Z" stroke="#1f77b4" stroke-width="0.9" fill="#1f77b4" stroke-linejoin="round"/>
<path d="M124.50 742.50v4.86M209.50 742.50v4.86M294.50 742.50v4.86M380.50 742.50v4.86M465.50 742.50v4.86M550.50 742.50v4.86M636.50 742.50v4.86M721.50 742.50v4.86M806.50 742.50v4.86M892.50 742.50v4.86M977.50 742.50v4.86M82.50 591.50h-4.86M82.50 634.50h-4.86M82.50 678.50h-4.86M82.50 722.50h-4.86" stroke="#000" stroke-width="1.11" fill="none"/>
<rect x="82.50" y="558.50" width="930.00" height="184.00" fill="none" stroke="#000" stroke-width="1.11"/>
<text x="71.9" y="596.60" font-size="13.89" text-anchor="end">1<tspan dx="-1.1">.0</tspan></text>
<text x="71.9" y="640.25" font-size="13.89" text-anchor="end">0<tspan dx="-1.1">.5</tspan></text>
<text x="71.9" y="683.90" font-size="13.89" text-anchor="end">0<tspan dx="-1.1">.0</tspan></text>
<text x="71.9" y="727.55" font-size="13.89" text-anchor="end">−<tspan dx="-1.2">0.5</tspan></text>
<text transform="translate(546.8 550.20) scale(1 1.08)" font-size="16.67" text-anchor="middle">Up displacement</text>
<text transform="translate(29.70 652.80) rotate(-90)" font-size="13.89" text-anchor="middle">Disp.</text>
</g>
<text x="124.05" y="762.7" font-size="13.89" letter-spacing="-0.07" text-anchor="middle">2024-12-03</text>
<text x="209.35" y="762.7" font-size="13.89" letter-spacing="-0.07" text-anchor="middle">2024-12-04</text>
<text x="294.65" y="762.7" font-size="13.89" letter-spacing="-0.07" text-anchor="middle">2024-12-05</text>
<text x="379.95" y="762.7" font-size="13.89" letter-spacing="-0.07" text-anchor="middle">2024-12-06</text>
<text x="465.25" y="762.7" font-size="13.89" letter-spacing="-0.07" text-anchor="middle">2024-12-07</text>
<text x="550.55" y="762.7" font-size="13.89" letter-spacing="-0.07" text-anchor="middle">2024-12-08</text>
<text x="635.85" y="762.7" font-size="13.89" letter-spacing="-0.07" text-anchor="middle">2024-12-09</text>
<text x="721.15" y="762.7" font-size="13.89" letter-spacing="-0.07" text-anchor="middle">2024-12-10</text>
<text x="806.45" y="762.7" font-size="13.89" letter-spacing="-0.07" text-anchor="middle">2024-12-11</text>
<text x="891.75" y="762.7" font-size="13.89" letter-spacing="-0.07" text-anchor="middle">2024-12-12</text>
<text x="977.05" y="762.7" font-size="13.89" letter-spacing="-0.07" text-anchor="middle">2024-12-13</text>
<text x="546.5" y="782.5" font-size="13.89" text-anchor="middle">Time (UTC)</text>
</svg></body></html>
